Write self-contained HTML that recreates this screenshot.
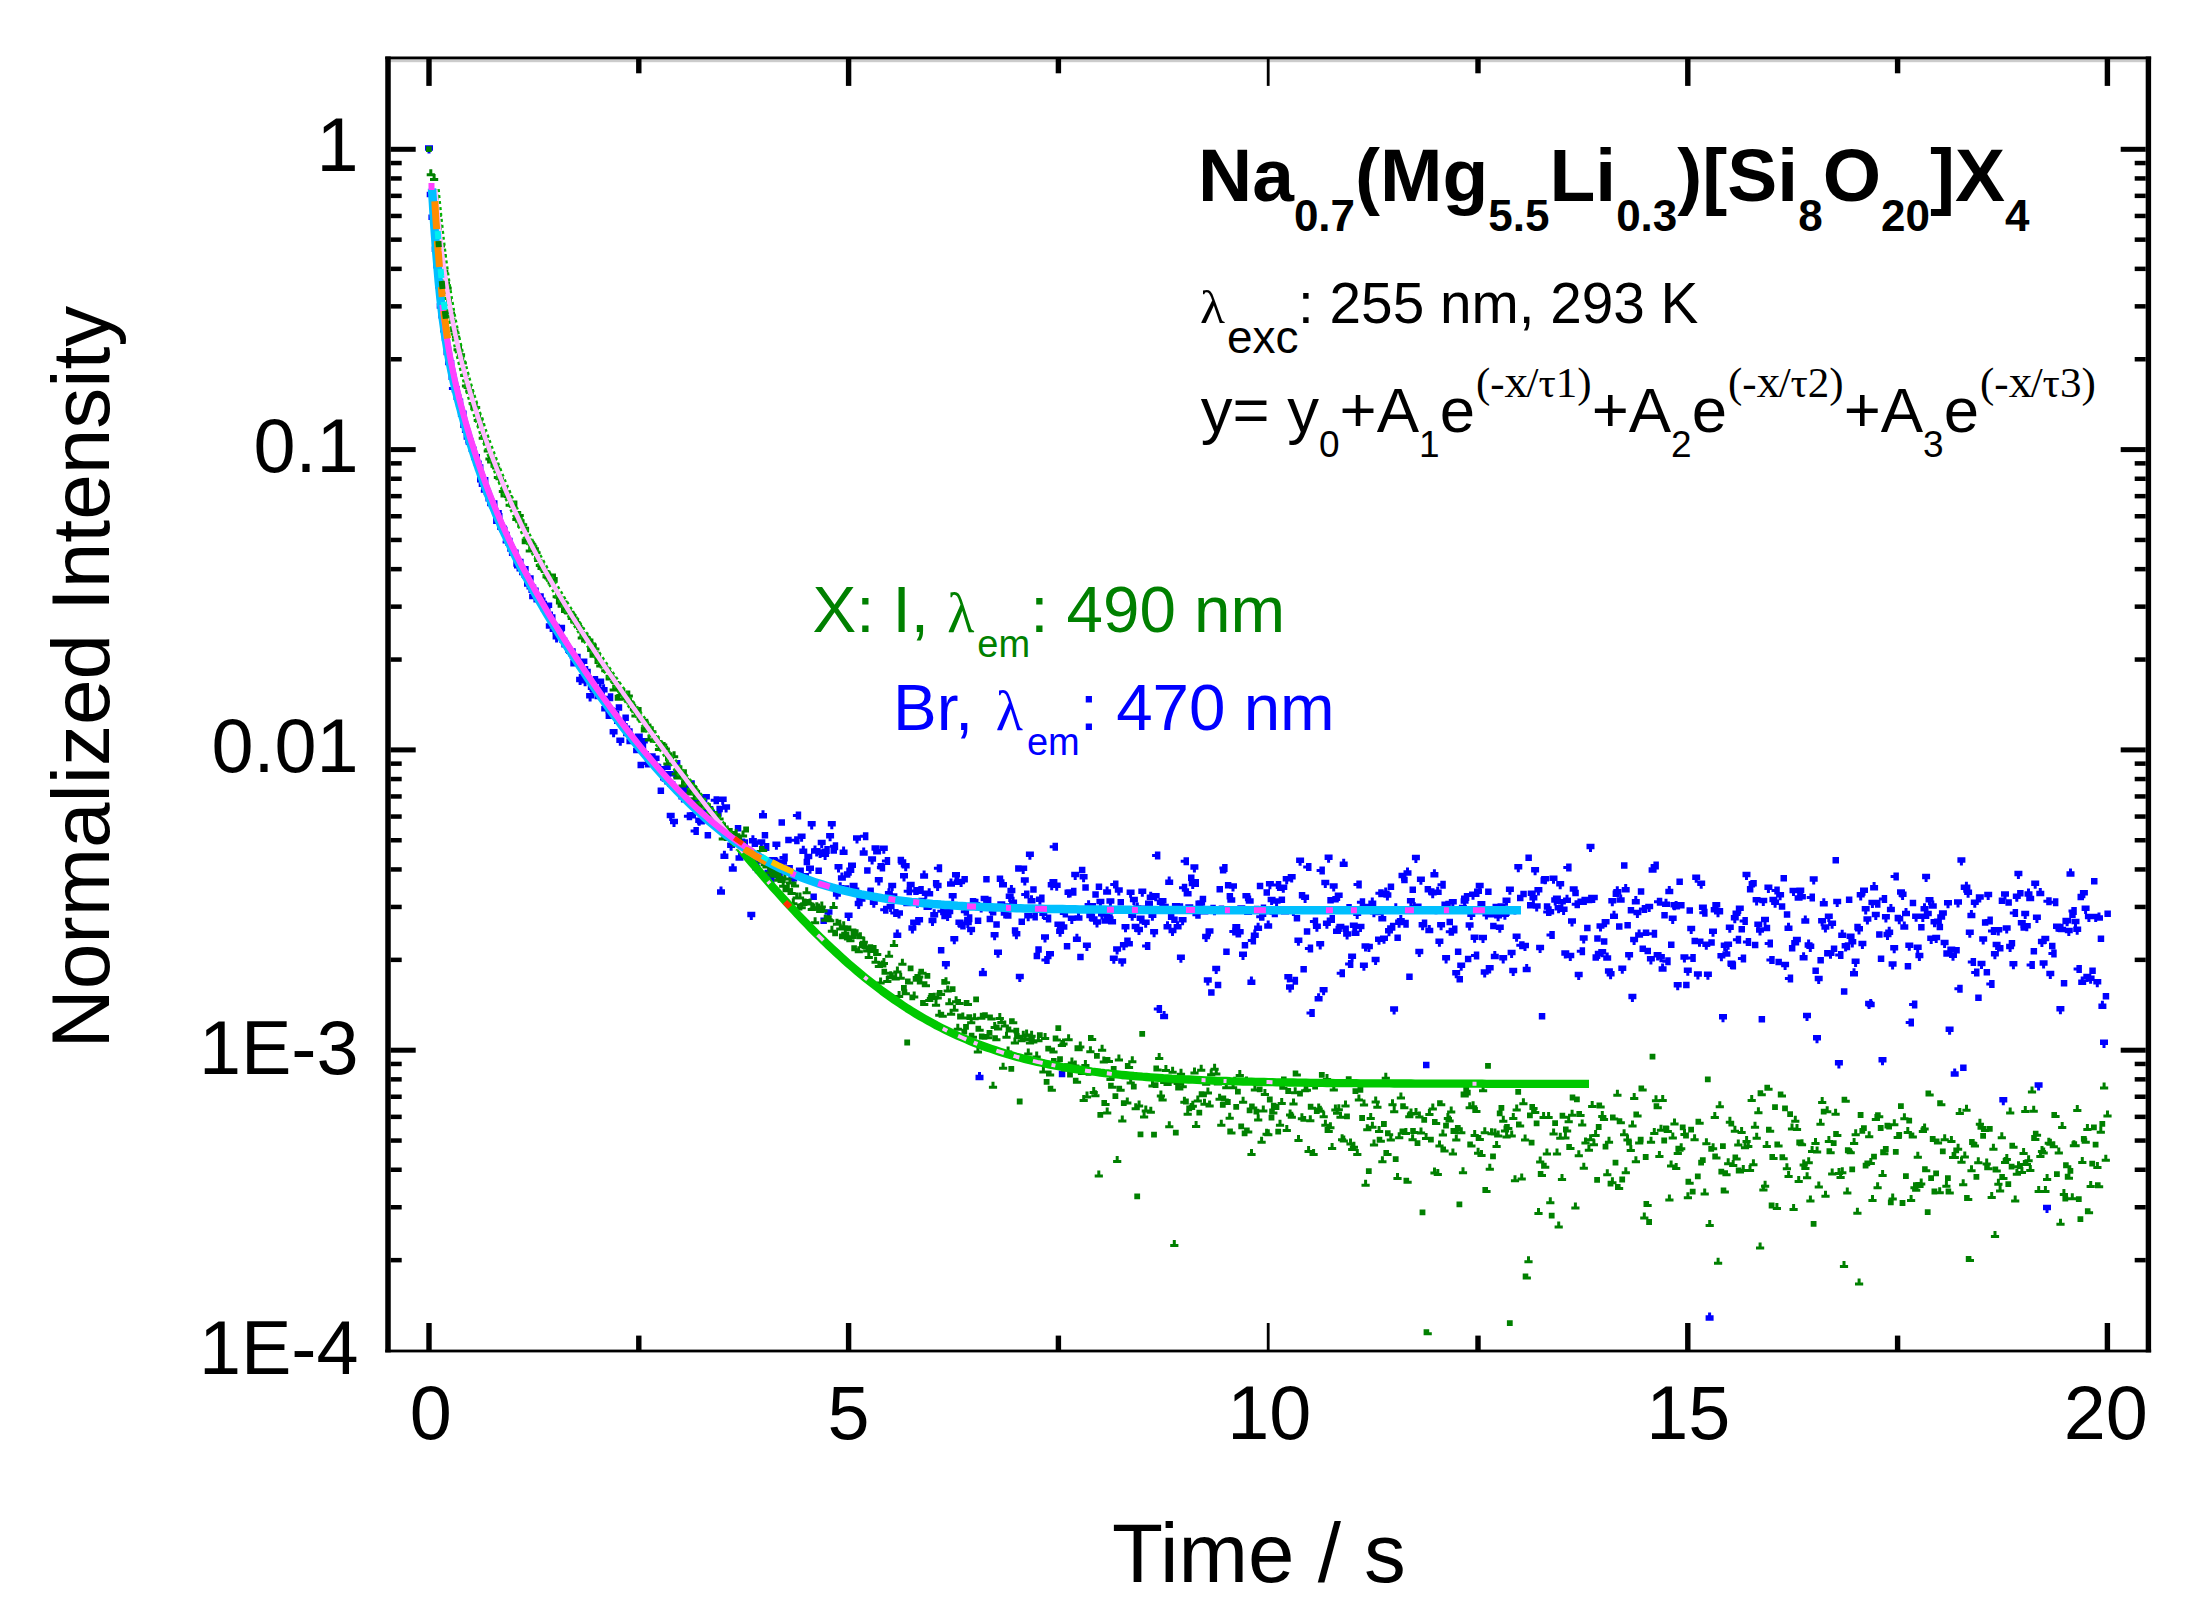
<!DOCTYPE html>
<html><head><meta charset="utf-8"><title>Decay curves</title>
<style>
html,body{margin:0;padding:0;background:#fff}
svg{display:block}
text{font-family:"Liberation Sans",sans-serif;fill:#000}
.ser{font-family:"Liberation Serif",serif}
</style></head><body>
<svg width="2198" height="1617" viewBox="0 0 2198 1617">
<rect width="2198" height="1617" fill="#fff"/>
<g id="frame" fill="#000">
<rect x="385.25" y="59.199999999999996" width="1765.9" height="3" fill="#ccc"/>
<rect x="385.25" y="56.5" width="5.5" height="1295.8999999999999"/>
<rect x="2145.7000000000003" y="56.5" width="5.4" height="1295.8999999999999"/>
<rect x="385.25" y="56.5" width="1765.9" height="2.8"/>
<rect x="385.25" y="1349.6" width="1765.9" height="2.8"/>
<rect x="426.3" y="57.9" width="5.4" height="28.0"/>
<rect x="426.3" y="1323.0" width="5.4" height="28.0"/>
<rect x="636.1" y="57.9" width="5.4" height="15.4"/>
<rect x="636.1" y="1335.6" width="5.4" height="15.4"/>
<rect x="845.9" y="57.9" width="5.4" height="28.0"/>
<rect x="845.9" y="1323.0" width="5.4" height="28.0"/>
<rect x="1055.7" y="57.9" width="5.4" height="15.4"/>
<rect x="1055.7" y="1335.6" width="5.4" height="15.4"/>
<rect x="1266.8" y="57.9" width="2.8" height="28.0"/>
<rect x="1266.8" y="1323.0" width="2.8" height="28.0"/>
<rect x="1475.3" y="57.9" width="5.4" height="15.4"/>
<rect x="1475.3" y="1335.6" width="5.4" height="15.4"/>
<rect x="1685.1" y="57.9" width="5.4" height="28.0"/>
<rect x="1685.1" y="1323.0" width="5.4" height="28.0"/>
<rect x="1894.9" y="57.9" width="5.4" height="15.4"/>
<rect x="1894.9" y="1335.6" width="5.4" height="15.4"/>
<rect x="2104.7" y="57.9" width="5.4" height="28.0"/>
<rect x="2104.7" y="1323.0" width="5.4" height="28.0"/>
<rect x="390.7" y="146.8" width="25" height="5.0"/>
<rect x="2120.7" y="146.8" width="25" height="5.0"/>
<rect x="390.7" y="447.1" width="25" height="5.0"/>
<rect x="2120.7" y="447.1" width="25" height="5.0"/>
<rect x="390.7" y="357.0" width="11" height="4.5"/>
<rect x="2134.7" y="357.0" width="11" height="4.5"/>
<rect x="390.7" y="304.1" width="11" height="4.5"/>
<rect x="2134.7" y="304.1" width="11" height="4.5"/>
<rect x="390.7" y="266.6" width="11" height="4.5"/>
<rect x="2134.7" y="266.6" width="11" height="4.5"/>
<rect x="390.7" y="237.4" width="11" height="4.5"/>
<rect x="2134.7" y="237.4" width="11" height="4.5"/>
<rect x="390.7" y="213.7" width="11" height="4.5"/>
<rect x="2134.7" y="213.7" width="11" height="4.5"/>
<rect x="390.7" y="193.6" width="11" height="4.5"/>
<rect x="2134.7" y="193.6" width="11" height="4.5"/>
<rect x="390.7" y="176.2" width="11" height="4.5"/>
<rect x="2134.7" y="176.2" width="11" height="4.5"/>
<rect x="390.7" y="160.8" width="11" height="4.5"/>
<rect x="2134.7" y="160.8" width="11" height="4.5"/>
<rect x="390.7" y="747.4" width="25" height="5.0"/>
<rect x="2120.7" y="747.4" width="25" height="5.0"/>
<rect x="390.7" y="657.3" width="11" height="4.5"/>
<rect x="2134.7" y="657.3" width="11" height="4.5"/>
<rect x="390.7" y="604.4" width="11" height="4.5"/>
<rect x="2134.7" y="604.4" width="11" height="4.5"/>
<rect x="390.7" y="566.9" width="11" height="4.5"/>
<rect x="2134.7" y="566.9" width="11" height="4.5"/>
<rect x="390.7" y="537.7" width="11" height="4.5"/>
<rect x="2134.7" y="537.7" width="11" height="4.5"/>
<rect x="390.7" y="514.0" width="11" height="4.5"/>
<rect x="2134.7" y="514.0" width="11" height="4.5"/>
<rect x="390.7" y="493.9" width="11" height="4.5"/>
<rect x="2134.7" y="493.9" width="11" height="4.5"/>
<rect x="390.7" y="476.5" width="11" height="4.5"/>
<rect x="2134.7" y="476.5" width="11" height="4.5"/>
<rect x="390.7" y="461.1" width="11" height="4.5"/>
<rect x="2134.7" y="461.1" width="11" height="4.5"/>
<rect x="390.7" y="1047.7" width="25" height="5.0"/>
<rect x="2120.7" y="1047.7" width="25" height="5.0"/>
<rect x="390.7" y="957.6" width="11" height="4.5"/>
<rect x="2134.7" y="957.6" width="11" height="4.5"/>
<rect x="390.7" y="904.7" width="11" height="4.5"/>
<rect x="2134.7" y="904.7" width="11" height="4.5"/>
<rect x="390.7" y="867.2" width="11" height="4.5"/>
<rect x="2134.7" y="867.2" width="11" height="4.5"/>
<rect x="390.7" y="838.0" width="11" height="4.5"/>
<rect x="2134.7" y="838.0" width="11" height="4.5"/>
<rect x="390.7" y="814.3" width="11" height="4.5"/>
<rect x="2134.7" y="814.3" width="11" height="4.5"/>
<rect x="390.7" y="794.2" width="11" height="4.5"/>
<rect x="2134.7" y="794.2" width="11" height="4.5"/>
<rect x="390.7" y="776.8" width="11" height="4.5"/>
<rect x="2134.7" y="776.8" width="11" height="4.5"/>
<rect x="390.7" y="761.4" width="11" height="4.5"/>
<rect x="2134.7" y="761.4" width="11" height="4.5"/>
<rect x="390.7" y="1257.9" width="11" height="4.5"/>
<rect x="2134.7" y="1257.9" width="11" height="4.5"/>
<rect x="390.7" y="1205.0" width="11" height="4.5"/>
<rect x="2134.7" y="1205.0" width="11" height="4.5"/>
<rect x="390.7" y="1167.5" width="11" height="4.5"/>
<rect x="2134.7" y="1167.5" width="11" height="4.5"/>
<rect x="390.7" y="1138.3" width="11" height="4.5"/>
<rect x="2134.7" y="1138.3" width="11" height="4.5"/>
<rect x="390.7" y="1114.6" width="11" height="4.5"/>
<rect x="2134.7" y="1114.6" width="11" height="4.5"/>
<rect x="390.7" y="1094.5" width="11" height="4.5"/>
<rect x="2134.7" y="1094.5" width="11" height="4.5"/>
<rect x="390.7" y="1077.1" width="11" height="4.5"/>
<rect x="2134.7" y="1077.1" width="11" height="4.5"/>
<rect x="390.7" y="1061.7" width="11" height="4.5"/>
<rect x="2134.7" y="1061.7" width="11" height="4.5"/>
</g>
<g id="data">
<path fill="#0000ff" d="M425.0,145.3h8v5.5h-2.5v2.8h-3v-2.8h-2.5zM426.7,191.8h8v5.5h-2.5v2.8h-3v-2.8h-2.5zM428.4,214.4h2.5v-2.8h3v2.8h2.5v5.5h-8zM430.0,215.3h8v5.5h-2.5v2.8h-3v-2.8h-2.5zM431.7,246.4h8v5.5h-2.5v2.8h-3v-2.8h-2.5zM433.4,263.1h8v5.5h-2.5v2.8h-3v-2.8h-2.5zM435.1,283.1h8v5.5h-2.5v2.8h-3v-2.8h-2.5zM436.7,303.3h2.5v-2.8h3v2.8h2.5v5.5h-8zM438.4,312.9h8v5.5h-2.5v2.8h-3v-2.8h-2.5zM440.1,327.1h2.5v-2.8h3v2.8h2.5v5.5h-8zM441.8,335.4h8v5.5h-2.5v2.8h-3v-2.8h-2.5zM443.5,349.7h8v5.5h-2.5v2.8h-3v-2.8h-2.5zM445.1,359.8h2.5v-2.8h3v2.8h2.5v5.5h-8zM447.8,359.9h6.5v6.5h-6.5zM448.5,374.5h8v5.5h-2.5v2.8h-3v-2.8h-2.5zM451.7,384.5h5.5v8h-5.5v-2.5h-2.8v-3h2.8zM451.9,386.3h8v5.5h-2.5v2.8h-3v-2.8h-2.5zM453.5,394.5h2.5v-2.8h3v2.8h2.5v5.5h-8zM455.2,398.6h8v5.5h-2.5v2.8h-3v-2.8h-2.5zM457.9,410.4h6.5v6.5h-6.5zM458.6,410.4h8v5.5h-2.5v2.8h-3v-2.8h-2.5zM460.2,422.5h2.5v-2.8h3v2.8h2.5v5.5h-8zM461.9,427.6h8v5.5h-2.5v2.8h-3v-2.8h-2.5zM463.6,434.2h8v5.5h-2.5v2.8h-3v-2.8h-2.5zM465.3,438.1h8v5.5h-2.5v2.8h-3v-2.8h-2.5zM468.5,439.6h5.5v8h-5.5v-2.5h-2.8v-3h2.8zM468.6,446.5h2.5v-2.8h3v2.8h2.5v5.5h-8zM471.3,453.8h6.5v6.5h-6.5zM472.0,454.1h8v5.5h-2.5v2.8h-3v-2.8h-2.5zM473.7,460.5h8v5.5h-2.5v2.8h-3v-2.8h-2.5zM475.4,464.3h8v5.5h-2.5v2.8h-3v-2.8h-2.5zM477.0,477.0h2.5v-2.8h3v2.8h2.5v5.5h-8zM478.7,481.5h8v5.5h-2.5v2.8h-3v-2.8h-2.5zM480.4,476.9h8v5.5h-2.5v2.8h-3v-2.8h-2.5zM483.6,487.2h5.5v8h-5.5v-2.5h-2.8v-3h2.8zM484.7,490.7h6.5v6.5h-6.5zM485.4,495.9h8v5.5h-2.5v2.8h-3v-2.8h-2.5zM487.1,500.8h8v5.5h-2.5v2.8h-3v-2.8h-2.5zM488.8,501.9h8v5.5h-2.5v2.8h-3v-2.8h-2.5zM492.0,500.3h5.5v8h-5.5v-2.5h-2.8v-3h2.8zM493.1,517.5h6.5v6.5h-6.5zM493.8,510.1h8v5.5h-2.5v2.8h-3v-2.8h-2.5zM497.0,513.0h5.5v8h-5.5v-2.5h-2.8v-3h2.8zM497.2,524.5h2.5v-2.8h3v2.8h2.5v5.5h-8zM498.8,525.6h8v5.5h-2.5v2.8h-3v-2.8h-2.5zM502.0,526.8h5.5v8h-5.5v-2.5h-2.8v-3h2.8zM503.2,531.7h6.5v6.5h-6.5zM505.4,538.1h5.5v8h-5.5v-2.5h-2.8v-3h2.8zM507.1,537.7h5.5v8h-5.5v-2.5h-2.8v-3h2.8zM507.2,546.2h8v5.5h-2.5v2.8h-3v-2.8h-2.5zM508.9,550.6h2.5v-2.8h3v2.8h2.5v5.5h-8zM510.6,549.5h8v5.5h-2.5v2.8h-3v-2.8h-2.5zM513.3,560.3h6.5v6.5h-6.5zM514.0,563.1h8v5.5h-2.5v2.8h-3v-2.8h-2.5zM515.6,558.8h8v5.5h-2.5v2.8h-3v-2.8h-2.5zM517.3,565.3h8v5.5h-2.5v2.8h-3v-2.8h-2.5zM519.0,569.8h8v5.5h-2.5v2.8h-3v-2.8h-2.5zM520.7,566.1h8v5.5h-2.5v2.8h-3v-2.8h-2.5zM522.3,573.4h8v5.5h-2.5v2.8h-3v-2.8h-2.5zM524.0,581.3h8v5.5h-2.5v2.8h-3v-2.8h-2.5zM525.7,575.3h8v5.5h-2.5v2.8h-3v-2.8h-2.5zM528.4,586.5h6.5v6.5h-6.5zM529.1,593.7h2.5v-2.8h3v2.8h2.5v5.5h-8zM530.7,587.4h2.5v-2.8h3v2.8h2.5v5.5h-8zM533.4,596.1h6.5v6.5h-6.5zM534.1,594.5h8v5.5h-2.5v2.8h-3v-2.8h-2.5zM535.8,593.3h8v5.5h-2.5v2.8h-3v-2.8h-2.5zM537.5,597.5h8v5.5h-2.5v2.8h-3v-2.8h-2.5zM539.1,600.7h8v5.5h-2.5v2.8h-3v-2.8h-2.5zM540.8,606.2h8v5.5h-2.5v2.8h-3v-2.8h-2.5zM542.5,607.6h8v5.5h-2.5v2.8h-3v-2.8h-2.5zM544.2,602.6h8v5.5h-2.5v2.8h-3v-2.8h-2.5zM545.8,623.2h2.5v-2.8h3v2.8h2.5v5.5h-8zM547.5,614.2h2.5v-2.8h3v2.8h2.5v5.5h-8zM549.2,622.1h8v5.5h-2.5v2.8h-3v-2.8h-2.5zM552.4,626.6h5.5v8h-5.5v-2.5h-2.8v-3h2.8zM552.6,634.1h8v5.5h-2.5v2.8h-3v-2.8h-2.5zM554.2,626.5h2.5v-2.8h3v2.8h2.5v5.5h-8zM555.9,630.3h8v5.5h-2.5v2.8h-3v-2.8h-2.5zM558.6,624.7h6.5v6.5h-6.5zM559.3,637.4h8v5.5h-2.5v2.8h-3v-2.8h-2.5zM562.0,639.9h6.5v6.5h-6.5zM564.1,641.9h5.5v8h-5.5v-2.5h-2.8v-3h2.8zM565.3,646.5h6.5v6.5h-6.5zM566.0,648.5h8v5.5h-2.5v2.8h-3v-2.8h-2.5zM567.7,648.2h8v5.5h-2.5v2.8h-3v-2.8h-2.5zM570.3,659.9h6.5v6.5h-6.5zM572.5,653.8h5.5v8h-5.5v-2.5h-2.8v-3h2.8zM572.7,653.7h8v5.5h-2.5v2.8h-3v-2.8h-2.5zM574.4,660.5h8v5.5h-2.5v2.8h-3v-2.8h-2.5zM576.1,676.7h8v5.5h-2.5v2.8h-3v-2.8h-2.5zM578.7,673.9h6.5v6.5h-6.5zM579.4,658.4h8v5.5h-2.5v2.8h-3v-2.8h-2.5zM581.1,677.9h8v5.5h-2.5v2.8h-3v-2.8h-2.5zM582.8,668.7h2.5v-2.8h3v2.8h2.5v5.5h-8zM585.4,675.5h6.5v6.5h-6.5zM586.1,693.1h8v5.5h-2.5v2.8h-3v-2.8h-2.5zM587.8,684.4h8v5.5h-2.5v2.8h-3v-2.8h-2.5zM589.5,686.6h2.5v-2.8h3v2.8h2.5v5.5h-8zM592.7,676.0h5.5v8h-5.5v-2.5h-2.8v-3h2.8zM592.8,686.5h8v5.5h-2.5v2.8h-3v-2.8h-2.5zM594.5,693.7h2.5v-2.8h3v2.8h2.5v5.5h-8zM596.2,678.4h8v5.5h-2.5v2.8h-3v-2.8h-2.5zM599.4,689.7h5.5v8h-5.5v-2.5h-2.8v-3h2.8zM599.6,687.0h2.5v-2.8h3v2.8h2.5v5.5h-8zM601.2,706.0h2.5v-2.8h3v2.8h2.5v5.5h-8zM602.9,705.4h8v5.5h-2.5v2.8h-3v-2.8h-2.5zM605.6,712.5h6.5v6.5h-6.5zM607.8,693.3h5.5v8h-5.5v-2.5h-2.8v-3h2.8zM609.4,707.5h5.5v8h-5.5v-2.5h-2.8v-3h2.8zM609.6,729.0h8v5.5h-2.5v2.8h-3v-2.8h-2.5zM611.3,711.0h2.5v-2.8h3v2.8h2.5v5.5h-8zM614.0,717.4h6.5v6.5h-6.5zM615.7,704.3h6.5v6.5h-6.5zM616.3,737.4h8v5.5h-2.5v2.8h-3v-2.8h-2.5zM618.0,721.3h8v5.5h-2.5v2.8h-3v-2.8h-2.5zM619.7,723.1h2.5v-2.8h3v2.8h2.5v5.5h-8zM622.4,714.6h6.5v6.5h-6.5zM623.1,730.8h2.5v-2.8h3v2.8h2.5v5.5h-8zM624.7,728.2h2.5v-2.8h3v2.8h2.5v5.5h-8zM626.4,738.8h2.5v-2.8h3v2.8h2.5v5.5h-8zM629.6,734.9h5.5v8h-5.5v-2.5h-2.8v-3h2.8zM630.8,735.5h6.5v6.5h-6.5zM632.9,735.9h5.5v8h-5.5v-2.5h-2.8v-3h2.8zM633.1,747.8h2.5v-2.8h3v2.8h2.5v5.5h-8zM634.8,733.5h8v5.5h-2.5v2.8h-3v-2.8h-2.5zM637.5,761.7h6.5v6.5h-6.5zM638.2,743.5h2.5v-2.8h3v2.8h2.5v5.5h-8zM639.8,738.0h8v5.5h-2.5v2.8h-3v-2.8h-2.5zM642.5,751.0h6.5v6.5h-6.5zM644.7,759.6h5.5v8h-5.5v-2.5h-2.8v-3h2.8zM644.9,758.2h8v5.5h-2.5v2.8h-3v-2.8h-2.5zM647.5,753.7h6.5v6.5h-6.5zM649.2,753.3h6.5v6.5h-6.5zM650.9,760.1h6.5v6.5h-6.5zM651.6,755.5h8v5.5h-2.5v2.8h-3v-2.8h-2.5zM653.3,764.3h8v5.5h-2.5v2.8h-3v-2.8h-2.5zM654.9,766.2h2.5v-2.8h3v2.8h2.5v5.5h-8zM657.6,787.4h6.5v6.5h-6.5zM659.8,766.1h5.5v8h-5.5v-2.5h-2.8v-3h2.8zM660.0,774.9h2.5v-2.8h3v2.8h2.5v5.5h-8zM661.7,776.2h8v5.5h-2.5v2.8h-3v-2.8h-2.5zM664.3,763.4h6.5v6.5h-6.5zM665.0,770.9h8v5.5h-2.5v2.8h-3v-2.8h-2.5zM666.7,812.8h8v5.5h-2.5v2.8h-3v-2.8h-2.5zM669.9,781.2h5.5v8h-5.5v-2.5h-2.8v-3h2.8zM670.0,818.7h8v5.5h-2.5v2.8h-3v-2.8h-2.5zM673.2,769.9h5.5v8h-5.5v-2.5h-2.8v-3h2.8zM674.9,759.9h5.5v8h-5.5v-2.5h-2.8v-3h2.8zM675.1,787.0h8v5.5h-2.5v2.8h-3v-2.8h-2.5zM676.8,790.3h8v5.5h-2.5v2.8h-3v-2.8h-2.5zM678.4,794.1h8v5.5h-2.5v2.8h-3v-2.8h-2.5zM681.6,786.1h5.5v8h-5.5v-2.5h-2.8v-3h2.8zM682.8,788.1h6.5v6.5h-6.5zM683.5,786.6h2.5v-2.8h3v2.8h2.5v5.5h-8zM686.7,812.3h5.5v8h-5.5v-2.5h-2.8v-3h2.8zM686.8,780.2h8v5.5h-2.5v2.8h-3v-2.8h-2.5zM689.5,812.1h6.5v6.5h-6.5zM691.7,798.2h5.5v8h-5.5v-2.5h-2.8v-3h2.8zM693.4,827.1h5.5v8h-5.5v-2.5h-2.8v-3h2.8zM693.5,793.0h8v5.5h-2.5v2.8h-3v-2.8h-2.5zM695.2,817.5h8v5.5h-2.5v2.8h-3v-2.8h-2.5zM696.9,818.9h2.5v-2.8h3v2.8h2.5v5.5h-8zM698.6,817.7h2.5v-2.8h3v2.8h2.5v5.5h-8zM700.3,808.8h8v5.5h-2.5v2.8h-3v-2.8h-2.5zM701.9,794.1h8v5.5h-2.5v2.8h-3v-2.8h-2.5zM704.6,831.9h6.5v6.5h-6.5zM705.3,806.0h8v5.5h-2.5v2.8h-3v-2.8h-2.5zM707.0,809.6h2.5v-2.8h3v2.8h2.5v5.5h-8zM708.6,811.5h8v5.5h-2.5v2.8h-3v-2.8h-2.5zM710.3,812.9h8v5.5h-2.5v2.8h-3v-2.8h-2.5zM713.5,796.3h5.5v8h-5.5v-2.5h-2.8v-3h2.8zM713.7,811.2h8v5.5h-2.5v2.8h-3v-2.8h-2.5zM716.4,805.7h6.5v6.5h-6.5zM717.0,889.2h2.5v-2.8h3v2.8h2.5v5.5h-8zM718.7,796.4h8v5.5h-2.5v2.8h-3v-2.8h-2.5zM720.4,853.5h2.5v-2.8h3v2.8h2.5v5.5h-8zM722.1,804.3h8v5.5h-2.5v2.8h-3v-2.8h-2.5zM724.8,831.8h6.5v6.5h-6.5zM725.4,833.5h2.5v-2.8h3v2.8h2.5v5.5h-8zM727.1,842.5h8v5.5h-2.5v2.8h-3v-2.8h-2.5zM728.8,866.2h2.5v-2.8h3v2.8h2.5v5.5h-8zM732.0,833.8h5.5v8h-5.5v-2.5h-2.8v-3h2.8zM732.1,838.3h8v5.5h-2.5v2.8h-3v-2.8h-2.5zM734.8,825.1h6.5v6.5h-6.5zM735.5,855.3h2.5v-2.8h3v2.8h2.5v5.5h-8zM737.2,838.4h8v5.5h-2.5v2.8h-3v-2.8h-2.5zM738.9,842.1h2.5v-2.8h3v2.8h2.5v5.5h-8zM741.5,839.3h6.5v6.5h-6.5zM743.7,848.3h5.5v8h-5.5v-2.5h-2.8v-3h2.8zM743.9,847.5h8v5.5h-2.5v2.8h-3v-2.8h-2.5zM745.6,855.6h8v5.5h-2.5v2.8h-3v-2.8h-2.5zM747.3,911.7h8v5.5h-2.5v2.8h-3v-2.8h-2.5zM748.9,838.0h2.5v-2.8h3v2.8h2.5v5.5h-8zM751.6,840.4h6.5v6.5h-6.5zM752.3,865.0h8v5.5h-2.5v2.8h-3v-2.8h-2.5zM754.0,857.9h8v5.5h-2.5v2.8h-3v-2.8h-2.5zM756.6,856.7h6.5v6.5h-6.5zM757.3,839.3h8v5.5h-2.5v2.8h-3v-2.8h-2.5zM759.0,813.0h2.5v-2.8h3v2.8h2.5v5.5h-8zM761.7,831.9h6.5v6.5h-6.5zM763.9,843.1h5.5v8h-5.5v-2.5h-2.8v-3h2.8zM765.0,872.4h6.5v6.5h-6.5zM767.2,867.3h5.5v8h-5.5v-2.5h-2.8v-3h2.8zM768.9,875.5h5.5v8h-5.5v-2.5h-2.8v-3h2.8zM769.1,857.1h8v5.5h-2.5v2.8h-3v-2.8h-2.5zM771.8,857.5h6.5v6.5h-6.5zM772.4,841.4h8v5.5h-2.5v2.8h-3v-2.8h-2.5zM775.1,859.2h6.5v6.5h-6.5zM777.3,873.1h5.5v8h-5.5v-2.5h-2.8v-3h2.8zM778.5,819.3h6.5v6.5h-6.5zM779.1,859.3h8v5.5h-2.5v2.8h-3v-2.8h-2.5zM782.3,853.6h5.5v8h-5.5v-2.5h-2.8v-3h2.8zM783.5,865.2h6.5v6.5h-6.5zM785.2,836.7h6.5v6.5h-6.5zM787.4,864.9h5.5v8h-5.5v-2.5h-2.8v-3h2.8zM788.5,871.6h6.5v6.5h-6.5zM789.2,876.0h8v5.5h-2.5v2.8h-3v-2.8h-2.5zM790.9,872.8h8v5.5h-2.5v2.8h-3v-2.8h-2.5zM794.1,836.3h5.5v8h-5.5v-2.5h-2.8v-3h2.8zM795.7,811.5h5.5v8h-5.5v-2.5h-2.8v-3h2.8zM795.9,867.6h8v5.5h-2.5v2.8h-3v-2.8h-2.5zM797.6,833.4h8v5.5h-2.5v2.8h-3v-2.8h-2.5zM799.3,848.6h2.5v-2.8h3v2.8h2.5v5.5h-8zM801.0,872.9h8v5.5h-2.5v2.8h-3v-2.8h-2.5zM803.6,858.7h6.5v6.5h-6.5zM804.3,853.7h8v5.5h-2.5v2.8h-3v-2.8h-2.5zM806.0,865.4h8v5.5h-2.5v2.8h-3v-2.8h-2.5zM807.7,821.1h8v5.5h-2.5v2.8h-3v-2.8h-2.5zM810.4,893.5h6.5v6.5h-6.5zM811.0,848.3h2.5v-2.8h3v2.8h2.5v5.5h-8zM812.7,848.1h8v5.5h-2.5v2.8h-3v-2.8h-2.5zM815.4,867.4h6.5v6.5h-6.5zM816.1,849.6h8v5.5h-2.5v2.8h-3v-2.8h-2.5zM817.7,839.8h8v5.5h-2.5v2.8h-3v-2.8h-2.5zM820.4,917.5h6.5v6.5h-6.5zM821.1,851.6h8v5.5h-2.5v2.8h-3v-2.8h-2.5zM824.3,846.1h5.5v8h-5.5v-2.5h-2.8v-3h2.8zM824.5,909.3h8v5.5h-2.5v2.8h-3v-2.8h-2.5zM826.1,832.9h8v5.5h-2.5v2.8h-3v-2.8h-2.5zM827.8,820.9h8v5.5h-2.5v2.8h-3v-2.8h-2.5zM830.5,847.3h6.5v6.5h-6.5zM832.7,842.2h5.5v8h-5.5v-2.5h-2.8v-3h2.8zM832.9,891.3h8v5.5h-2.5v2.8h-3v-2.8h-2.5zM834.5,864.1h8v5.5h-2.5v2.8h-3v-2.8h-2.5zM836.2,885.1h2.5v-2.8h3v2.8h2.5v5.5h-8zM837.9,875.2h2.5v-2.8h3v2.8h2.5v5.5h-8zM839.6,849.4h2.5v-2.8h3v2.8h2.5v5.5h-8zM841.2,885.2h8v5.5h-2.5v2.8h-3v-2.8h-2.5zM843.9,871.3h6.5v6.5h-6.5zM844.6,912.6h8v5.5h-2.5v2.8h-3v-2.8h-2.5zM846.3,867.5h8v5.5h-2.5v2.8h-3v-2.8h-2.5zM848.0,862.6h8v5.5h-2.5v2.8h-3v-2.8h-2.5zM849.6,882.8h8v5.5h-2.5v2.8h-3v-2.8h-2.5zM851.3,887.4h8v5.5h-2.5v2.8h-3v-2.8h-2.5zM853.0,835.3h8v5.5h-2.5v2.8h-3v-2.8h-2.5zM854.7,900.7h8v5.5h-2.5v2.8h-3v-2.8h-2.5zM856.3,895.4h8v5.5h-2.5v2.8h-3v-2.8h-2.5zM859.0,895.2h6.5v6.5h-6.5zM859.7,850.3h2.5v-2.8h3v2.8h2.5v5.5h-8zM862.9,832.2h5.5v8h-5.5v-2.5h-2.8v-3h2.8zM864.1,867.2h6.5v6.5h-6.5zM864.7,891.7h2.5v-2.8h3v2.8h2.5v5.5h-8zM867.4,887.4h6.5v6.5h-6.5zM868.1,856.2h8v5.5h-2.5v2.8h-3v-2.8h-2.5zM869.8,899.4h8v5.5h-2.5v2.8h-3v-2.8h-2.5zM871.5,845.2h8v5.5h-2.5v2.8h-3v-2.8h-2.5zM873.1,849.1h2.5v-2.8h3v2.8h2.5v5.5h-8zM874.8,877.1h8v5.5h-2.5v2.8h-3v-2.8h-2.5zM877.5,863.0h6.5v6.5h-6.5zM879.7,863.6h5.5v8h-5.5v-2.5h-2.8v-3h2.8zM879.8,845.4h8v5.5h-2.5v2.8h-3v-2.8h-2.5zM883.0,905.7h5.5v8h-5.5v-2.5h-2.8v-3h2.8zM884.7,857.0h5.5v8h-5.5v-2.5h-2.8v-3h2.8zM884.9,891.1h2.5v-2.8h3v2.8h2.5v5.5h-8zM886.6,903.7h8v5.5h-2.5v2.8h-3v-2.8h-2.5zM888.2,882.7h8v5.5h-2.5v2.8h-3v-2.8h-2.5zM890.9,893.3h6.5v6.5h-6.5zM893.1,909.1h5.5v8h-5.5v-2.5h-2.8v-3h2.8zM893.3,932.4h2.5v-2.8h3v2.8h2.5v5.5h-8zM895.0,910.3h8v5.5h-2.5v2.8h-3v-2.8h-2.5zM897.6,856.7h6.5v6.5h-6.5zM898.3,859.2h8v5.5h-2.5v2.8h-3v-2.8h-2.5zM900.0,873.1h8v5.5h-2.5v2.8h-3v-2.8h-2.5zM901.7,863.0h8v5.5h-2.5v2.8h-3v-2.8h-2.5zM903.3,900.7h2.5v-2.8h3v2.8h2.5v5.5h-8zM906.5,887.2h5.5v8h-5.5v-2.5h-2.8v-3h2.8zM906.7,881.7h8v5.5h-2.5v2.8h-3v-2.8h-2.5zM908.4,925.2h8v5.5h-2.5v2.8h-3v-2.8h-2.5zM910.1,919.4h8v5.5h-2.5v2.8h-3v-2.8h-2.5zM913.2,886.9h5.5v8h-5.5v-2.5h-2.8v-3h2.8zM913.4,899.5h8v5.5h-2.5v2.8h-3v-2.8h-2.5zM915.1,916.9h8v5.5h-2.5v2.8h-3v-2.8h-2.5zM918.3,886.0h5.5v8h-5.5v-2.5h-2.8v-3h2.8zM918.4,897.7h8v5.5h-2.5v2.8h-3v-2.8h-2.5zM920.1,873.3h2.5v-2.8h3v2.8h2.5v5.5h-8zM921.8,890.4h8v5.5h-2.5v2.8h-3v-2.8h-2.5zM923.5,904.6h2.5v-2.8h3v2.8h2.5v5.5h-8zM925.2,891.1h2.5v-2.8h3v2.8h2.5v5.5h-8zM926.8,901.0h8v5.5h-2.5v2.8h-3v-2.8h-2.5zM928.5,917.8h8v5.5h-2.5v2.8h-3v-2.8h-2.5zM930.2,912.0h2.5v-2.8h3v2.8h2.5v5.5h-8zM932.9,880.1h6.5v6.5h-6.5zM933.6,882.7h8v5.5h-2.5v2.8h-3v-2.8h-2.5zM936.7,864.3h5.5v8h-5.5v-2.5h-2.8v-3h2.8zM937.9,947.0h6.5v6.5h-6.5zM940.1,907.2h5.5v8h-5.5v-2.5h-2.8v-3h2.8zM941.3,912.8h6.5v6.5h-6.5zM941.9,961.0h8v5.5h-2.5v2.8h-3v-2.8h-2.5zM943.6,912.6h8v5.5h-2.5v2.8h-3v-2.8h-2.5zM945.3,908.7h8v5.5h-2.5v2.8h-3v-2.8h-2.5zM947.0,881.2h2.5v-2.8h3v2.8h2.5v5.5h-8zM948.7,893.1h8v5.5h-2.5v2.8h-3v-2.8h-2.5zM950.3,936.0h8v5.5h-2.5v2.8h-3v-2.8h-2.5zM952.0,872.1h8v5.5h-2.5v2.8h-3v-2.8h-2.5zM953.7,879.6h2.5v-2.8h3v2.8h2.5v5.5h-8zM955.4,919.5h8v5.5h-2.5v2.8h-3v-2.8h-2.5zM957.1,878.7h8v5.5h-2.5v2.8h-3v-2.8h-2.5zM960.2,921.4h5.5v8h-5.5v-2.5h-2.8v-3h2.8zM961.4,876.0h6.5v6.5h-6.5zM963.6,907.8h5.5v8h-5.5v-2.5h-2.8v-3h2.8zM963.8,919.8h8v5.5h-2.5v2.8h-3v-2.8h-2.5zM966.9,914.3h5.5v8h-5.5v-2.5h-2.8v-3h2.8zM967.1,926.7h8v5.5h-2.5v2.8h-3v-2.8h-2.5zM969.8,897.9h6.5v6.5h-6.5zM970.5,898.7h8v5.5h-2.5v2.8h-3v-2.8h-2.5zM972.2,901.9h8v5.5h-2.5v2.8h-3v-2.8h-2.5zM974.8,917.4h6.5v6.5h-6.5zM975.5,1074.8h2.5v-2.8h3v2.8h2.5v5.5h-8zM977.2,904.3h8v5.5h-2.5v2.8h-3v-2.8h-2.5zM978.9,970.7h2.5v-2.8h3v2.8h2.5v5.5h-8zM980.6,895.8h8v5.5h-2.5v2.8h-3v-2.8h-2.5zM983.2,876.0h6.5v6.5h-6.5zM984.9,896.8h6.5v6.5h-6.5zM986.6,915.8h6.5v6.5h-6.5zM988.8,905.2h5.5v8h-5.5v-2.5h-2.8v-3h2.8zM989.9,908.9h6.5v6.5h-6.5zM990.6,932.0h8v5.5h-2.5v2.8h-3v-2.8h-2.5zM993.3,921.2h6.5v6.5h-6.5zM994.0,949.4h8v5.5h-2.5v2.8h-3v-2.8h-2.5zM996.7,875.5h6.5v6.5h-6.5zM997.3,901.3h8v5.5h-2.5v2.8h-3v-2.8h-2.5zM999.0,882.0h2.5v-2.8h3v2.8h2.5v5.5h-8zM1000.7,910.2h8v5.5h-2.5v2.8h-3v-2.8h-2.5zM1003.9,903.2h5.5v8h-5.5v-2.5h-2.8v-3h2.8zM1005.0,912.2h6.5v6.5h-6.5zM1005.7,893.6h8v5.5h-2.5v2.8h-3v-2.8h-2.5zM1007.4,887.7h2.5v-2.8h3v2.8h2.5v5.5h-8zM1009.1,899.5h2.5v-2.8h3v2.8h2.5v5.5h-8zM1011.8,927.2h6.5v6.5h-6.5zM1012.4,930.9h8v5.5h-2.5v2.8h-3v-2.8h-2.5zM1015.1,865.3h6.5v6.5h-6.5zM1015.8,973.7h8v5.5h-2.5v2.8h-3v-2.8h-2.5zM1018.5,918.5h6.5v6.5h-6.5zM1019.2,865.6h8v5.5h-2.5v2.8h-3v-2.8h-2.5zM1020.8,877.2h8v5.5h-2.5v2.8h-3v-2.8h-2.5zM1024.0,890.6h5.5v8h-5.5v-2.5h-2.8v-3h2.8zM1024.2,913.0h8v5.5h-2.5v2.8h-3v-2.8h-2.5zM1025.9,851.5h8v5.5h-2.5v2.8h-3v-2.8h-2.5zM1027.5,898.0h2.5v-2.8h3v2.8h2.5v5.5h-8zM1030.2,886.2h6.5v6.5h-6.5zM1032.4,912.4h5.5v8h-5.5v-2.5h-2.8v-3h2.8zM1033.6,952.7h6.5v6.5h-6.5zM1035.3,946.2h6.5v6.5h-6.5zM1035.9,896.5h8v5.5h-2.5v2.8h-3v-2.8h-2.5zM1039.1,894.5h5.5v8h-5.5v-2.5h-2.8v-3h2.8zM1039.3,910.6h8v5.5h-2.5v2.8h-3v-2.8h-2.5zM1041.0,934.2h8v5.5h-2.5v2.8h-3v-2.8h-2.5zM1044.2,956.1h5.5v8h-5.5v-2.5h-2.8v-3h2.8zM1045.8,914.5h5.5v8h-5.5v-2.5h-2.8v-3h2.8zM1046.0,950.9h8v5.5h-2.5v2.8h-3v-2.8h-2.5zM1047.7,881.9h8v5.5h-2.5v2.8h-3v-2.8h-2.5zM1049.4,878.9h8v5.5h-2.5v2.8h-3v-2.8h-2.5zM1052.5,842.8h5.5v8h-5.5v-2.5h-2.8v-3h2.8zM1052.7,882.4h8v5.5h-2.5v2.8h-3v-2.8h-2.5zM1054.4,921.4h8v5.5h-2.5v2.8h-3v-2.8h-2.5zM1056.1,928.4h8v5.5h-2.5v2.8h-3v-2.8h-2.5zM1058.8,1070.7h6.5v6.5h-6.5zM1059.4,924.2h2.5v-2.8h3v2.8h2.5v5.5h-8zM1062.6,909.4h5.5v8h-5.5v-2.5h-2.8v-3h2.8zM1063.8,943.1h6.5v6.5h-6.5zM1064.5,889.5h8v5.5h-2.5v2.8h-3v-2.8h-2.5zM1066.1,889.3h8v5.5h-2.5v2.8h-3v-2.8h-2.5zM1067.8,915.6h8v5.5h-2.5v2.8h-3v-2.8h-2.5zM1071.0,887.8h5.5v8h-5.5v-2.5h-2.8v-3h2.8zM1071.2,871.8h8v5.5h-2.5v2.8h-3v-2.8h-2.5zM1072.9,936.5h2.5v-2.8h3v2.8h2.5v5.5h-8zM1074.5,915.2h2.5v-2.8h3v2.8h2.5v5.5h-8zM1077.2,953.8h6.5v6.5h-6.5zM1078.9,866.8h6.5v6.5h-6.5zM1079.6,874.0h8v5.5h-2.5v2.8h-3v-2.8h-2.5zM1082.3,884.2h6.5v6.5h-6.5zM1082.9,942.6h8v5.5h-2.5v2.8h-3v-2.8h-2.5zM1084.6,903.0h2.5v-2.8h3v2.8h2.5v5.5h-8zM1086.3,912.8h8v5.5h-2.5v2.8h-3v-2.8h-2.5zM1088.0,903.0h8v5.5h-2.5v2.8h-3v-2.8h-2.5zM1089.6,916.2h2.5v-2.8h3v2.8h2.5v5.5h-8zM1092.3,891.2h6.5v6.5h-6.5zM1093.0,919.2h8v5.5h-2.5v2.8h-3v-2.8h-2.5zM1095.7,883.5h6.5v6.5h-6.5zM1096.4,898.7h8v5.5h-2.5v2.8h-3v-2.8h-2.5zM1098.0,911.1h8v5.5h-2.5v2.8h-3v-2.8h-2.5zM1099.7,911.3h2.5v-2.8h3v2.8h2.5v5.5h-8zM1101.4,918.2h2.5v-2.8h3v2.8h2.5v5.5h-8zM1103.1,889.2h2.5v-2.8h3v2.8h2.5v5.5h-8zM1104.8,914.3h2.5v-2.8h3v2.8h2.5v5.5h-8zM1106.4,898.2h8v5.5h-2.5v2.8h-3v-2.8h-2.5zM1108.1,919.1h2.5v-2.8h3v2.8h2.5v5.5h-8zM1109.8,955.5h8v5.5h-2.5v2.8h-3v-2.8h-2.5zM1113.0,880.5h5.5v8h-5.5v-2.5h-2.8v-3h2.8zM1113.1,946.3h8v5.5h-2.5v2.8h-3v-2.8h-2.5zM1114.8,887.3h8v5.5h-2.5v2.8h-3v-2.8h-2.5zM1117.5,899.1h6.5v6.5h-6.5zM1118.2,958.3h8v5.5h-2.5v2.8h-3v-2.8h-2.5zM1119.9,942.0h8v5.5h-2.5v2.8h-3v-2.8h-2.5zM1121.5,924.0h8v5.5h-2.5v2.8h-3v-2.8h-2.5zM1124.2,937.5h6.5v6.5h-6.5zM1124.9,940.9h2.5v-2.8h3v2.8h2.5v5.5h-8zM1126.6,889.5h8v5.5h-2.5v2.8h-3v-2.8h-2.5zM1128.2,912.4h8v5.5h-2.5v2.8h-3v-2.8h-2.5zM1129.9,896.8h8v5.5h-2.5v2.8h-3v-2.8h-2.5zM1131.6,923.8h8v5.5h-2.5v2.8h-3v-2.8h-2.5zM1133.3,905.2h2.5v-2.8h3v2.8h2.5v5.5h-8zM1135.0,926.8h8v5.5h-2.5v2.8h-3v-2.8h-2.5zM1136.6,915.5h8v5.5h-2.5v2.8h-3v-2.8h-2.5zM1138.3,888.4h8v5.5h-2.5v2.8h-3v-2.8h-2.5zM1140.0,905.6h8v5.5h-2.5v2.8h-3v-2.8h-2.5zM1141.7,919.4h8v5.5h-2.5v2.8h-3v-2.8h-2.5zM1144.9,941.9h5.5v8h-5.5v-2.5h-2.8v-3h2.8zM1145.0,900.5h8v5.5h-2.5v2.8h-3v-2.8h-2.5zM1146.7,894.6h2.5v-2.8h3v2.8h2.5v5.5h-8zM1148.4,912.4h8v5.5h-2.5v2.8h-3v-2.8h-2.5zM1150.1,928.9h8v5.5h-2.5v2.8h-3v-2.8h-2.5zM1151.7,893.0h8v5.5h-2.5v2.8h-3v-2.8h-2.5zM1154.9,851.5h5.5v8h-5.5v-2.5h-2.8v-3h2.8zM1156.6,1004.9h5.5v8h-5.5v-2.5h-2.8v-3h2.8zM1156.8,899.6h8v5.5h-2.5v2.8h-3v-2.8h-2.5zM1158.5,898.1h8v5.5h-2.5v2.8h-3v-2.8h-2.5zM1160.1,1013.8h2.5v-2.8h3v2.8h2.5v5.5h-8zM1163.3,903.7h5.5v8h-5.5v-2.5h-2.8v-3h2.8zM1163.5,924.1h2.5v-2.8h3v2.8h2.5v5.5h-8zM1165.2,879.4h2.5v-2.8h3v2.8h2.5v5.5h-8zM1167.9,913.4h6.5v6.5h-6.5zM1168.5,927.7h8v5.5h-2.5v2.8h-3v-2.8h-2.5zM1171.2,916.4h6.5v6.5h-6.5zM1171.9,903.1h8v5.5h-2.5v2.8h-3v-2.8h-2.5zM1173.6,924.0h2.5v-2.8h3v2.8h2.5v5.5h-8zM1175.2,903.3h8v5.5h-2.5v2.8h-3v-2.8h-2.5zM1176.9,954.4h8v5.5h-2.5v2.8h-3v-2.8h-2.5zM1178.6,917.0h8v5.5h-2.5v2.8h-3v-2.8h-2.5zM1181.8,883.8h5.5v8h-5.5v-2.5h-2.8v-3h2.8zM1183.5,857.3h5.5v8h-5.5v-2.5h-2.8v-3h2.8zM1183.6,891.0h2.5v-2.8h3v2.8h2.5v5.5h-8zM1185.3,904.3h8v5.5h-2.5v2.8h-3v-2.8h-2.5zM1188.0,874.6h6.5v6.5h-6.5zM1188.7,880.8h8v5.5h-2.5v2.8h-3v-2.8h-2.5zM1190.4,864.2h8v5.5h-2.5v2.8h-3v-2.8h-2.5zM1193.5,879.1h5.5v8h-5.5v-2.5h-2.8v-3h2.8zM1195.2,910.7h5.5v8h-5.5v-2.5h-2.8v-3h2.8zM1195.4,900.5h8v5.5h-2.5v2.8h-3v-2.8h-2.5zM1197.1,900.3h2.5v-2.8h3v2.8h2.5v5.5h-8zM1199.7,895.8h6.5v6.5h-6.5zM1200.4,909.0h2.5v-2.8h3v2.8h2.5v5.5h-8zM1202.1,933.7h8v5.5h-2.5v2.8h-3v-2.8h-2.5zM1203.8,977.3h8v5.5h-2.5v2.8h-3v-2.8h-2.5zM1205.5,928.2h8v5.5h-2.5v2.8h-3v-2.8h-2.5zM1208.1,989.2h6.5v6.5h-6.5zM1210.3,904.8h5.5v8h-5.5v-2.5h-2.8v-3h2.8zM1210.5,906.9h8v5.5h-2.5v2.8h-3v-2.8h-2.5zM1212.2,965.8h8v5.5h-2.5v2.8h-3v-2.8h-2.5zM1214.8,981.7h6.5v6.5h-6.5zM1216.5,886.1h6.5v6.5h-6.5zM1218.7,905.4h5.5v8h-5.5v-2.5h-2.8v-3h2.8zM1219.9,867.0h6.5v6.5h-6.5zM1222.1,864.1h5.5v8h-5.5v-2.5h-2.8v-3h2.8zM1223.2,948.5h6.5v6.5h-6.5zM1224.9,881.9h6.5v6.5h-6.5zM1226.6,893.0h6.5v6.5h-6.5zM1227.3,897.3h2.5v-2.8h3v2.8h2.5v5.5h-8zM1229.0,883.3h8v5.5h-2.5v2.8h-3v-2.8h-2.5zM1232.1,927.6h5.5v8h-5.5v-2.5h-2.8v-3h2.8zM1232.3,923.9h8v5.5h-2.5v2.8h-3v-2.8h-2.5zM1235.5,929.5h5.5v8h-5.5v-2.5h-2.8v-3h2.8zM1235.7,929.0h8v5.5h-2.5v2.8h-3v-2.8h-2.5zM1237.3,905.3h8v5.5h-2.5v2.8h-3v-2.8h-2.5zM1239.0,951.6h8v5.5h-2.5v2.8h-3v-2.8h-2.5zM1241.7,942.1h6.5v6.5h-6.5zM1242.4,892.9h8v5.5h-2.5v2.8h-3v-2.8h-2.5zM1244.1,909.6h2.5v-2.8h3v2.8h2.5v5.5h-8zM1245.7,898.2h2.5v-2.8h3v2.8h2.5v5.5h-8zM1247.4,979.4h2.5v-2.8h3v2.8h2.5v5.5h-8zM1250.6,936.6h5.5v8h-5.5v-2.5h-2.8v-3h2.8zM1250.8,932.4h2.5v-2.8h3v2.8h2.5v5.5h-8zM1254.0,905.7h5.5v8h-5.5v-2.5h-2.8v-3h2.8zM1254.1,925.6h2.5v-2.8h3v2.8h2.5v5.5h-8zM1256.8,882.8h6.5v6.5h-6.5zM1259.0,912.8h5.5v8h-5.5v-2.5h-2.8v-3h2.8zM1260.7,904.5h5.5v8h-5.5v-2.5h-2.8v-3h2.8zM1260.8,908.8h8v5.5h-2.5v2.8h-3v-2.8h-2.5zM1263.5,889.2h6.5v6.5h-6.5zM1264.2,923.2h2.5v-2.8h3v2.8h2.5v5.5h-8zM1265.9,881.0h8v5.5h-2.5v2.8h-3v-2.8h-2.5zM1267.6,896.8h8v5.5h-2.5v2.8h-3v-2.8h-2.5zM1269.2,909.0h8v5.5h-2.5v2.8h-3v-2.8h-2.5zM1272.4,909.2h5.5v8h-5.5v-2.5h-2.8v-3h2.8zM1272.6,898.3h8v5.5h-2.5v2.8h-3v-2.8h-2.5zM1275.8,880.9h5.5v8h-5.5v-2.5h-2.8v-3h2.8zM1276.9,884.4h6.5v6.5h-6.5zM1278.6,896.5h6.5v6.5h-6.5zM1279.3,884.4h8v5.5h-2.5v2.8h-3v-2.8h-2.5zM1281.0,908.9h2.5v-2.8h3v2.8h2.5v5.5h-8zM1282.7,875.9h8v5.5h-2.5v2.8h-3v-2.8h-2.5zM1284.3,974.1h8v5.5h-2.5v2.8h-3v-2.8h-2.5zM1286.0,984.2h8v5.5h-2.5v2.8h-3v-2.8h-2.5zM1287.7,874.1h8v5.5h-2.5v2.8h-3v-2.8h-2.5zM1289.4,907.8h8v5.5h-2.5v2.8h-3v-2.8h-2.5zM1292.6,976.8h5.5v8h-5.5v-2.5h-2.8v-3h2.8zM1293.7,915.0h6.5v6.5h-6.5zM1294.4,937.4h8v5.5h-2.5v2.8h-3v-2.8h-2.5zM1296.1,857.4h8v5.5h-2.5v2.8h-3v-2.8h-2.5zM1298.8,891.9h6.5v6.5h-6.5zM1300.4,965.9h6.5v6.5h-6.5zM1301.1,894.6h8v5.5h-2.5v2.8h-3v-2.8h-2.5zM1303.8,928.2h6.5v6.5h-6.5zM1306.0,863.0h5.5v8h-5.5v-2.5h-2.8v-3h2.8zM1307.7,944.4h5.5v8h-5.5v-2.5h-2.8v-3h2.8zM1309.3,1009.1h5.5v8h-5.5v-2.5h-2.8v-3h2.8zM1310.5,907.0h6.5v6.5h-6.5zM1312.7,917.4h5.5v8h-5.5v-2.5h-2.8v-3h2.8zM1312.9,923.4h8v5.5h-2.5v2.8h-3v-2.8h-2.5zM1314.6,996.0h2.5v-2.8h3v2.8h2.5v5.5h-8zM1316.2,941.1h8v5.5h-2.5v2.8h-3v-2.8h-2.5zM1319.4,866.5h5.5v8h-5.5v-2.5h-2.8v-3h2.8zM1319.6,987.0h8v5.5h-2.5v2.8h-3v-2.8h-2.5zM1321.3,879.7h8v5.5h-2.5v2.8h-3v-2.8h-2.5zM1322.9,920.5h8v5.5h-2.5v2.8h-3v-2.8h-2.5zM1324.6,854.5h8v5.5h-2.5v2.8h-3v-2.8h-2.5zM1327.3,896.9h6.5v6.5h-6.5zM1329.5,914.9h5.5v8h-5.5v-2.5h-2.8v-3h2.8zM1329.7,883.2h8v5.5h-2.5v2.8h-3v-2.8h-2.5zM1332.3,895.9h6.5v6.5h-6.5zM1333.0,928.6h2.5v-2.8h3v2.8h2.5v5.5h-8zM1334.7,892.6h8v5.5h-2.5v2.8h-3v-2.8h-2.5zM1336.4,923.7h8v5.5h-2.5v2.8h-3v-2.8h-2.5zM1339.5,969.2h5.5v8h-5.5v-2.5h-2.8v-3h2.8zM1339.7,861.5h2.5v-2.8h3v2.8h2.5v5.5h-8zM1342.4,925.4h6.5v6.5h-6.5zM1343.1,931.2h8v5.5h-2.5v2.8h-3v-2.8h-2.5zM1346.3,904.0h5.5v8h-5.5v-2.5h-2.8v-3h2.8zM1347.9,960.1h5.5v8h-5.5v-2.5h-2.8v-3h2.8zM1348.1,953.4h8v5.5h-2.5v2.8h-3v-2.8h-2.5zM1349.8,922.6h8v5.5h-2.5v2.8h-3v-2.8h-2.5zM1351.5,930.6h2.5v-2.8h3v2.8h2.5v5.5h-8zM1353.2,910.6h8v5.5h-2.5v2.8h-3v-2.8h-2.5zM1356.3,880.5h5.5v8h-5.5v-2.5h-2.8v-3h2.8zM1356.5,923.7h8v5.5h-2.5v2.8h-3v-2.8h-2.5zM1359.7,898.2h5.5v8h-5.5v-2.5h-2.8v-3h2.8zM1359.9,962.4h8v5.5h-2.5v2.8h-3v-2.8h-2.5zM1361.5,943.2h8v5.5h-2.5v2.8h-3v-2.8h-2.5zM1364.2,903.7h6.5v6.5h-6.5zM1364.9,943.8h8v5.5h-2.5v2.8h-3v-2.8h-2.5zM1367.6,907.4h6.5v6.5h-6.5zM1368.3,900.4h2.5v-2.8h3v2.8h2.5v5.5h-8zM1369.9,908.9h8v5.5h-2.5v2.8h-3v-2.8h-2.5zM1371.6,956.8h8v5.5h-2.5v2.8h-3v-2.8h-2.5zM1374.3,908.7h6.5v6.5h-6.5zM1375.0,936.5h8v5.5h-2.5v2.8h-3v-2.8h-2.5zM1378.2,889.3h5.5v8h-5.5v-2.5h-2.8v-3h2.8zM1378.3,916.1h2.5v-2.8h3v2.8h2.5v5.5h-8zM1380.0,935.5h8v5.5h-2.5v2.8h-3v-2.8h-2.5zM1381.7,890.4h2.5v-2.8h3v2.8h2.5v5.5h-8zM1383.4,892.2h8v5.5h-2.5v2.8h-3v-2.8h-2.5zM1385.0,928.0h8v5.5h-2.5v2.8h-3v-2.8h-2.5zM1387.7,883.4h6.5v6.5h-6.5zM1389.9,922.8h5.5v8h-5.5v-2.5h-2.8v-3h2.8zM1390.1,1006.2h8v5.5h-2.5v2.8h-3v-2.8h-2.5zM1391.8,906.1h2.5v-2.8h3v2.8h2.5v5.5h-8zM1394.4,934.5h6.5v6.5h-6.5zM1395.1,919.5h8v5.5h-2.5v2.8h-3v-2.8h-2.5zM1396.8,917.9h2.5v-2.8h3v2.8h2.5v5.5h-8zM1398.5,872.8h8v5.5h-2.5v2.8h-3v-2.8h-2.5zM1401.2,876.7h6.5v6.5h-6.5zM1403.3,919.8h5.5v8h-5.5v-2.5h-2.8v-3h2.8zM1403.5,870.2h2.5v-2.8h3v2.8h2.5v5.5h-8zM1406.2,973.6h6.5v6.5h-6.5zM1406.9,898.1h8v5.5h-2.5v2.8h-3v-2.8h-2.5zM1409.5,886.6h6.5v6.5h-6.5zM1410.2,904.9h2.5v-2.8h3v2.8h2.5v5.5h-8zM1411.9,854.8h8v5.5h-2.5v2.8h-3v-2.8h-2.5zM1413.6,903.5h8v5.5h-2.5v2.8h-3v-2.8h-2.5zM1415.3,948.7h8v5.5h-2.5v2.8h-3v-2.8h-2.5zM1416.9,876.5h8v5.5h-2.5v2.8h-3v-2.8h-2.5zM1418.6,921.9h8v5.5h-2.5v2.8h-3v-2.8h-2.5zM1421.8,919.5h5.5v8h-5.5v-2.5h-2.8v-3h2.8zM1423.0,1061.8h6.5v6.5h-6.5zM1424.6,886.1h6.5v6.5h-6.5zM1425.3,927.8h2.5v-2.8h3v2.8h2.5v5.5h-8zM1428.0,888.2h6.5v6.5h-6.5zM1428.7,889.9h8v5.5h-2.5v2.8h-3v-2.8h-2.5zM1430.4,872.1h2.5v-2.8h3v2.8h2.5v5.5h-8zM1432.0,906.0h8v5.5h-2.5v2.8h-3v-2.8h-2.5zM1433.7,889.5h2.5v-2.8h3v2.8h2.5v5.5h-8zM1435.4,938.5h8v5.5h-2.5v2.8h-3v-2.8h-2.5zM1437.1,921.9h8v5.5h-2.5v2.8h-3v-2.8h-2.5zM1440.3,880.7h5.5v8h-5.5v-2.5h-2.8v-3h2.8zM1441.4,901.6h6.5v6.5h-6.5zM1442.1,955.1h8v5.5h-2.5v2.8h-3v-2.8h-2.5zM1445.3,900.8h5.5v8h-5.5v-2.5h-2.8v-3h2.8zM1446.5,918.8h6.5v6.5h-6.5zM1448.6,927.7h5.5v8h-5.5v-2.5h-2.8v-3h2.8zM1448.8,899.1h8v5.5h-2.5v2.8h-3v-2.8h-2.5zM1452.0,925.4h5.5v8h-5.5v-2.5h-2.8v-3h2.8zM1452.2,970.0h8v5.5h-2.5v2.8h-3v-2.8h-2.5zM1454.9,948.4h6.5v6.5h-6.5zM1456.5,976.1h6.5v6.5h-6.5zM1457.2,962.5h8v5.5h-2.5v2.8h-3v-2.8h-2.5zM1458.9,904.8h8v5.5h-2.5v2.8h-3v-2.8h-2.5zM1460.6,898.3h8v5.5h-2.5v2.8h-3v-2.8h-2.5zM1463.8,892.9h5.5v8h-5.5v-2.5h-2.8v-3h2.8zM1464.9,955.8h6.5v6.5h-6.5zM1465.6,922.3h8v5.5h-2.5v2.8h-3v-2.8h-2.5zM1467.3,911.6h8v5.5h-2.5v2.8h-3v-2.8h-2.5zM1469.0,891.5h8v5.5h-2.5v2.8h-3v-2.8h-2.5zM1470.6,934.5h8v5.5h-2.5v2.8h-3v-2.8h-2.5zM1473.8,951.5h5.5v8h-5.5v-2.5h-2.8v-3h2.8zM1474.0,888.6h8v5.5h-2.5v2.8h-3v-2.8h-2.5zM1475.7,882.8h8v5.5h-2.5v2.8h-3v-2.8h-2.5zM1477.4,901.1h8v5.5h-2.5v2.8h-3v-2.8h-2.5zM1479.0,934.7h8v5.5h-2.5v2.8h-3v-2.8h-2.5zM1480.7,969.2h8v5.5h-2.5v2.8h-3v-2.8h-2.5zM1482.4,911.1h8v5.5h-2.5v2.8h-3v-2.8h-2.5zM1485.1,888.4h6.5v6.5h-6.5zM1485.7,965.1h8v5.5h-2.5v2.8h-3v-2.8h-2.5zM1487.4,912.1h2.5v-2.8h3v2.8h2.5v5.5h-8zM1490.1,922.7h6.5v6.5h-6.5zM1490.8,953.8h2.5v-2.8h3v2.8h2.5v5.5h-8zM1492.5,903.8h8v5.5h-2.5v2.8h-3v-2.8h-2.5zM1494.1,912.9h8v5.5h-2.5v2.8h-3v-2.8h-2.5zM1495.8,924.5h8v5.5h-2.5v2.8h-3v-2.8h-2.5zM1497.5,903.2h8v5.5h-2.5v2.8h-3v-2.8h-2.5zM1499.2,955.1h8v5.5h-2.5v2.8h-3v-2.8h-2.5zM1500.9,911.4h8v5.5h-2.5v2.8h-3v-2.8h-2.5zM1502.5,897.5h8v5.5h-2.5v2.8h-3v-2.8h-2.5zM1504.2,907.7h8v5.5h-2.5v2.8h-3v-2.8h-2.5zM1505.9,886.5h8v5.5h-2.5v2.8h-3v-2.8h-2.5zM1507.6,949.8h8v5.5h-2.5v2.8h-3v-2.8h-2.5zM1509.2,967.7h8v5.5h-2.5v2.8h-3v-2.8h-2.5zM1510.9,906.3h8v5.5h-2.5v2.8h-3v-2.8h-2.5zM1512.6,933.4h8v5.5h-2.5v2.8h-3v-2.8h-2.5zM1514.3,863.9h8v5.5h-2.5v2.8h-3v-2.8h-2.5zM1517.0,894.8h6.5v6.5h-6.5zM1519.1,941.3h5.5v8h-5.5v-2.5h-2.8v-3h2.8zM1520.3,890.7h6.5v6.5h-6.5zM1521.0,942.7h8v5.5h-2.5v2.8h-3v-2.8h-2.5zM1522.7,966.7h2.5v-2.8h3v2.8h2.5v5.5h-8zM1525.4,854.4h6.5v6.5h-6.5zM1527.0,902.1h6.5v6.5h-6.5zM1527.7,890.6h8v5.5h-2.5v2.8h-3v-2.8h-2.5zM1529.4,895.0h8v5.5h-2.5v2.8h-3v-2.8h-2.5zM1531.1,867.0h8v5.5h-2.5v2.8h-3v-2.8h-2.5zM1532.7,903.2h8v5.5h-2.5v2.8h-3v-2.8h-2.5zM1534.4,887.1h8v5.5h-2.5v2.8h-3v-2.8h-2.5zM1536.1,944.7h8v5.5h-2.5v2.8h-3v-2.8h-2.5zM1538.8,1013.0h6.5v6.5h-6.5zM1540.5,877.3h6.5v6.5h-6.5zM1541.1,876.0h8v5.5h-2.5v2.8h-3v-2.8h-2.5zM1543.8,903.3h6.5v6.5h-6.5zM1546.0,908.1h5.5v8h-5.5v-2.5h-2.8v-3h2.8zM1546.2,909.1h2.5v-2.8h3v2.8h2.5v5.5h-8zM1549.3,930.9h5.5v8h-5.5v-2.5h-2.8v-3h2.8zM1549.5,875.4h8v5.5h-2.5v2.8h-3v-2.8h-2.5zM1551.2,897.3h8v5.5h-2.5v2.8h-3v-2.8h-2.5zM1552.9,895.6h8v5.5h-2.5v2.8h-3v-2.8h-2.5zM1554.6,904.9h8v5.5h-2.5v2.8h-3v-2.8h-2.5zM1556.2,881.0h8v5.5h-2.5v2.8h-3v-2.8h-2.5zM1557.9,899.1h8v5.5h-2.5v2.8h-3v-2.8h-2.5zM1559.6,906.6h8v5.5h-2.5v2.8h-3v-2.8h-2.5zM1561.3,950.2h8v5.5h-2.5v2.8h-3v-2.8h-2.5zM1563.0,897.6h2.5v-2.8h3v2.8h2.5v5.5h-8zM1566.1,863.5h5.5v8h-5.5v-2.5h-2.8v-3h2.8zM1566.3,952.8h8v5.5h-2.5v2.8h-3v-2.8h-2.5zM1568.0,918.3h8v5.5h-2.5v2.8h-3v-2.8h-2.5zM1569.7,886.2h8v5.5h-2.5v2.8h-3v-2.8h-2.5zM1572.3,889.8h6.5v6.5h-6.5zM1574.5,900.2h5.5v8h-5.5v-2.5h-2.8v-3h2.8zM1574.7,971.7h8v5.5h-2.5v2.8h-3v-2.8h-2.5zM1577.4,898.4h6.5v6.5h-6.5zM1579.6,947.2h5.5v8h-5.5v-2.5h-2.8v-3h2.8zM1579.7,935.3h8v5.5h-2.5v2.8h-3v-2.8h-2.5zM1581.4,896.8h8v5.5h-2.5v2.8h-3v-2.8h-2.5zM1584.1,924.8h6.5v6.5h-6.5zM1585.8,896.7h6.5v6.5h-6.5zM1586.5,843.8h8v5.5h-2.5v2.8h-3v-2.8h-2.5zM1588.1,894.7h8v5.5h-2.5v2.8h-3v-2.8h-2.5zM1589.8,894.8h8v5.5h-2.5v2.8h-3v-2.8h-2.5zM1592.5,954.2h6.5v6.5h-6.5zM1594.2,935.3h6.5v6.5h-6.5zM1594.8,950.7h8v5.5h-2.5v2.8h-3v-2.8h-2.5zM1596.5,923.3h8v5.5h-2.5v2.8h-3v-2.8h-2.5zM1598.2,949.0h8v5.5h-2.5v2.8h-3v-2.8h-2.5zM1600.9,938.2h6.5v6.5h-6.5zM1601.6,919.0h8v5.5h-2.5v2.8h-3v-2.8h-2.5zM1603.2,955.3h2.5v-2.8h3v2.8h2.5v5.5h-8zM1604.9,968.2h8v5.5h-2.5v2.8h-3v-2.8h-2.5zM1606.6,971.0h8v5.5h-2.5v2.8h-3v-2.8h-2.5zM1608.3,897.9h8v5.5h-2.5v2.8h-3v-2.8h-2.5zM1610.0,913.6h2.5v-2.8h3v2.8h2.5v5.5h-8zM1612.6,890.6h6.5v6.5h-6.5zM1613.3,889.1h2.5v-2.8h3v2.8h2.5v5.5h-8zM1616.0,923.3h6.5v6.5h-6.5zM1616.7,897.2h2.5v-2.8h3v2.8h2.5v5.5h-8zM1618.3,965.4h8v5.5h-2.5v2.8h-3v-2.8h-2.5zM1621.0,862.2h6.5v6.5h-6.5zM1621.7,886.9h2.5v-2.8h3v2.8h2.5v5.5h-8zM1624.4,922.1h6.5v6.5h-6.5zM1625.1,951.9h8v5.5h-2.5v2.8h-3v-2.8h-2.5zM1627.7,907.0h6.5v6.5h-6.5zM1628.4,993.8h8v5.5h-2.5v2.8h-3v-2.8h-2.5zM1630.1,936.8h8v5.5h-2.5v2.8h-3v-2.8h-2.5zM1631.8,898.9h2.5v-2.8h3v2.8h2.5v5.5h-8zM1633.4,909.8h8v5.5h-2.5v2.8h-3v-2.8h-2.5zM1635.1,932.3h2.5v-2.8h3v2.8h2.5v5.5h-8zM1637.8,888.2h6.5v6.5h-6.5zM1639.5,945.4h6.5v6.5h-6.5zM1641.7,905.0h5.5v8h-5.5v-2.5h-2.8v-3h2.8zM1642.8,929.6h6.5v6.5h-6.5zM1644.5,947.7h6.5v6.5h-6.5zM1645.2,903.7h8v5.5h-2.5v2.8h-3v-2.8h-2.5zM1646.9,956.1h8v5.5h-2.5v2.8h-3v-2.8h-2.5zM1648.6,867.3h2.5v-2.8h3v2.8h2.5v5.5h-8zM1651.7,929.7h5.5v8h-5.5v-2.5h-2.8v-3h2.8zM1653.4,861.6h5.5v8h-5.5v-2.5h-2.8v-3h2.8zM1653.6,952.1h8v5.5h-2.5v2.8h-3v-2.8h-2.5zM1656.8,897.8h5.5v8h-5.5v-2.5h-2.8v-3h2.8zM1656.9,953.9h8v5.5h-2.5v2.8h-3v-2.8h-2.5zM1658.6,966.2h2.5v-2.8h3v2.8h2.5v5.5h-8zM1661.3,911.9h6.5v6.5h-6.5zM1662.0,901.6h2.5v-2.8h3v2.8h2.5v5.5h-8zM1665.2,957.2h5.5v8h-5.5v-2.5h-2.8v-3h2.8zM1665.3,888.8h2.5v-2.8h3v2.8h2.5v5.5h-8zM1668.0,941.4h6.5v6.5h-6.5zM1668.7,915.6h8v5.5h-2.5v2.8h-3v-2.8h-2.5zM1670.4,901.9h8v5.5h-2.5v2.8h-3v-2.8h-2.5zM1672.1,903.9h2.5v-2.8h3v2.8h2.5v5.5h-8zM1673.7,982.0h8v5.5h-2.5v2.8h-3v-2.8h-2.5zM1676.4,878.5h6.5v6.5h-6.5zM1678.1,901.9h6.5v6.5h-6.5zM1680.4,954.2h8v5.5h-2.5v2.8h-3v-2.8h-2.5zM1683.1,981.7h6.5v6.5h-6.5zM1683.8,967.4h8v5.5h-2.5v2.8h-3v-2.8h-2.5zM1686.5,907.3h6.5v6.5h-6.5zM1687.2,925.8h8v5.5h-2.5v2.8h-3v-2.8h-2.5zM1690.3,954.1h5.5v8h-5.5v-2.5h-2.8v-3h2.8zM1691.5,937.7h6.5v6.5h-6.5zM1692.2,874.5h8v5.5h-2.5v2.8h-3v-2.8h-2.5zM1693.9,971.3h8v5.5h-2.5v2.8h-3v-2.8h-2.5zM1695.5,938.5h8v5.5h-2.5v2.8h-3v-2.8h-2.5zM1697.2,880.5h8v5.5h-2.5v2.8h-3v-2.8h-2.5zM1698.9,904.6h8v5.5h-2.5v2.8h-3v-2.8h-2.5zM1702.1,908.7h5.5v8h-5.5v-2.5h-2.8v-3h2.8zM1702.3,941.4h8v5.5h-2.5v2.8h-3v-2.8h-2.5zM1703.9,971.5h8v5.5h-2.5v2.8h-3v-2.8h-2.5zM1705.6,1315.2h2.5v-2.8h3v2.8h2.5v5.5h-8zM1708.3,939.3h6.5v6.5h-6.5zM1709.0,928.5h8v5.5h-2.5v2.8h-3v-2.8h-2.5zM1710.7,907.1h2.5v-2.8h3v2.8h2.5v5.5h-8zM1712.3,901.9h8v5.5h-2.5v2.8h-3v-2.8h-2.5zM1714.0,908.9h8v5.5h-2.5v2.8h-3v-2.8h-2.5zM1716.7,908.0h6.5v6.5h-6.5zM1717.4,952.9h8v5.5h-2.5v2.8h-3v-2.8h-2.5zM1719.0,1013.9h8v5.5h-2.5v2.8h-3v-2.8h-2.5zM1720.7,942.6h8v5.5h-2.5v2.8h-3v-2.8h-2.5zM1722.4,951.3h2.5v-2.8h3v2.8h2.5v5.5h-8zM1724.1,941.4h8v5.5h-2.5v2.8h-3v-2.8h-2.5zM1725.8,924.4h8v5.5h-2.5v2.8h-3v-2.8h-2.5zM1727.4,960.6h8v5.5h-2.5v2.8h-3v-2.8h-2.5zM1730.6,961.4h5.5v8h-5.5v-2.5h-2.8v-3h2.8zM1730.8,915.0h8v5.5h-2.5v2.8h-3v-2.8h-2.5zM1732.5,910.4h8v5.5h-2.5v2.8h-3v-2.8h-2.5zM1735.7,935.8h5.5v8h-5.5v-2.5h-2.8v-3h2.8zM1735.8,905.6h8v5.5h-2.5v2.8h-3v-2.8h-2.5zM1738.5,926.1h6.5v6.5h-6.5zM1740.7,954.6h5.5v8h-5.5v-2.5h-2.8v-3h2.8zM1742.4,917.0h5.5v8h-5.5v-2.5h-2.8v-3h2.8zM1742.5,871.7h8v5.5h-2.5v2.8h-3v-2.8h-2.5zM1745.7,938.1h5.5v8h-5.5v-2.5h-2.8v-3h2.8zM1746.9,886.1h6.5v6.5h-6.5zM1748.6,880.9h6.5v6.5h-6.5zM1750.3,880.0h6.5v6.5h-6.5zM1751.9,941.7h6.5v6.5h-6.5zM1752.6,897.1h8v5.5h-2.5v2.8h-3v-2.8h-2.5zM1754.3,921.6h8v5.5h-2.5v2.8h-3v-2.8h-2.5zM1756.0,927.3h8v5.5h-2.5v2.8h-3v-2.8h-2.5zM1758.6,1015.9h6.5v6.5h-6.5zM1759.3,897.8h8v5.5h-2.5v2.8h-3v-2.8h-2.5zM1761.0,916.7h8v5.5h-2.5v2.8h-3v-2.8h-2.5zM1763.7,924.8h6.5v6.5h-6.5zM1764.4,884.6h8v5.5h-2.5v2.8h-3v-2.8h-2.5zM1767.5,939.6h5.5v8h-5.5v-2.5h-2.8v-3h2.8zM1769.2,955.9h5.5v8h-5.5v-2.5h-2.8v-3h2.8zM1769.4,896.8h8v5.5h-2.5v2.8h-3v-2.8h-2.5zM1771.1,899.5h8v5.5h-2.5v2.8h-3v-2.8h-2.5zM1774.3,886.6h5.5v8h-5.5v-2.5h-2.8v-3h2.8zM1775.4,958.7h6.5v6.5h-6.5zM1776.1,892.0h8v5.5h-2.5v2.8h-3v-2.8h-2.5zM1778.8,903.2h6.5v6.5h-6.5zM1780.5,875.0h6.5v6.5h-6.5zM1781.1,961.8h8v5.5h-2.5v2.8h-3v-2.8h-2.5zM1783.8,911.3h6.5v6.5h-6.5zM1784.5,925.6h2.5v-2.8h3v2.8h2.5v5.5h-8zM1787.7,974.5h5.5v8h-5.5v-2.5h-2.8v-3h2.8zM1788.9,945.0h6.5v6.5h-6.5zM1789.5,887.7h8v5.5h-2.5v2.8h-3v-2.8h-2.5zM1791.2,940.0h2.5v-2.8h3v2.8h2.5v5.5h-8zM1792.9,936.8h8v5.5h-2.5v2.8h-3v-2.8h-2.5zM1794.6,895.3h2.5v-2.8h3v2.8h2.5v5.5h-8zM1796.3,887.6h8v5.5h-2.5v2.8h-3v-2.8h-2.5zM1797.9,894.1h2.5v-2.8h3v2.8h2.5v5.5h-8zM1799.6,955.0h2.5v-2.8h3v2.8h2.5v5.5h-8zM1801.3,918.2h2.5v-2.8h3v2.8h2.5v5.5h-8zM1803.0,1012.8h8v5.5h-2.5v2.8h-3v-2.8h-2.5zM1804.6,942.3h2.5v-2.8h3v2.8h2.5v5.5h-8zM1806.3,943.6h8v5.5h-2.5v2.8h-3v-2.8h-2.5zM1809.5,893.5h5.5v8h-5.5v-2.5h-2.8v-3h2.8zM1809.7,876.3h8v5.5h-2.5v2.8h-3v-2.8h-2.5zM1812.4,967.4h6.5v6.5h-6.5zM1813.0,1035.0h8v5.5h-2.5v2.8h-3v-2.8h-2.5zM1814.7,975.7h8v5.5h-2.5v2.8h-3v-2.8h-2.5zM1817.4,957.1h6.5v6.5h-6.5zM1818.1,917.9h8v5.5h-2.5v2.8h-3v-2.8h-2.5zM1819.8,901.1h2.5v-2.8h3v2.8h2.5v5.5h-8zM1821.4,924.3h8v5.5h-2.5v2.8h-3v-2.8h-2.5zM1824.1,949.9h6.5v6.5h-6.5zM1824.8,913.6h8v5.5h-2.5v2.8h-3v-2.8h-2.5zM1826.5,950.5h8v5.5h-2.5v2.8h-3v-2.8h-2.5zM1828.1,920.5h8v5.5h-2.5v2.8h-3v-2.8h-2.5zM1830.8,945.6h6.5v6.5h-6.5zM1832.5,857.1h6.5v6.5h-6.5zM1833.2,898.8h8v5.5h-2.5v2.8h-3v-2.8h-2.5zM1834.9,1060.1h8v5.5h-2.5v2.8h-3v-2.8h-2.5zM1838.0,951.1h5.5v8h-5.5v-2.5h-2.8v-3h2.8zM1838.2,932.6h2.5v-2.8h3v2.8h2.5v5.5h-8zM1840.9,988.2h6.5v6.5h-6.5zM1841.6,943.1h8v5.5h-2.5v2.8h-3v-2.8h-2.5zM1844.7,942.3h5.5v8h-5.5v-2.5h-2.8v-3h2.8zM1845.9,896.5h6.5v6.5h-6.5zM1846.6,933.6h8v5.5h-2.5v2.8h-3v-2.8h-2.5zM1848.3,939.1h8v5.5h-2.5v2.8h-3v-2.8h-2.5zM1850.0,971.0h2.5v-2.8h3v2.8h2.5v5.5h-8zM1851.6,958.6h8v5.5h-2.5v2.8h-3v-2.8h-2.5zM1854.3,923.7h6.5v6.5h-6.5zM1855.0,926.1h8v5.5h-2.5v2.8h-3v-2.8h-2.5zM1856.7,892.1h8v5.5h-2.5v2.8h-3v-2.8h-2.5zM1858.4,940.7h8v5.5h-2.5v2.8h-3v-2.8h-2.5zM1860.0,887.4h8v5.5h-2.5v2.8h-3v-2.8h-2.5zM1861.7,906.1h8v5.5h-2.5v2.8h-3v-2.8h-2.5zM1863.4,916.2h8v5.5h-2.5v2.8h-3v-2.8h-2.5zM1865.1,1000.8h8v5.5h-2.5v2.8h-3v-2.8h-2.5zM1866.7,1001.7h2.5v-2.8h3v2.8h2.5v5.5h-8zM1868.4,899.8h8v5.5h-2.5v2.8h-3v-2.8h-2.5zM1870.1,884.9h2.5v-2.8h3v2.8h2.5v5.5h-8zM1871.8,911.7h8v5.5h-2.5v2.8h-3v-2.8h-2.5zM1875.0,899.8h5.5v8h-5.5v-2.5h-2.8v-3h2.8zM1876.1,931.2h6.5v6.5h-6.5zM1877.8,955.6h6.5v6.5h-6.5zM1878.5,1057.0h8v5.5h-2.5v2.8h-3v-2.8h-2.5zM1881.7,894.9h5.5v8h-5.5v-2.5h-2.8v-3h2.8zM1881.9,914.1h8v5.5h-2.5v2.8h-3v-2.8h-2.5zM1883.5,931.7h8v5.5h-2.5v2.8h-3v-2.8h-2.5zM1885.2,929.6h2.5v-2.8h3v2.8h2.5v5.5h-8zM1886.9,906.7h2.5v-2.8h3v2.8h2.5v5.5h-8zM1888.6,961.3h8v5.5h-2.5v2.8h-3v-2.8h-2.5zM1890.2,944.9h8v5.5h-2.5v2.8h-3v-2.8h-2.5zM1893.4,872.6h5.5v8h-5.5v-2.5h-2.8v-3h2.8zM1894.6,914.7h6.5v6.5h-6.5zM1895.3,916.0h8v5.5h-2.5v2.8h-3v-2.8h-2.5zM1897.0,889.2h8v5.5h-2.5v2.8h-3v-2.8h-2.5zM1898.6,891.6h8v5.5h-2.5v2.8h-3v-2.8h-2.5zM1900.3,924.2h2.5v-2.8h3v2.8h2.5v5.5h-8zM1902.0,910.7h2.5v-2.8h3v2.8h2.5v5.5h-8zM1904.7,963.1h6.5v6.5h-6.5zM1905.3,942.5h8v5.5h-2.5v2.8h-3v-2.8h-2.5zM1908.5,1018.6h5.5v8h-5.5v-2.5h-2.8v-3h2.8zM1909.7,899.7h6.5v6.5h-6.5zM1911.9,1000.6h5.5v8h-5.5v-2.5h-2.8v-3h2.8zM1912.1,913.5h8v5.5h-2.5v2.8h-3v-2.8h-2.5zM1913.7,944.5h8v5.5h-2.5v2.8h-3v-2.8h-2.5zM1915.4,952.7h8v5.5h-2.5v2.8h-3v-2.8h-2.5zM1918.1,924.1h6.5v6.5h-6.5zM1918.8,913.6h8v5.5h-2.5v2.8h-3v-2.8h-2.5zM1920.5,906.0h2.5v-2.8h3v2.8h2.5v5.5h-8zM1922.1,873.7h8v5.5h-2.5v2.8h-3v-2.8h-2.5zM1923.8,910.8h8v5.5h-2.5v2.8h-3v-2.8h-2.5zM1925.5,896.9h8v5.5h-2.5v2.8h-3v-2.8h-2.5zM1927.2,935.6h8v5.5h-2.5v2.8h-3v-2.8h-2.5zM1928.8,903.2h2.5v-2.8h3v2.8h2.5v5.5h-8zM1930.5,918.9h8v5.5h-2.5v2.8h-3v-2.8h-2.5zM1932.2,934.8h8v5.5h-2.5v2.8h-3v-2.8h-2.5zM1933.9,918.6h8v5.5h-2.5v2.8h-3v-2.8h-2.5zM1936.6,923.7h6.5v6.5h-6.5zM1937.2,914.2h2.5v-2.8h3v2.8h2.5v5.5h-8zM1938.9,910.2h8v5.5h-2.5v2.8h-3v-2.8h-2.5zM1940.6,939.8h8v5.5h-2.5v2.8h-3v-2.8h-2.5zM1943.3,950.3h6.5v6.5h-6.5zM1944.0,899.9h8v5.5h-2.5v2.8h-3v-2.8h-2.5zM1945.6,1026.4h8v5.5h-2.5v2.8h-3v-2.8h-2.5zM1947.3,946.4h8v5.5h-2.5v2.8h-3v-2.8h-2.5zM1949.0,952.4h8v5.5h-2.5v2.8h-3v-2.8h-2.5zM1950.7,1071.2h2.5v-2.8h3v2.8h2.5v5.5h-8zM1953.3,947.1h6.5v6.5h-6.5zM1954.0,899.2h8v5.5h-2.5v2.8h-3v-2.8h-2.5zM1957.2,984.8h5.5v8h-5.5v-2.5h-2.8v-3h2.8zM1957.4,857.3h8v5.5h-2.5v2.8h-3v-2.8h-2.5zM1960.1,1064.6h6.5v6.5h-6.5zM1960.7,884.4h8v5.5h-2.5v2.8h-3v-2.8h-2.5zM1962.4,884.5h2.5v-2.8h3v2.8h2.5v5.5h-8zM1964.1,889.4h8v5.5h-2.5v2.8h-3v-2.8h-2.5zM1965.8,929.5h8v5.5h-2.5v2.8h-3v-2.8h-2.5zM1967.4,912.8h2.5v-2.8h3v2.8h2.5v5.5h-8zM1970.6,958.0h5.5v8h-5.5v-2.5h-2.8v-3h2.8zM1970.8,899.5h8v5.5h-2.5v2.8h-3v-2.8h-2.5zM1974.0,968.4h5.5v8h-5.5v-2.5h-2.8v-3h2.8zM1975.2,994.6h6.5v6.5h-6.5zM1975.8,894.2h8v5.5h-2.5v2.8h-3v-2.8h-2.5zM1977.5,960.7h8v5.5h-2.5v2.8h-3v-2.8h-2.5zM1979.2,936.2h8v5.5h-2.5v2.8h-3v-2.8h-2.5zM1981.9,919.2h6.5v6.5h-6.5zM1983.6,968.9h6.5v6.5h-6.5zM1984.2,891.7h8v5.5h-2.5v2.8h-3v-2.8h-2.5zM1987.4,916.6h5.5v8h-5.5v-2.5h-2.8v-3h2.8zM1989.1,980.1h5.5v8h-5.5v-2.5h-2.8v-3h2.8zM1990.8,927.0h5.5v8h-5.5v-2.5h-2.8v-3h2.8zM1990.9,951.0h8v5.5h-2.5v2.8h-3v-2.8h-2.5zM1992.6,941.7h8v5.5h-2.5v2.8h-3v-2.8h-2.5zM1994.3,927.1h8v5.5h-2.5v2.8h-3v-2.8h-2.5zM1997.0,944.9h6.5v6.5h-6.5zM1998.7,897.4h6.5v6.5h-6.5zM1999.3,1097.0h8v5.5h-2.5v2.8h-3v-2.8h-2.5zM2001.0,891.2h8v5.5h-2.5v2.8h-3v-2.8h-2.5zM2002.7,925.2h8v5.5h-2.5v2.8h-3v-2.8h-2.5zM2005.4,899.2h6.5v6.5h-6.5zM2006.1,943.8h8v5.5h-2.5v2.8h-3v-2.8h-2.5zM2008.7,940.0h6.5v6.5h-6.5zM2009.4,960.9h8v5.5h-2.5v2.8h-3v-2.8h-2.5zM2012.6,909.1h5.5v8h-5.5v-2.5h-2.8v-3h2.8zM2012.8,893.5h8v5.5h-2.5v2.8h-3v-2.8h-2.5zM2014.4,870.8h8v5.5h-2.5v2.8h-3v-2.8h-2.5zM2017.1,889.9h6.5v6.5h-6.5zM2017.8,920.0h8v5.5h-2.5v2.8h-3v-2.8h-2.5zM2020.5,924.2h6.5v6.5h-6.5zM2021.2,910.8h8v5.5h-2.5v2.8h-3v-2.8h-2.5zM2022.8,922.9h8v5.5h-2.5v2.8h-3v-2.8h-2.5zM2024.5,891.2h2.5v-2.8h3v2.8h2.5v5.5h-8zM2026.2,895.7h2.5v-2.8h3v2.8h2.5v5.5h-8zM2029.4,960.9h5.5v8h-5.5v-2.5h-2.8v-3h2.8zM2030.6,947.9h6.5v6.5h-6.5zM2031.2,880.5h8v5.5h-2.5v2.8h-3v-2.8h-2.5zM2032.9,914.6h8v5.5h-2.5v2.8h-3v-2.8h-2.5zM2034.6,1082.2h8v5.5h-2.5v2.8h-3v-2.8h-2.5zM2036.3,890.7h2.5v-2.8h3v2.8h2.5v5.5h-8zM2037.9,938.8h8v5.5h-2.5v2.8h-3v-2.8h-2.5zM2039.6,960.2h8v5.5h-2.5v2.8h-3v-2.8h-2.5zM2041.3,935.7h8v5.5h-2.5v2.8h-3v-2.8h-2.5zM2043.0,1204.8h8v5.5h-2.5v2.8h-3v-2.8h-2.5zM2046.2,897.3h5.5v8h-5.5v-2.5h-2.8v-3h2.8zM2046.3,970.7h8v5.5h-2.5v2.8h-3v-2.8h-2.5zM2049.0,942.8h6.5v6.5h-6.5zM2051.2,949.5h5.5v8h-5.5v-2.5h-2.8v-3h2.8zM2052.9,898.3h5.5v8h-5.5v-2.5h-2.8v-3h2.8zM2053.0,923.5h8v5.5h-2.5v2.8h-3v-2.8h-2.5zM2054.7,923.7h8v5.5h-2.5v2.8h-3v-2.8h-2.5zM2056.4,1006.0h8v5.5h-2.5v2.8h-3v-2.8h-2.5zM2058.1,926.7h2.5v-2.8h3v2.8h2.5v5.5h-8zM2060.8,979.9h6.5v6.5h-6.5zM2062.4,917.7h6.5v6.5h-6.5zM2063.1,917.9h8v5.5h-2.5v2.8h-3v-2.8h-2.5zM2064.8,927.7h8v5.5h-2.5v2.8h-3v-2.8h-2.5zM2066.5,871.2h2.5v-2.8h3v2.8h2.5v5.5h-8zM2069.2,911.6h6.5v6.5h-6.5zM2071.3,907.1h5.5v8h-5.5v-2.5h-2.8v-3h2.8zM2071.5,918.7h8v5.5h-2.5v2.8h-3v-2.8h-2.5zM2073.2,926.4h8v5.5h-2.5v2.8h-3v-2.8h-2.5zM2076.4,965.0h5.5v8h-5.5v-2.5h-2.8v-3h2.8zM2077.5,893.8h6.5v6.5h-6.5zM2078.2,979.4h2.5v-2.8h3v2.8h2.5v5.5h-8zM2079.9,890.0h8v5.5h-2.5v2.8h-3v-2.8h-2.5zM2081.6,905.6h8v5.5h-2.5v2.8h-3v-2.8h-2.5zM2083.3,973.8h8v5.5h-2.5v2.8h-3v-2.8h-2.5zM2084.9,913.7h8v5.5h-2.5v2.8h-3v-2.8h-2.5zM2086.6,975.5h8v5.5h-2.5v2.8h-3v-2.8h-2.5zM2089.3,967.4h6.5v6.5h-6.5zM2091.0,878.1h6.5v6.5h-6.5zM2091.7,913.8h8v5.5h-2.5v2.8h-3v-2.8h-2.5zM2093.3,978.9h8v5.5h-2.5v2.8h-3v-2.8h-2.5zM2095.0,915.2h2.5v-2.8h3v2.8h2.5v5.5h-8zM2097.7,935.4h6.5v6.5h-6.5zM2098.4,1003.6h2.5v-2.8h3v2.8h2.5v5.5h-8zM2100.0,1039.6h8v5.5h-2.5v2.8h-3v-2.8h-2.5zM2102.7,993.0h6.5v6.5h-6.5zM2104.4,910.6h6.5v6.5h-6.5z"/>
<path fill="#008000" d="M426.0,146.3h5.8v5.8h-5.8zM426.7,173.3h2.6v-4h3v4h2.6v3h-8.2zM430.0,177.9h2.6v-4h3v4h2.6v3h-8.2zM432.7,194.5h5.8v5.8h-5.8zM433.4,213.9h2.6v-4h3v4h2.6v3h-8.2zM436.1,224.5h5.8v5.8h-5.8zM436.7,241.4h5.6v3h2.6v3h-8.2zM438.4,251.0h5.6v3h2.6v3h-8.2zM440.1,266.7h5.6v3h2.6v3h-8.2zM441.8,281.4h2.6v-4h3v4h2.6v3h-8.2zM443.5,286.8h2.6v-4h3v4h2.6v3h-8.2zM446.1,297.9h5.8v5.8h-5.8zM446.8,311.6h2.6v-4h3v4h2.6v3h-8.2zM449.5,317.8h5.8v5.8h-5.8zM450.2,326.3h5.6v3h2.6v3h-8.2zM451.9,335.4h2.6v-4h3v4h2.6v3h-8.2zM453.5,348.3h2.6v-4h3v4h2.6v3h-8.2zM456.2,344.5h5.8v5.8h-5.8zM456.9,353.3h2.6v-4h3v4h2.6v3h-8.2zM458.6,361.4h2.6v-4h3v4h2.6v3h-8.2zM460.2,374.1h2.6v-4h3v4h2.6v3h-8.2zM461.9,384.5h2.6v-4h3v4h2.6v3h-8.2zM463.6,385.9h2.6v-4h3v4h2.6v3h-8.2zM465.3,389.4h2.6v-4h3v4h2.6v3h-8.2zM468.0,388.9h5.8v5.8h-5.8zM468.6,401.9h2.6v-4h3v4h2.6v3h-8.2zM470.3,404.3h5.6v3h2.6v3h-8.2zM472.0,406.0h2.6v-4h3v4h2.6v3h-8.2zM473.7,419.1h2.6v-4h3v4h2.6v3h-8.2zM475.4,417.6h2.6v-4h3v4h2.6v3h-8.2zM477.0,423.3h2.6v-4h3v4h2.6v3h-8.2zM478.7,436.7h2.6v-4h3v4h2.6v3h-8.2zM480.4,435.1h2.6v-4h3v4h2.6v3h-8.2zM483.1,439.6h5.8v5.8h-5.8zM483.7,449.5h2.6v-4h3v4h2.6v3h-8.2zM485.4,457.4h2.6v-4h3v4h2.6v3h-8.2zM487.1,460.4h2.6v-4h3v4h2.6v3h-8.2zM488.8,454.6h5.6v3h2.6v3h-8.2zM490.5,461.7h5.6v3h2.6v3h-8.2zM492.1,466.6h2.6v-4h3v4h2.6v3h-8.2zM493.8,476.0h2.6v-4h3v4h2.6v3h-8.2zM495.5,477.3h2.6v-4h3v4h2.6v3h-8.2zM498.2,477.7h5.8v5.8h-5.8zM498.8,490.0h2.6v-4h3v4h2.6v3h-8.2zM500.5,491.5h5.6v3h2.6v3h-8.2zM502.2,490.6h2.6v-4h3v4h2.6v3h-8.2zM503.9,495.0h2.6v-4h3v4h2.6v3h-8.2zM505.6,503.7h2.6v-4h3v4h2.6v3h-8.2zM507.2,503.8h2.6v-4h3v4h2.6v3h-8.2zM508.9,504.7h2.6v-4h3v4h2.6v3h-8.2zM511.6,500.4h5.8v5.8h-5.8zM512.3,518.0h2.6v-4h3v4h2.6v3h-8.2zM514.0,515.7h2.6v-4h3v4h2.6v3h-8.2zM515.6,510.9h5.6v3h2.6v3h-8.2zM517.3,521.8h5.6v3h2.6v3h-8.2zM519.0,523.3h2.6v-4h3v4h2.6v3h-8.2zM521.7,538.4h5.8v5.8h-5.8zM523.3,526.8h5.8v5.8h-5.8zM524.0,538.6h2.6v-4h3v4h2.6v3h-8.2zM525.7,549.5h2.6v-4h3v4h2.6v3h-8.2zM527.4,539.5h5.6v3h2.6v3h-8.2zM529.1,545.0h2.6v-4h3v4h2.6v3h-8.2zM530.7,547.3h2.6v-4h3v4h2.6v3h-8.2zM532.4,548.2h5.6v3h2.6v3h-8.2zM534.1,555.9h5.6v3h2.6v3h-8.2zM535.8,564.1h2.6v-4h3v4h2.6v3h-8.2zM537.5,566.9h2.6v-4h3v4h2.6v3h-8.2zM539.1,567.2h2.6v-4h3v4h2.6v3h-8.2zM540.8,570.1h2.6v-4h3v4h2.6v3h-8.2zM542.5,575.5h2.6v-4h3v4h2.6v3h-8.2zM544.2,576.5h2.6v-4h3v4h2.6v3h-8.2zM545.8,573.1h5.6v3h2.6v3h-8.2zM547.5,578.4h5.6v3h2.6v3h-8.2zM550.2,573.6h5.8v5.8h-5.8zM551.9,576.9h5.8v5.8h-5.8zM552.6,595.3h2.6v-4h3v4h2.6v3h-8.2zM554.2,595.8h2.6v-4h3v4h2.6v3h-8.2zM555.9,598.4h5.6v3h2.6v3h-8.2zM557.6,601.7h5.6v3h2.6v3h-8.2zM559.3,600.5h2.6v-4h3v4h2.6v3h-8.2zM561.0,607.0h5.6v3h2.6v3h-8.2zM563.6,608.3h5.8v5.8h-5.8zM564.3,611.4h2.6v-4h3v4h2.6v3h-8.2zM566.0,607.7h5.6v3h2.6v3h-8.2zM567.7,617.1h2.6v-4h3v4h2.6v3h-8.2zM570.3,617.6h5.8v5.8h-5.8zM571.0,618.0h2.6v-4h3v4h2.6v3h-8.2zM572.7,621.8h2.6v-4h3v4h2.6v3h-8.2zM574.4,625.0h2.6v-4h3v4h2.6v3h-8.2zM576.1,627.1h2.6v-4h3v4h2.6v3h-8.2zM577.7,636.4h2.6v-4h3v4h2.6v3h-8.2zM579.4,631.2h5.6v3h2.6v3h-8.2zM581.1,636.5h5.6v3h2.6v3h-8.2zM582.8,636.6h2.6v-4h3v4h2.6v3h-8.2zM584.4,639.7h2.6v-4h3v4h2.6v3h-8.2zM587.1,646.3h5.8v5.8h-5.8zM587.8,642.6h2.6v-4h3v4h2.6v3h-8.2zM589.5,651.7h5.6v3h2.6v3h-8.2zM591.2,647.6h2.6v-4h3v4h2.6v3h-8.2zM592.8,650.9h5.6v3h2.6v3h-8.2zM594.5,658.0h5.6v3h2.6v3h-8.2zM596.2,664.4h2.6v-4h3v4h2.6v3h-8.2zM597.9,663.8h2.6v-4h3v4h2.6v3h-8.2zM599.6,662.2h5.6v3h2.6v3h-8.2zM601.2,669.2h2.6v-4h3v4h2.6v3h-8.2zM602.9,670.0h2.6v-4h3v4h2.6v3h-8.2zM605.6,674.8h5.8v5.8h-5.8zM606.3,675.1h2.6v-4h3v4h2.6v3h-8.2zM607.9,676.6h2.6v-4h3v4h2.6v3h-8.2zM609.6,688.4h2.6v-4h3v4h2.6v3h-8.2zM611.3,677.9h5.6v3h2.6v3h-8.2zM614.0,685.5h5.8v5.8h-5.8zM614.7,694.7h5.6v3h2.6v3h-8.2zM616.3,693.9h2.6v-4h3v4h2.6v3h-8.2zM618.0,693.3h2.6v-4h3v4h2.6v3h-8.2zM619.7,692.2h2.6v-4h3v4h2.6v3h-8.2zM622.4,694.6h5.8v5.8h-5.8zM623.1,694.6h2.6v-4h3v4h2.6v3h-8.2zM624.7,694.5h2.6v-4h3v4h2.6v3h-8.2zM626.4,698.4h5.6v3h2.6v3h-8.2zM628.1,704.2h2.6v-4h3v4h2.6v3h-8.2zM629.8,708.0h2.6v-4h3v4h2.6v3h-8.2zM631.4,714.6h2.6v-4h3v4h2.6v3h-8.2zM633.1,710.6h2.6v-4h3v4h2.6v3h-8.2zM635.8,707.0h5.8v5.8h-5.8zM636.5,714.6h5.6v3h2.6v3h-8.2zM639.2,716.9h5.8v5.8h-5.8zM640.8,726.8h5.8v5.8h-5.8zM642.5,718.8h5.8v5.8h-5.8zM643.2,720.4h5.6v3h2.6v3h-8.2zM644.9,738.4h2.6v-4h3v4h2.6v3h-8.2zM647.5,726.7h5.8v5.8h-5.8zM648.2,730.2h2.6v-4h3v4h2.6v3h-8.2zM649.9,739.8h2.6v-4h3v4h2.6v3h-8.2zM651.6,735.1h5.6v3h2.6v3h-8.2zM653.3,739.9h2.6v-4h3v4h2.6v3h-8.2zM654.9,748.1h2.6v-4h3v4h2.6v3h-8.2zM656.6,747.8h2.6v-4h3v4h2.6v3h-8.2zM658.3,746.7h2.6v-4h3v4h2.6v3h-8.2zM660.0,746.1h2.6v-4h3v4h2.6v3h-8.2zM661.7,747.4h2.6v-4h3v4h2.6v3h-8.2zM663.3,762.4h2.6v-4h3v4h2.6v3h-8.2zM665.0,755.2h5.6v3h2.6v3h-8.2zM666.7,752.2h5.6v3h2.6v3h-8.2zM668.4,762.2h2.6v-4h3v4h2.6v3h-8.2zM670.0,755.2h2.6v-4h3v4h2.6v3h-8.2zM671.7,772.4h2.6v-4h3v4h2.6v3h-8.2zM673.4,776.4h2.6v-4h3v4h2.6v3h-8.2zM675.1,773.9h2.6v-4h3v4h2.6v3h-8.2zM676.8,769.3h2.6v-4h3v4h2.6v3h-8.2zM678.4,784.4h2.6v-4h3v4h2.6v3h-8.2zM681.1,769.2h5.8v5.8h-5.8zM681.8,775.8h5.6v3h2.6v3h-8.2zM683.5,781.8h2.6v-4h3v4h2.6v3h-8.2zM685.2,792.5h2.6v-4h3v4h2.6v3h-8.2zM686.8,787.9h5.6v3h2.6v3h-8.2zM688.5,782.1h5.6v3h2.6v3h-8.2zM690.2,797.3h2.6v-4h3v4h2.6v3h-8.2zM691.9,790.0h2.6v-4h3v4h2.6v3h-8.2zM694.5,801.5h5.8v5.8h-5.8zM695.2,796.5h2.6v-4h3v4h2.6v3h-8.2zM696.9,801.0h2.6v-4h3v4h2.6v3h-8.2zM698.6,799.8h5.6v3h2.6v3h-8.2zM700.3,805.4h2.6v-4h3v4h2.6v3h-8.2zM702.9,804.0h5.8v5.8h-5.8zM703.6,806.5h2.6v-4h3v4h2.6v3h-8.2zM705.3,807.3h2.6v-4h3v4h2.6v3h-8.2zM707.0,813.0h2.6v-4h3v4h2.6v3h-8.2zM708.6,819.3h2.6v-4h3v4h2.6v3h-8.2zM710.3,823.9h2.6v-4h3v4h2.6v3h-8.2zM712.0,811.1h5.6v3h2.6v3h-8.2zM713.7,825.1h2.6v-4h3v4h2.6v3h-8.2zM715.4,817.6h2.6v-4h3v4h2.6v3h-8.2zM717.0,826.9h2.6v-4h3v4h2.6v3h-8.2zM718.7,837.5h2.6v-4h3v4h2.6v3h-8.2zM720.4,822.4h5.6v3h2.6v3h-8.2zM722.1,831.5h2.6v-4h3v4h2.6v3h-8.2zM723.8,838.0h2.6v-4h3v4h2.6v3h-8.2zM725.4,834.0h2.6v-4h3v4h2.6v3h-8.2zM727.1,828.1h5.6v3h2.6v3h-8.2zM729.8,839.2h5.8v5.8h-5.8zM730.5,839.9h2.6v-4h3v4h2.6v3h-8.2zM732.1,833.2h2.6v-4h3v4h2.6v3h-8.2zM733.8,837.6h2.6v-4h3v4h2.6v3h-8.2zM735.5,838.5h5.6v3h2.6v3h-8.2zM737.2,843.2h2.6v-4h3v4h2.6v3h-8.2zM738.9,834.6h2.6v-4h3v4h2.6v3h-8.2zM740.5,845.4h2.6v-4h3v4h2.6v3h-8.2zM743.2,826.6h5.8v5.8h-5.8zM744.9,848.9h5.8v5.8h-5.8zM745.6,853.1h2.6v-4h3v4h2.6v3h-8.2zM747.3,851.8h2.6v-4h3v4h2.6v3h-8.2zM749.9,854.0h5.8v5.8h-5.8zM750.6,856.4h2.6v-4h3v4h2.6v3h-8.2zM752.3,857.4h2.6v-4h3v4h2.6v3h-8.2zM754.0,854.0h2.6v-4h3v4h2.6v3h-8.2zM755.6,856.4h2.6v-4h3v4h2.6v3h-8.2zM757.3,860.3h2.6v-4h3v4h2.6v3h-8.2zM759.0,846.0h5.6v3h2.6v3h-8.2zM760.7,863.3h2.6v-4h3v4h2.6v3h-8.2zM762.4,865.5h2.6v-4h3v4h2.6v3h-8.2zM764.0,862.8h2.6v-4h3v4h2.6v3h-8.2zM765.7,871.4h2.6v-4h3v4h2.6v3h-8.2zM767.4,865.0h5.6v3h2.6v3h-8.2zM769.1,874.3h2.6v-4h3v4h2.6v3h-8.2zM770.8,871.8h5.6v3h2.6v3h-8.2zM772.4,870.8h2.6v-4h3v4h2.6v3h-8.2zM774.1,878.7h2.6v-4h3v4h2.6v3h-8.2zM775.8,873.5h5.6v3h2.6v3h-8.2zM777.5,879.9h2.6v-4h3v4h2.6v3h-8.2zM779.1,884.7h2.6v-4h3v4h2.6v3h-8.2zM780.8,877.5h2.6v-4h3v4h2.6v3h-8.2zM782.5,886.3h5.6v3h2.6v3h-8.2zM784.2,888.2h2.6v-4h3v4h2.6v3h-8.2zM785.9,881.6h2.6v-4h3v4h2.6v3h-8.2zM787.5,892.0h2.6v-4h3v4h2.6v3h-8.2zM789.2,902.2h2.6v-4h3v4h2.6v3h-8.2zM790.9,881.6h5.6v3h2.6v3h-8.2zM792.6,896.6h2.6v-4h3v4h2.6v3h-8.2zM794.2,907.5h2.6v-4h3v4h2.6v3h-8.2zM795.9,896.4h2.6v-4h3v4h2.6v3h-8.2zM797.6,906.3h2.6v-4h3v4h2.6v3h-8.2zM799.3,902.9h2.6v-4h3v4h2.6v3h-8.2zM801.0,902.6h2.6v-4h3v4h2.6v3h-8.2zM802.6,891.3h2.6v-4h3v4h2.6v3h-8.2zM804.3,899.1h5.6v3h2.6v3h-8.2zM806.0,902.4h2.6v-4h3v4h2.6v3h-8.2zM807.7,908.1h2.6v-4h3v4h2.6v3h-8.2zM809.4,907.6h2.6v-4h3v4h2.6v3h-8.2zM811.0,921.2h2.6v-4h3v4h2.6v3h-8.2zM812.7,906.3h2.6v-4h3v4h2.6v3h-8.2zM814.4,907.6h2.6v-4h3v4h2.6v3h-8.2zM816.1,907.0h5.6v3h2.6v3h-8.2zM817.7,905.5h2.6v-4h3v4h2.6v3h-8.2zM819.4,909.6h2.6v-4h3v4h2.6v3h-8.2zM821.1,918.7h2.6v-4h3v4h2.6v3h-8.2zM823.8,915.7h5.8v5.8h-5.8zM824.5,915.3h5.6v3h2.6v3h-8.2zM826.1,919.3h2.6v-4h3v4h2.6v3h-8.2zM827.8,929.7h2.6v-4h3v4h2.6v3h-8.2zM829.5,906.0h2.6v-4h3v4h2.6v3h-8.2zM832.2,930.4h5.8v5.8h-5.8zM832.9,922.7h2.6v-4h3v4h2.6v3h-8.2zM835.5,919.8h5.8v5.8h-5.8zM836.2,927.5h2.6v-4h3v4h2.6v3h-8.2zM838.9,933.4h5.8v5.8h-5.8zM839.6,925.2h2.6v-4h3v4h2.6v3h-8.2zM841.2,931.8h2.6v-4h3v4h2.6v3h-8.2zM843.9,934.8h5.8v5.8h-5.8zM845.6,925.5h5.8v5.8h-5.8zM846.3,939.2h2.6v-4h3v4h2.6v3h-8.2zM848.0,936.1h2.6v-4h3v4h2.6v3h-8.2zM850.6,928.6h5.8v5.8h-5.8zM851.3,945.2h5.6v3h2.6v3h-8.2zM853.0,933.3h2.6v-4h3v4h2.6v3h-8.2zM854.7,950.2h2.6v-4h3v4h2.6v3h-8.2zM856.3,936.2h2.6v-4h3v4h2.6v3h-8.2zM859.0,942.1h5.8v5.8h-5.8zM859.7,940.8h2.6v-4h3v4h2.6v3h-8.2zM861.4,946.3h2.6v-4h3v4h2.6v3h-8.2zM863.1,949.5h2.6v-4h3v4h2.6v3h-8.2zM864.7,956.1h2.6v-4h3v4h2.6v3h-8.2zM867.4,944.3h5.8v5.8h-5.8zM868.1,949.9h2.6v-4h3v4h2.6v3h-8.2zM870.8,944.9h5.8v5.8h-5.8zM871.5,960.7h2.6v-4h3v4h2.6v3h-8.2zM873.1,953.1h2.6v-4h3v4h2.6v3h-8.2zM874.8,965.1h2.6v-4h3v4h2.6v3h-8.2zM876.5,981.6h2.6v-4h3v4h2.6v3h-8.2zM878.2,964.5h2.6v-4h3v4h2.6v3h-8.2zM879.8,961.9h2.6v-4h3v4h2.6v3h-8.2zM881.5,968.8h5.6v3h2.6v3h-8.2zM883.2,980.0h2.6v-4h3v4h2.6v3h-8.2zM884.9,954.8h2.6v-4h3v4h2.6v3h-8.2zM886.6,975.3h2.6v-4h3v4h2.6v3h-8.2zM888.2,976.2h2.6v-4h3v4h2.6v3h-8.2zM889.9,944.1h2.6v-4h3v4h2.6v3h-8.2zM891.6,977.4h2.6v-4h3v4h2.6v3h-8.2zM893.3,970.5h2.6v-4h3v4h2.6v3h-8.2zM895.0,995.0h2.6v-4h3v4h2.6v3h-8.2zM896.6,976.8h2.6v-4h3v4h2.6v3h-8.2zM898.3,962.8h2.6v-4h3v4h2.6v3h-8.2zM901.0,984.9h5.8v5.8h-5.8zM901.7,989.2h5.6v3h2.6v3h-8.2zM904.3,1039.6h5.8v5.8h-5.8zM905.0,978.5h5.6v3h2.6v3h-8.2zM907.7,965.4h5.8v5.8h-5.8zM909.4,994.4h5.8v5.8h-5.8zM910.1,995.5h2.6v-4h3v4h2.6v3h-8.2zM912.7,975.9h5.8v5.8h-5.8zM914.4,973.9h5.8v5.8h-5.8zM915.1,975.4h2.6v-4h3v4h2.6v3h-8.2zM916.8,978.5h5.6v3h2.6v3h-8.2zM918.4,968.7h5.6v3h2.6v3h-8.2zM920.1,999.9h5.6v3h2.6v3h-8.2zM921.8,981.2h5.6v3h2.6v3h-8.2zM924.5,973.0h5.8v5.8h-5.8zM925.2,999.1h2.6v-4h3v4h2.6v3h-8.2zM926.8,997.0h2.6v-4h3v4h2.6v3h-8.2zM928.5,993.0h5.6v3h2.6v3h-8.2zM930.2,996.7h2.6v-4h3v4h2.6v3h-8.2zM931.9,1003.7h2.6v-4h3v4h2.6v3h-8.2zM933.6,996.5h2.6v-4h3v4h2.6v3h-8.2zM935.2,1013.7h2.6v-4h3v4h2.6v3h-8.2zM936.9,990.0h5.6v3h2.6v3h-8.2zM938.6,1011.7h5.6v3h2.6v3h-8.2zM941.3,979.0h5.8v5.8h-5.8zM941.9,981.2h2.6v-4h3v4h2.6v3h-8.2zM943.6,989.6h2.6v-4h3v4h2.6v3h-8.2zM945.3,1002.3h2.6v-4h3v4h2.6v3h-8.2zM947.0,1012.8h2.6v-4h3v4h2.6v3h-8.2zM949.7,986.3h5.8v5.8h-5.8zM950.3,1008.8h2.6v-4h3v4h2.6v3h-8.2zM952.0,1000.3h2.6v-4h3v4h2.6v3h-8.2zM953.7,1027.7h2.6v-4h3v4h2.6v3h-8.2zM955.4,998.9h5.6v3h2.6v3h-8.2zM957.1,1013.4h5.6v3h2.6v3h-8.2zM958.7,1016.6h2.6v-4h3v4h2.6v3h-8.2zM961.4,1028.7h5.8v5.8h-5.8zM963.1,1024.0h5.8v5.8h-5.8zM963.8,999.9h5.6v3h2.6v3h-8.2zM966.4,1014.3h5.8v5.8h-5.8zM967.1,1021.2h2.6v-4h3v4h2.6v3h-8.2zM968.8,1032.8h5.6v3h2.6v3h-8.2zM970.5,1017.3h2.6v-4h3v4h2.6v3h-8.2zM973.2,996.5h5.8v5.8h-5.8zM973.8,1050.5h2.6v-4h3v4h2.6v3h-8.2zM975.5,1025.8h5.6v3h2.6v3h-8.2zM977.2,1016.8h2.6v-4h3v4h2.6v3h-8.2zM978.9,1033.6h5.6v3h2.6v3h-8.2zM981.6,1033.9h5.8v5.8h-5.8zM982.2,1012.3h5.6v3h2.6v3h-8.2zM983.9,1036.2h2.6v-4h3v4h2.6v3h-8.2zM986.6,1030.0h5.8v5.8h-5.8zM987.3,1014.4h5.6v3h2.6v3h-8.2zM988.9,1085.8h2.6v-4h3v4h2.6v3h-8.2zM990.6,1026.1h2.6v-4h3v4h2.6v3h-8.2zM992.3,1035.3h5.6v3h2.6v3h-8.2zM994.0,1024.6h5.6v3h2.6v3h-8.2zM995.7,1016.9h2.6v-4h3v4h2.6v3h-8.2zM997.3,1020.9h2.6v-4h3v4h2.6v3h-8.2zM999.0,1066.7h2.6v-4h3v4h2.6v3h-8.2zM1000.7,1024.5h2.6v-4h3v4h2.6v3h-8.2zM1002.4,1035.8h2.6v-4h3v4h2.6v3h-8.2zM1004.0,1050.4h2.6v-4h3v4h2.6v3h-8.2zM1005.7,1026.6h5.6v3h2.6v3h-8.2zM1008.4,1065.9h5.8v5.8h-5.8zM1009.1,1018.3h5.6v3h2.6v3h-8.2zM1010.8,1041.5h2.6v-4h3v4h2.6v3h-8.2zM1013.4,1027.7h5.8v5.8h-5.8zM1014.1,1032.9h5.6v3h2.6v3h-8.2zM1016.8,1098.6h5.8v5.8h-5.8zM1017.5,1039.2h2.6v-4h3v4h2.6v3h-8.2zM1019.2,1034.8h2.6v-4h3v4h2.6v3h-8.2zM1020.8,1037.9h2.6v-4h3v4h2.6v3h-8.2zM1022.5,1033.4h2.6v-4h3v4h2.6v3h-8.2zM1024.2,1052.4h2.6v-4h3v4h2.6v3h-8.2zM1025.9,1041.6h2.6v-4h3v4h2.6v3h-8.2zM1027.5,1034.7h2.6v-4h3v4h2.6v3h-8.2zM1029.2,1037.5h5.6v3h2.6v3h-8.2zM1030.9,1061.0h2.6v-4h3v4h2.6v3h-8.2zM1032.6,1055.5h2.6v-4h3v4h2.6v3h-8.2zM1034.3,1039.2h2.6v-4h3v4h2.6v3h-8.2zM1036.9,1032.3h5.8v5.8h-5.8zM1038.6,1059.2h5.8v5.8h-5.8zM1039.3,1070.6h2.6v-4h3v4h2.6v3h-8.2zM1041.0,1037.0h2.6v-4h3v4h2.6v3h-8.2zM1043.7,1079.0h5.8v5.8h-5.8zM1045.3,1045.8h5.8v5.8h-5.8zM1046.0,1070.5h5.6v3h2.6v3h-8.2zM1047.7,1085.7h5.6v3h2.6v3h-8.2zM1049.4,1047.6h5.6v3h2.6v3h-8.2zM1051.0,1058.0h5.6v3h2.6v3h-8.2zM1052.7,1035.4h5.6v3h2.6v3h-8.2zM1055.4,1025.3h5.8v5.8h-5.8zM1057.1,1056.3h5.8v5.8h-5.8zM1057.8,1044.0h2.6v-4h3v4h2.6v3h-8.2zM1059.4,1042.5h2.6v-4h3v4h2.6v3h-8.2zM1061.1,1068.6h2.6v-4h3v4h2.6v3h-8.2zM1063.8,1063.2h5.8v5.8h-5.8zM1064.5,1038.2h2.6v-4h3v4h2.6v3h-8.2zM1067.1,1071.7h5.8v5.8h-5.8zM1067.8,1061.6h2.6v-4h3v4h2.6v3h-8.2zM1069.5,1064.1h5.6v3h2.6v3h-8.2zM1071.2,1064.5h2.6v-4h3v4h2.6v3h-8.2zM1072.9,1077.7h5.6v3h2.6v3h-8.2zM1074.5,1045.3h5.6v3h2.6v3h-8.2zM1076.2,1045.4h2.6v-4h3v4h2.6v3h-8.2zM1077.9,1071.9h2.6v-4h3v4h2.6v3h-8.2zM1079.6,1099.0h2.6v-4h3v4h2.6v3h-8.2zM1081.3,1063.9h2.6v-4h3v4h2.6v3h-8.2zM1082.9,1095.4h2.6v-4h3v4h2.6v3h-8.2zM1085.6,1070.0h5.8v5.8h-5.8zM1086.3,1050.2h2.6v-4h3v4h2.6v3h-8.2zM1088.0,1034.9h5.6v3h2.6v3h-8.2zM1089.6,1091.1h2.6v-4h3v4h2.6v3h-8.2zM1091.3,1094.2h2.6v-4h3v4h2.6v3h-8.2zM1094.0,1052.9h5.8v5.8h-5.8zM1094.7,1174.6h2.6v-4h3v4h2.6v3h-8.2zM1097.4,1111.9h5.8v5.8h-5.8zM1098.0,1048.7h2.6v-4h3v4h2.6v3h-8.2zM1099.7,1060.5h2.6v-4h3v4h2.6v3h-8.2zM1101.4,1100.0h5.6v3h2.6v3h-8.2zM1103.1,1111.6h2.6v-4h3v4h2.6v3h-8.2zM1104.8,1057.1h5.6v3h2.6v3h-8.2zM1106.4,1077.9h2.6v-4h3v4h2.6v3h-8.2zM1108.1,1082.8h5.6v3h2.6v3h-8.2zM1110.8,1066.0h5.8v5.8h-5.8zM1112.5,1093.3h5.8v5.8h-5.8zM1113.1,1160.1h2.6v-4h3v4h2.6v3h-8.2zM1114.8,1058.5h2.6v-4h3v4h2.6v3h-8.2zM1116.5,1085.8h5.6v3h2.6v3h-8.2zM1118.2,1119.5h2.6v-4h3v4h2.6v3h-8.2zM1120.9,1100.3h5.8v5.8h-5.8zM1121.5,1073.3h5.6v3h2.6v3h-8.2zM1123.2,1101.4h2.6v-4h3v4h2.6v3h-8.2zM1124.9,1063.0h5.6v3h2.6v3h-8.2zM1126.6,1081.5h2.6v-4h3v4h2.6v3h-8.2zM1128.2,1060.2h2.6v-4h3v4h2.6v3h-8.2zM1130.9,1083.7h5.8v5.8h-5.8zM1131.6,1107.2h2.6v-4h3v4h2.6v3h-8.2zM1134.3,1193.5h5.8v5.8h-5.8zM1135.0,1104.5h2.6v-4h3v4h2.6v3h-8.2zM1137.6,1131.5h5.8v5.8h-5.8zM1139.3,1030.9h5.8v5.8h-5.8zM1140.0,1115.5h2.6v-4h3v4h2.6v3h-8.2zM1141.7,1109.5h2.6v-4h3v4h2.6v3h-8.2zM1143.4,1073.8h5.6v3h2.6v3h-8.2zM1146.0,1074.4h5.8v5.8h-5.8zM1146.7,1110.8h2.6v-4h3v4h2.6v3h-8.2zM1148.4,1084.5h2.6v-4h3v4h2.6v3h-8.2zM1151.1,1131.7h5.8v5.8h-5.8zM1152.7,1082.3h5.8v5.8h-5.8zM1153.4,1065.5h5.6v3h2.6v3h-8.2zM1155.1,1057.0h2.6v-4h3v4h2.6v3h-8.2zM1156.8,1094.4h2.6v-4h3v4h2.6v3h-8.2zM1158.5,1095.6h5.6v3h2.6v3h-8.2zM1160.1,1081.1h2.6v-4h3v4h2.6v3h-8.2zM1161.8,1068.9h2.6v-4h3v4h2.6v3h-8.2zM1163.5,1083.1h2.6v-4h3v4h2.6v3h-8.2zM1165.2,1125.3h2.6v-4h3v4h2.6v3h-8.2zM1167.9,1077.6h5.8v5.8h-5.8zM1168.5,1070.7h2.6v-4h3v4h2.6v3h-8.2zM1170.2,1244.1h2.6v-4h3v4h2.6v3h-8.2zM1172.9,1129.7h5.8v5.8h-5.8zM1173.6,1082.0h2.6v-4h3v4h2.6v3h-8.2zM1175.2,1084.5h5.6v3h2.6v3h-8.2zM1176.9,1072.8h2.6v-4h3v4h2.6v3h-8.2zM1178.6,1085.3h2.6v-4h3v4h2.6v3h-8.2zM1180.3,1100.8h2.6v-4h3v4h2.6v3h-8.2zM1183.0,1098.6h5.8v5.8h-5.8zM1183.6,1112.7h2.6v-4h3v4h2.6v3h-8.2zM1186.3,1105.4h5.8v5.8h-5.8zM1187.0,1107.1h2.6v-4h3v4h2.6v3h-8.2zM1188.7,1104.8h2.6v-4h3v4h2.6v3h-8.2zM1190.4,1071.4h2.6v-4h3v4h2.6v3h-8.2zM1192.0,1125.1h2.6v-4h3v4h2.6v3h-8.2zM1193.7,1099.4h2.6v-4h3v4h2.6v3h-8.2zM1196.4,1109.7h5.8v5.8h-5.8zM1197.1,1068.7h2.6v-4h3v4h2.6v3h-8.2zM1198.7,1091.2h5.6v3h2.6v3h-8.2zM1200.4,1102.8h2.6v-4h3v4h2.6v3h-8.2zM1202.1,1082.7h2.6v-4h3v4h2.6v3h-8.2zM1203.8,1091.5h2.6v-4h3v4h2.6v3h-8.2zM1205.5,1104.4h2.6v-4h3v4h2.6v3h-8.2zM1207.1,1073.2h2.6v-4h3v4h2.6v3h-8.2zM1208.8,1081.1h2.6v-4h3v4h2.6v3h-8.2zM1210.5,1067.7h2.6v-4h3v4h2.6v3h-8.2zM1212.2,1072.5h2.6v-4h3v4h2.6v3h-8.2zM1213.8,1082.5h2.6v-4h3v4h2.6v3h-8.2zM1215.5,1097.7h2.6v-4h3v4h2.6v3h-8.2zM1217.2,1123.8h2.6v-4h3v4h2.6v3h-8.2zM1219.9,1102.0h5.8v5.8h-5.8zM1220.6,1095.5h5.6v3h2.6v3h-8.2zM1222.2,1086.2h2.6v-4h3v4h2.6v3h-8.2zM1224.9,1099.1h5.8v5.8h-5.8zM1225.6,1116.7h2.6v-4h3v4h2.6v3h-8.2zM1227.3,1128.5h5.6v3h2.6v3h-8.2zM1229.0,1086.2h2.6v-4h3v4h2.6v3h-8.2zM1230.6,1080.8h2.6v-4h3v4h2.6v3h-8.2zM1233.3,1104.0h5.8v5.8h-5.8zM1235.0,1088.7h5.8v5.8h-5.8zM1235.7,1073.9h2.6v-4h3v4h2.6v3h-8.2zM1238.3,1123.4h5.8v5.8h-5.8zM1239.0,1100.8h2.6v-4h3v4h2.6v3h-8.2zM1241.7,1130.4h5.8v5.8h-5.8zM1242.4,1080.4h2.6v-4h3v4h2.6v3h-8.2zM1244.1,1127.4h5.6v3h2.6v3h-8.2zM1246.7,1107.4h5.8v5.8h-5.8zM1247.4,1152.9h2.6v-4h3v4h2.6v3h-8.2zM1249.1,1103.5h5.6v3h2.6v3h-8.2zM1250.8,1088.4h2.6v-4h3v4h2.6v3h-8.2zM1253.5,1108.8h5.8v5.8h-5.8zM1254.1,1118.5h2.6v-4h3v4h2.6v3h-8.2zM1256.8,1086.5h5.8v5.8h-5.8zM1257.5,1140.7h2.6v-4h3v4h2.6v3h-8.2zM1259.2,1109.6h2.6v-4h3v4h2.6v3h-8.2zM1260.8,1093.1h2.6v-4h3v4h2.6v3h-8.2zM1262.5,1132.7h2.6v-4h3v4h2.6v3h-8.2zM1264.2,1133.2h2.6v-4h3v4h2.6v3h-8.2zM1266.9,1096.6h5.8v5.8h-5.8zM1268.6,1114.8h5.8v5.8h-5.8zM1269.2,1108.6h5.6v3h2.6v3h-8.2zM1270.9,1102.8h5.6v3h2.6v3h-8.2zM1273.6,1104.1h5.8v5.8h-5.8zM1275.3,1128.7h5.8v5.8h-5.8zM1275.9,1123.8h2.6v-4h3v4h2.6v3h-8.2zM1277.6,1101.9h2.6v-4h3v4h2.6v3h-8.2zM1279.3,1083.8h5.6v3h2.6v3h-8.2zM1281.0,1076.6h5.6v3h2.6v3h-8.2zM1282.7,1129.1h2.6v-4h3v4h2.6v3h-8.2zM1285.3,1088.1h5.8v5.8h-5.8zM1286.0,1113.5h2.6v-4h3v4h2.6v3h-8.2zM1287.7,1115.7h2.6v-4h3v4h2.6v3h-8.2zM1289.4,1102.6h2.6v-4h3v4h2.6v3h-8.2zM1291.1,1091.3h2.6v-4h3v4h2.6v3h-8.2zM1292.7,1070.6h5.6v3h2.6v3h-8.2zM1294.4,1138.9h2.6v-4h3v4h2.6v3h-8.2zM1297.1,1090.8h5.8v5.8h-5.8zM1297.8,1117.2h2.6v-4h3v4h2.6v3h-8.2zM1300.4,1115.9h5.8v5.8h-5.8zM1301.1,1089.2h2.6v-4h3v4h2.6v3h-8.2zM1302.8,1088.8h2.6v-4h3v4h2.6v3h-8.2zM1304.5,1150.1h2.6v-4h3v4h2.6v3h-8.2zM1306.2,1119.3h2.6v-4h3v4h2.6v3h-8.2zM1307.8,1103.7h5.6v3h2.6v3h-8.2zM1309.5,1153.0h2.6v-4h3v4h2.6v3h-8.2zM1312.2,1083.8h5.8v5.8h-5.8zM1313.9,1108.1h5.8v5.8h-5.8zM1314.6,1107.6h2.6v-4h3v4h2.6v3h-8.2zM1316.2,1109.7h2.6v-4h3v4h2.6v3h-8.2zM1318.9,1071.9h5.8v5.8h-5.8zM1319.6,1115.3h2.6v-4h3v4h2.6v3h-8.2zM1321.3,1123.7h2.6v-4h3v4h2.6v3h-8.2zM1322.9,1077.9h2.6v-4h3v4h2.6v3h-8.2zM1324.6,1127.1h5.6v3h2.6v3h-8.2zM1326.3,1126.3h2.6v-4h3v4h2.6v3h-8.2zM1328.0,1146.9h2.6v-4h3v4h2.6v3h-8.2zM1329.7,1088.5h2.6v-4h3v4h2.6v3h-8.2zM1331.3,1108.6h2.6v-4h3v4h2.6v3h-8.2zM1333.0,1111.7h2.6v-4h3v4h2.6v3h-8.2zM1334.7,1108.3h2.6v-4h3v4h2.6v3h-8.2zM1336.4,1115.7h2.6v-4h3v4h2.6v3h-8.2zM1338.0,1138.3h2.6v-4h3v4h2.6v3h-8.2zM1339.7,1139.6h2.6v-4h3v4h2.6v3h-8.2zM1341.4,1104.4h2.6v-4h3v4h2.6v3h-8.2zM1344.1,1113.5h5.8v5.8h-5.8zM1345.8,1076.3h5.8v5.8h-5.8zM1346.4,1142.4h2.6v-4h3v4h2.6v3h-8.2zM1348.1,1147.9h2.6v-4h3v4h2.6v3h-8.2zM1349.8,1145.7h2.6v-4h3v4h2.6v3h-8.2zM1352.5,1088.3h5.8v5.8h-5.8zM1353.2,1152.9h2.6v-4h3v4h2.6v3h-8.2zM1354.8,1098.5h2.6v-4h3v4h2.6v3h-8.2zM1357.5,1087.0h5.8v5.8h-5.8zM1359.2,1115.1h5.8v5.8h-5.8zM1359.9,1103.5h2.6v-4h3v4h2.6v3h-8.2zM1361.5,1183.8h2.6v-4h3v4h2.6v3h-8.2zM1363.2,1128.2h2.6v-4h3v4h2.6v3h-8.2zM1365.9,1168.2h5.8v5.8h-5.8zM1366.6,1116.9h2.6v-4h3v4h2.6v3h-8.2zM1368.3,1125.7h2.6v-4h3v4h2.6v3h-8.2zM1369.9,1143.6h2.6v-4h3v4h2.6v3h-8.2zM1371.6,1100.4h2.6v-4h3v4h2.6v3h-8.2zM1373.3,1105.7h2.6v-4h3v4h2.6v3h-8.2zM1375.0,1129.9h2.6v-4h3v4h2.6v3h-8.2zM1376.7,1136.7h5.6v3h2.6v3h-8.2zM1378.3,1160.2h2.6v-4h3v4h2.6v3h-8.2zM1381.0,1121.1h5.8v5.8h-5.8zM1381.7,1076.7h2.6v-4h3v4h2.6v3h-8.2zM1383.4,1150.1h5.6v3h2.6v3h-8.2zM1385.0,1130.3h5.6v3h2.6v3h-8.2zM1386.7,1138.4h2.6v-4h3v4h2.6v3h-8.2zM1388.4,1103.3h2.6v-4h3v4h2.6v3h-8.2zM1390.1,1110.3h2.6v-4h3v4h2.6v3h-8.2zM1392.8,1156.3h5.8v5.8h-5.8zM1393.4,1177.1h2.6v-4h3v4h2.6v3h-8.2zM1395.1,1136.3h2.6v-4h3v4h2.6v3h-8.2zM1396.8,1096.6h2.6v-4h3v4h2.6v3h-8.2zM1399.5,1128.6h5.8v5.8h-5.8zM1400.2,1103.3h5.6v3h2.6v3h-8.2zM1401.8,1132.1h2.6v-4h3v4h2.6v3h-8.2zM1403.5,1177.8h5.6v3h2.6v3h-8.2zM1405.2,1115.3h2.6v-4h3v4h2.6v3h-8.2zM1406.9,1112.5h2.6v-4h3v4h2.6v3h-8.2zM1408.5,1138.3h2.6v-4h3v4h2.6v3h-8.2zM1410.2,1127.9h5.6v3h2.6v3h-8.2zM1411.9,1112.1h2.6v-4h3v4h2.6v3h-8.2zM1414.6,1140.2h5.8v5.8h-5.8zM1415.3,1115.5h2.6v-4h3v4h2.6v3h-8.2zM1416.9,1131.5h2.6v-4h3v4h2.6v3h-8.2zM1419.6,1209.5h5.8v5.8h-5.8zM1421.3,1117.0h5.8v5.8h-5.8zM1422.0,1136.9h2.6v-4h3v4h2.6v3h-8.2zM1423.6,1329.2h5.6v3h2.6v3h-8.2zM1425.3,1112.9h2.6v-4h3v4h2.6v3h-8.2zM1428.0,1136.8h5.8v5.8h-5.8zM1428.7,1107.6h2.6v-4h3v4h2.6v3h-8.2zM1430.4,1171.5h2.6v-4h3v4h2.6v3h-8.2zM1432.0,1118.9h5.6v3h2.6v3h-8.2zM1433.7,1173.0h2.6v-4h3v4h2.6v3h-8.2zM1435.4,1144.4h2.6v-4h3v4h2.6v3h-8.2zM1437.1,1100.3h5.6v3h2.6v3h-8.2zM1438.8,1133.4h2.6v-4h3v4h2.6v3h-8.2zM1440.4,1146.5h5.6v3h2.6v3h-8.2zM1443.1,1122.8h5.8v5.8h-5.8zM1443.8,1117.1h2.6v-4h3v4h2.6v3h-8.2zM1445.5,1119.4h2.6v-4h3v4h2.6v3h-8.2zM1447.1,1110.5h2.6v-4h3v4h2.6v3h-8.2zM1448.8,1152.4h2.6v-4h3v4h2.6v3h-8.2zM1450.5,1128.1h5.6v3h2.6v3h-8.2zM1452.2,1138.5h2.6v-4h3v4h2.6v3h-8.2zM1454.9,1125.1h5.8v5.8h-5.8zM1456.5,1201.5h5.8v5.8h-5.8zM1457.2,1131.3h2.6v-4h3v4h2.6v3h-8.2zM1458.9,1171.2h2.6v-4h3v4h2.6v3h-8.2zM1460.6,1091.5h5.6v3h2.6v3h-8.2zM1463.3,1086.7h5.8v5.8h-5.8zM1464.9,1089.8h5.8v5.8h-5.8zM1465.6,1106.2h2.6v-4h3v4h2.6v3h-8.2zM1467.3,1141.5h5.6v3h2.6v3h-8.2zM1469.0,1105.2h2.6v-4h3v4h2.6v3h-8.2zM1470.6,1133.9h2.6v-4h3v4h2.6v3h-8.2zM1472.3,1107.1h5.6v3h2.6v3h-8.2zM1474.0,1151.8h2.6v-4h3v4h2.6v3h-8.2zM1475.7,1135.1h5.6v3h2.6v3h-8.2zM1477.4,1154.0h2.6v-4h3v4h2.6v3h-8.2zM1479.0,1089.2h2.6v-4h3v4h2.6v3h-8.2zM1480.7,1131.3h2.6v-4h3v4h2.6v3h-8.2zM1482.4,1186.9h5.6v3h2.6v3h-8.2zM1485.1,1062.9h5.8v5.8h-5.8zM1485.7,1167.8h2.6v-4h3v4h2.6v3h-8.2zM1487.4,1132.2h2.6v-4h3v4h2.6v3h-8.2zM1490.1,1153.4h5.8v5.8h-5.8zM1490.8,1132.4h2.6v-4h3v4h2.6v3h-8.2zM1492.5,1144.9h2.6v-4h3v4h2.6v3h-8.2zM1494.1,1134.4h2.6v-4h3v4h2.6v3h-8.2zM1496.8,1110.5h5.8v5.8h-5.8zM1498.5,1104.9h5.8v5.8h-5.8zM1499.2,1119.7h2.6v-4h3v4h2.6v3h-8.2zM1500.9,1129.4h2.6v-4h3v4h2.6v3h-8.2zM1502.5,1135.4h2.6v-4h3v4h2.6v3h-8.2zM1504.2,1124.1h5.6v3h2.6v3h-8.2zM1506.9,1320.2h5.8v5.8h-5.8zM1507.6,1134.4h2.6v-4h3v4h2.6v3h-8.2zM1509.2,1117.1h2.6v-4h3v4h2.6v3h-8.2zM1510.9,1179.2h2.6v-4h3v4h2.6v3h-8.2zM1512.6,1108.5h2.6v-4h3v4h2.6v3h-8.2zM1515.3,1088.9h5.8v5.8h-5.8zM1516.0,1121.4h5.6v3h2.6v3h-8.2zM1517.6,1177.6h2.6v-4h3v4h2.6v3h-8.2zM1519.3,1102.2h2.6v-4h3v4h2.6v3h-8.2zM1521.0,1138.5h2.6v-4h3v4h2.6v3h-8.2zM1522.7,1273.6h5.6v3h2.6v3h-8.2zM1524.4,1260.3h2.6v-4h3v4h2.6v3h-8.2zM1527.0,1112.5h5.8v5.8h-5.8zM1528.7,1139.8h5.8v5.8h-5.8zM1529.4,1104.1h5.6v3h2.6v3h-8.2zM1531.1,1108.0h5.6v3h2.6v3h-8.2zM1533.7,1120.5h5.8v5.8h-5.8zM1534.4,1212.1h2.6v-4h3v4h2.6v3h-8.2zM1536.1,1160.4h2.6v-4h3v4h2.6v3h-8.2zM1537.8,1170.9h5.6v3h2.6v3h-8.2zM1539.5,1116.0h2.6v-4h3v4h2.6v3h-8.2zM1541.1,1162.8h5.6v3h2.6v3h-8.2zM1542.8,1152.6h2.6v-4h3v4h2.6v3h-8.2zM1544.5,1116.1h2.6v-4h3v4h2.6v3h-8.2zM1546.2,1201.2h2.6v-4h3v4h2.6v3h-8.2zM1548.8,1212.7h5.8v5.8h-5.8zM1549.5,1132.4h2.6v-4h3v4h2.6v3h-8.2zM1552.2,1120.3h5.8v5.8h-5.8zM1552.9,1152.6h2.6v-4h3v4h2.6v3h-8.2zM1554.6,1225.5h2.6v-4h3v4h2.6v3h-8.2zM1556.2,1136.8h2.6v-4h3v4h2.6v3h-8.2zM1557.9,1178.0h2.6v-4h3v4h2.6v3h-8.2zM1559.6,1112.8h5.6v3h2.6v3h-8.2zM1561.3,1136.4h2.6v-4h3v4h2.6v3h-8.2zM1563.0,1126.4h5.6v3h2.6v3h-8.2zM1564.6,1120.3h2.6v-4h3v4h2.6v3h-8.2zM1566.3,1144.1h5.6v3h2.6v3h-8.2zM1568.0,1113.7h2.6v-4h3v4h2.6v3h-8.2zM1569.7,1094.5h5.6v3h2.6v3h-8.2zM1571.3,1206.4h2.6v-4h3v4h2.6v3h-8.2zM1574.0,1096.4h5.8v5.8h-5.8zM1574.7,1154.3h2.6v-4h3v4h2.6v3h-8.2zM1576.4,1111.1h5.6v3h2.6v3h-8.2zM1578.1,1123.5h2.6v-4h3v4h2.6v3h-8.2zM1579.7,1166.8h2.6v-4h3v4h2.6v3h-8.2zM1581.4,1141.5h2.6v-4h3v4h2.6v3h-8.2zM1584.8,1148.7h2.6v-4h3v4h2.6v3h-8.2zM1586.5,1138.2h2.6v-4h3v4h2.6v3h-8.2zM1588.1,1104.9h2.6v-4h3v4h2.6v3h-8.2zM1589.8,1143.2h2.6v-4h3v4h2.6v3h-8.2zM1591.5,1134.0h2.6v-4h3v4h2.6v3h-8.2zM1594.2,1176.9h5.8v5.8h-5.8zM1595.8,1124.1h5.8v5.8h-5.8zM1596.5,1102.6h5.6v3h2.6v3h-8.2zM1598.2,1115.0h2.6v-4h3v4h2.6v3h-8.2zM1599.9,1115.0h5.6v3h2.6v3h-8.2zM1602.6,1143.7h5.8v5.8h-5.8zM1603.2,1173.2h2.6v-4h3v4h2.6v3h-8.2zM1604.9,1140.8h2.6v-4h3v4h2.6v3h-8.2zM1607.6,1180.8h5.8v5.8h-5.8zM1608.3,1181.2h2.6v-4h3v4h2.6v3h-8.2zM1610.0,1114.4h5.6v3h2.6v3h-8.2zM1612.6,1159.7h5.8v5.8h-5.8zM1613.3,1093.7h2.6v-4h3v4h2.6v3h-8.2zM1615.0,1184.0h5.6v3h2.6v3h-8.2zM1616.7,1118.3h5.6v3h2.6v3h-8.2zM1619.3,1176.6h5.8v5.8h-5.8zM1620.0,1133.3h2.6v-4h3v4h2.6v3h-8.2zM1621.7,1171.2h2.6v-4h3v4h2.6v3h-8.2zM1623.4,1138.6h2.6v-4h3v4h2.6v3h-8.2zM1626.1,1139.8h5.8v5.8h-5.8zM1626.7,1149.1h2.6v-4h3v4h2.6v3h-8.2zM1628.4,1124.4h2.6v-4h3v4h2.6v3h-8.2zM1630.1,1097.0h2.6v-4h3v4h2.6v3h-8.2zM1631.8,1160.3h2.6v-4h3v4h2.6v3h-8.2zM1633.4,1111.5h5.6v3h2.6v3h-8.2zM1635.1,1141.6h2.6v-4h3v4h2.6v3h-8.2zM1637.8,1136.7h5.8v5.8h-5.8zM1638.5,1085.6h5.6v3h2.6v3h-8.2zM1640.2,1216.6h2.6v-4h3v4h2.6v3h-8.2zM1642.8,1154.1h5.8v5.8h-5.8zM1643.5,1201.1h5.6v3h2.6v3h-8.2zM1646.2,1219.1h5.8v5.8h-5.8zM1646.9,1140.8h2.6v-4h3v4h2.6v3h-8.2zM1649.6,1053.8h5.8v5.8h-5.8zM1650.2,1132.1h2.6v-4h3v4h2.6v3h-8.2zM1651.9,1099.2h2.6v-4h3v4h2.6v3h-8.2zM1653.6,1103.3h5.6v3h2.6v3h-8.2zM1655.3,1154.9h2.6v-4h3v4h2.6v3h-8.2zM1656.9,1128.7h2.6v-4h3v4h2.6v3h-8.2zM1658.6,1099.0h2.6v-4h3v4h2.6v3h-8.2zM1661.3,1137.6h5.8v5.8h-5.8zM1663.0,1125.5h5.8v5.8h-5.8zM1663.7,1130.0h2.6v-4h3v4h2.6v3h-8.2zM1665.3,1198.5h2.6v-4h3v4h2.6v3h-8.2zM1667.0,1164.4h2.6v-4h3v4h2.6v3h-8.2zM1668.7,1136.6h2.6v-4h3v4h2.6v3h-8.2zM1670.4,1122.4h2.6v-4h3v4h2.6v3h-8.2zM1672.1,1166.9h2.6v-4h3v4h2.6v3h-8.2zM1673.7,1152.0h2.6v-4h3v4h2.6v3h-8.2zM1675.4,1145.7h5.6v3h2.6v3h-8.2zM1677.1,1147.3h2.6v-4h3v4h2.6v3h-8.2zM1679.8,1124.4h5.8v5.8h-5.8zM1680.4,1133.1h2.6v-4h3v4h2.6v3h-8.2zM1683.1,1132.6h5.8v5.8h-5.8zM1683.8,1196.2h2.6v-4h3v4h2.6v3h-8.2zM1685.5,1178.8h5.6v3h2.6v3h-8.2zM1688.2,1126.7h5.8v5.8h-5.8zM1689.8,1188.7h5.8v5.8h-5.8zM1690.5,1138.3h2.6v-4h3v4h2.6v3h-8.2zM1694.9,1173.5h5.8v5.8h-5.8zM1695.5,1118.7h5.6v3h2.6v3h-8.2zM1698.2,1159.8h5.8v5.8h-5.8zM1699.9,1157.2h5.8v5.8h-5.8zM1700.6,1192.6h2.6v-4h3v4h2.6v3h-8.2zM1702.3,1142.2h2.6v-4h3v4h2.6v3h-8.2zM1704.9,1076.5h5.8v5.8h-5.8zM1705.6,1223.9h2.6v-4h3v4h2.6v3h-8.2zM1708.3,1145.9h5.8v5.8h-5.8zM1709.0,1147.2h2.6v-4h3v4h2.6v3h-8.2zM1710.7,1116.1h2.6v-4h3v4h2.6v3h-8.2zM1712.3,1153.6h5.6v3h2.6v3h-8.2zM1714.0,1261.7h2.6v-4h3v4h2.6v3h-8.2zM1715.7,1105.2h2.6v-4h3v4h2.6v3h-8.2zM1718.4,1168.7h5.8v5.8h-5.8zM1720.0,1143.3h5.8v5.8h-5.8zM1720.7,1187.4h5.6v3h2.6v3h-8.2zM1722.4,1170.3h5.6v3h2.6v3h-8.2zM1724.1,1162.2h2.6v-4h3v4h2.6v3h-8.2zM1725.8,1120.7h2.6v-4h3v4h2.6v3h-8.2zM1728.4,1120.7h5.8v5.8h-5.8zM1729.1,1164.1h2.6v-4h3v4h2.6v3h-8.2zM1730.8,1129.7h2.6v-4h3v4h2.6v3h-8.2zM1732.5,1154.6h5.6v3h2.6v3h-8.2zM1734.2,1143.5h2.6v-4h3v4h2.6v3h-8.2zM1735.8,1167.4h5.6v3h2.6v3h-8.2zM1737.5,1131.1h2.6v-4h3v4h2.6v3h-8.2zM1739.2,1169.0h2.6v-4h3v4h2.6v3h-8.2zM1740.9,1146.2h2.6v-4h3v4h2.6v3h-8.2zM1742.5,1139.9h2.6v-4h3v4h2.6v3h-8.2zM1744.2,1145.1h2.6v-4h3v4h2.6v3h-8.2zM1745.9,1168.9h2.6v-4h3v4h2.6v3h-8.2zM1747.6,1099.0h2.6v-4h3v4h2.6v3h-8.2zM1749.3,1163.2h2.6v-4h3v4h2.6v3h-8.2zM1750.9,1125.7h2.6v-4h3v4h2.6v3h-8.2zM1752.6,1136.7h2.6v-4h3v4h2.6v3h-8.2zM1754.3,1111.2h2.6v-4h3v4h2.6v3h-8.2zM1756.0,1246.5h2.6v-4h3v4h2.6v3h-8.2zM1757.6,1090.3h5.6v3h2.6v3h-8.2zM1759.3,1188.6h2.6v-4h3v4h2.6v3h-8.2zM1761.0,1184.8h2.6v-4h3v4h2.6v3h-8.2zM1762.7,1145.0h2.6v-4h3v4h2.6v3h-8.2zM1764.4,1084.8h5.6v3h2.6v3h-8.2zM1766.0,1126.7h5.6v3h2.6v3h-8.2zM1768.7,1202.6h5.8v5.8h-5.8zM1769.4,1153.9h5.6v3h2.6v3h-8.2zM1772.1,1104.2h5.8v5.8h-5.8zM1772.8,1206.9h2.6v-4h3v4h2.6v3h-8.2zM1774.4,1141.5h5.6v3h2.6v3h-8.2zM1777.8,1091.5h5.6v3h2.6v3h-8.2zM1779.5,1154.3h5.6v3h2.6v3h-8.2zM1782.1,1105.5h5.8v5.8h-5.8zM1782.8,1167.2h2.6v-4h3v4h2.6v3h-8.2zM1784.5,1175.1h2.6v-4h3v4h2.6v3h-8.2zM1787.2,1111.3h5.8v5.8h-5.8zM1787.9,1127.6h2.6v-4h3v4h2.6v3h-8.2zM1789.5,1208.1h2.6v-4h3v4h2.6v3h-8.2zM1791.2,1119.7h2.6v-4h3v4h2.6v3h-8.2zM1792.9,1128.0h2.6v-4h3v4h2.6v3h-8.2zM1794.6,1180.1h2.6v-4h3v4h2.6v3h-8.2zM1796.3,1139.4h5.6v3h2.6v3h-8.2zM1797.9,1143.2h2.6v-4h3v4h2.6v3h-8.2zM1799.6,1163.4h2.6v-4h3v4h2.6v3h-8.2zM1801.3,1164.0h5.6v3h2.6v3h-8.2zM1803.0,1176.3h2.6v-4h3v4h2.6v3h-8.2zM1804.6,1161.3h2.6v-4h3v4h2.6v3h-8.2zM1806.3,1199.5h2.6v-4h3v4h2.6v3h-8.2zM1808.0,1150.0h2.6v-4h3v4h2.6v3h-8.2zM1810.7,1220.9h5.8v5.8h-5.8zM1811.4,1142.1h2.6v-4h3v4h2.6v3h-8.2zM1813.0,1150.6h2.6v-4h3v4h2.6v3h-8.2zM1814.7,1185.6h2.6v-4h3v4h2.6v3h-8.2zM1816.4,1122.8h2.6v-4h3v4h2.6v3h-8.2zM1818.1,1100.9h2.6v-4h3v4h2.6v3h-8.2zM1820.8,1108.7h5.8v5.8h-5.8zM1821.4,1194.7h2.6v-4h3v4h2.6v3h-8.2zM1823.1,1110.3h2.6v-4h3v4h2.6v3h-8.2zM1824.8,1140.0h2.6v-4h3v4h2.6v3h-8.2zM1826.5,1148.2h5.6v3h2.6v3h-8.2zM1828.1,1172.5h2.6v-4h3v4h2.6v3h-8.2zM1830.8,1140.3h5.8v5.8h-5.8zM1831.5,1112.7h2.6v-4h3v4h2.6v3h-8.2zM1833.2,1131.0h5.6v3h2.6v3h-8.2zM1834.9,1172.1h2.6v-4h3v4h2.6v3h-8.2zM1836.5,1175.9h2.6v-4h3v4h2.6v3h-8.2zM1838.2,1171.2h2.6v-4h3v4h2.6v3h-8.2zM1839.9,1265.1h2.6v-4h3v4h2.6v3h-8.2zM1841.6,1096.8h5.6v3h2.6v3h-8.2zM1843.2,1191.5h2.6v-4h3v4h2.6v3h-8.2zM1844.9,1147.2h5.6v3h2.6v3h-8.2zM1846.6,1148.3h5.6v3h2.6v3h-8.2zM1849.3,1166.4h5.8v5.8h-5.8zM1850.0,1142.0h2.6v-4h3v4h2.6v3h-8.2zM1851.6,1133.3h2.6v-4h3v4h2.6v3h-8.2zM1853.3,1211.8h2.6v-4h3v4h2.6v3h-8.2zM1855.0,1282.4h2.6v-4h3v4h2.6v3h-8.2zM1857.7,1112.1h5.8v5.8h-5.8zM1859.4,1127.9h5.8v5.8h-5.8zM1861.0,1125.2h5.8v5.8h-5.8zM1862.7,1162.8h5.8v5.8h-5.8zM1864.4,1160.4h5.8v5.8h-5.8zM1865.1,1135.2h2.6v-4h3v4h2.6v3h-8.2zM1866.7,1162.1h2.6v-4h3v4h2.6v3h-8.2zM1868.4,1198.9h2.6v-4h3v4h2.6v3h-8.2zM1871.1,1153.7h5.8v5.8h-5.8zM1871.8,1118.0h2.6v-4h3v4h2.6v3h-8.2zM1873.5,1186.2h2.6v-4h3v4h2.6v3h-8.2zM1875.1,1112.2h5.6v3h2.6v3h-8.2zM1877.8,1125.1h5.8v5.8h-5.8zM1878.5,1173.9h2.6v-4h3v4h2.6v3h-8.2zM1880.2,1149.3h5.6v3h2.6v3h-8.2zM1882.9,1146.1h5.8v5.8h-5.8zM1884.5,1122.8h5.8v5.8h-5.8zM1886.2,1123.7h5.8v5.8h-5.8zM1887.9,1199.5h5.8v5.8h-5.8zM1888.6,1197.5h2.6v-4h3v4h2.6v3h-8.2zM1890.2,1123.2h2.6v-4h3v4h2.6v3h-8.2zM1892.9,1148.9h5.8v5.8h-5.8zM1893.6,1136.0h2.6v-4h3v4h2.6v3h-8.2zM1896.3,1131.9h5.8v5.8h-5.8zM1898.0,1103.2h5.8v5.8h-5.8zM1899.6,1200.1h5.8v5.8h-5.8zM1900.3,1117.2h2.6v-4h3v4h2.6v3h-8.2zM1903.0,1173.2h5.8v5.8h-5.8zM1903.7,1130.9h2.6v-4h3v4h2.6v3h-8.2zM1906.3,1117.8h5.8v5.8h-5.8zM1907.0,1199.1h2.6v-4h3v4h2.6v3h-8.2zM1908.7,1132.6h5.6v3h2.6v3h-8.2zM1910.4,1186.2h2.6v-4h3v4h2.6v3h-8.2zM1912.1,1188.7h2.6v-4h3v4h2.6v3h-8.2zM1913.7,1155.7h2.6v-4h3v4h2.6v3h-8.2zM1915.4,1182.0h5.6v3h2.6v3h-8.2zM1917.1,1182.5h2.6v-4h3v4h2.6v3h-8.2zM1918.8,1130.1h2.6v-4h3v4h2.6v3h-8.2zM1920.5,1127.5h2.6v-4h3v4h2.6v3h-8.2zM1922.1,1166.2h5.6v3h2.6v3h-8.2zM1924.8,1209.2h5.8v5.8h-5.8zM1925.5,1090.4h5.6v3h2.6v3h-8.2zM1928.2,1175.3h5.8v5.8h-5.8zM1929.8,1136.1h5.8v5.8h-5.8zM1931.5,1188.6h5.8v5.8h-5.8zM1933.2,1170.5h5.8v5.8h-5.8zM1933.9,1138.5h5.6v3h2.6v3h-8.2zM1935.6,1191.3h2.6v-4h3v4h2.6v3h-8.2zM1937.2,1100.3h5.6v3h2.6v3h-8.2zM1939.9,1148.4h5.8v5.8h-5.8zM1940.6,1138.3h2.6v-4h3v4h2.6v3h-8.2zM1942.3,1184.7h2.6v-4h3v4h2.6v3h-8.2zM1945.0,1175.3h5.8v5.8h-5.8zM1945.6,1188.6h5.6v3h2.6v3h-8.2zM1947.3,1139.9h2.6v-4h3v4h2.6v3h-8.2zM1949.0,1156.0h2.6v-4h3v4h2.6v3h-8.2zM1950.7,1156.0h2.6v-4h3v4h2.6v3h-8.2zM1953.3,1147.4h5.8v5.8h-5.8zM1954.0,1147.8h2.6v-4h3v4h2.6v3h-8.2zM1955.7,1111.9h2.6v-4h3v4h2.6v3h-8.2zM1957.4,1160.8h2.6v-4h3v4h2.6v3h-8.2zM1959.1,1183.3h2.6v-4h3v4h2.6v3h-8.2zM1960.7,1155.6h2.6v-4h3v4h2.6v3h-8.2zM1962.4,1108.8h2.6v-4h3v4h2.6v3h-8.2zM1964.1,1194.9h5.6v3h2.6v3h-8.2zM1965.8,1256.1h5.6v3h2.6v3h-8.2zM1967.4,1169.2h2.6v-4h3v4h2.6v3h-8.2zM1969.1,1139.0h5.6v3h2.6v3h-8.2zM1970.8,1141.4h5.6v3h2.6v3h-8.2zM1973.5,1173.9h5.8v5.8h-5.8zM1974.2,1161.3h2.6v-4h3v4h2.6v3h-8.2zM1975.8,1122.7h2.6v-4h3v4h2.6v3h-8.2zM1977.5,1123.7h5.6v3h2.6v3h-8.2zM1980.2,1132.9h5.8v5.8h-5.8zM1980.9,1125.9h5.6v3h2.6v3h-8.2zM1982.6,1162.5h2.6v-4h3v4h2.6v3h-8.2zM1984.2,1164.2h5.6v3h2.6v3h-8.2zM1986.9,1126.0h5.8v5.8h-5.8zM1987.6,1195.9h2.6v-4h3v4h2.6v3h-8.2zM1989.3,1147.8h2.6v-4h3v4h2.6v3h-8.2zM1990.9,1235.0h2.6v-4h3v4h2.6v3h-8.2zM1992.6,1166.6h5.6v3h2.6v3h-8.2zM1994.3,1182.8h2.6v-4h3v4h2.6v3h-8.2zM1996.0,1189.5h2.6v-4h3v4h2.6v3h-8.2zM1997.7,1136.2h2.6v-4h3v4h2.6v3h-8.2zM1999.3,1174.1h5.6v3h2.6v3h-8.2zM2001.0,1161.0h2.6v-4h3v4h2.6v3h-8.2zM2002.7,1157.9h2.6v-4h3v4h2.6v3h-8.2zM2005.4,1181.2h5.8v5.8h-5.8zM2006.1,1111.5h2.6v-4h3v4h2.6v3h-8.2zM2008.7,1163.7h5.8v5.8h-5.8zM2009.4,1142.8h5.6v3h2.6v3h-8.2zM2011.1,1199.4h2.6v-4h3v4h2.6v3h-8.2zM2012.8,1172.8h2.6v-4h3v4h2.6v3h-8.2zM2014.4,1165.2h2.6v-4h3v4h2.6v3h-8.2zM2017.1,1163.1h5.8v5.8h-5.8zM2017.8,1171.1h2.6v-4h3v4h2.6v3h-8.2zM2019.5,1151.9h2.6v-4h3v4h2.6v3h-8.2zM2021.2,1110.1h2.6v-4h3v4h2.6v3h-8.2zM2022.8,1160.0h5.6v3h2.6v3h-8.2zM2024.5,1159.2h2.6v-4h3v4h2.6v3h-8.2zM2026.2,1169.1h2.6v-4h3v4h2.6v3h-8.2zM2027.9,1090.4h2.6v-4h3v4h2.6v3h-8.2zM2029.6,1109.7h2.6v-4h3v4h2.6v3h-8.2zM2031.2,1134.9h5.6v3h2.6v3h-8.2zM2032.9,1130.8h5.6v3h2.6v3h-8.2zM2034.6,1190.1h2.6v-4h3v4h2.6v3h-8.2zM2036.3,1154.9h2.6v-4h3v4h2.6v3h-8.2zM2037.9,1150.0h2.6v-4h3v4h2.6v3h-8.2zM2039.6,1151.4h2.6v-4h3v4h2.6v3h-8.2zM2041.3,1190.0h2.6v-4h3v4h2.6v3h-8.2zM2043.0,1177.9h2.6v-4h3v4h2.6v3h-8.2zM2044.7,1141.8h2.6v-4h3v4h2.6v3h-8.2zM2046.3,1142.8h2.6v-4h3v4h2.6v3h-8.2zM2049.7,1145.3h2.6v-4h3v4h2.6v3h-8.2zM2051.4,1112.0h5.6v3h2.6v3h-8.2zM2054.0,1171.2h5.8v5.8h-5.8zM2054.7,1151.5h2.6v-4h3v4h2.6v3h-8.2zM2056.4,1222.8h2.6v-4h3v4h2.6v3h-8.2zM2058.1,1126.1h2.6v-4h3v4h2.6v3h-8.2zM2059.8,1192.9h2.6v-4h3v4h2.6v3h-8.2zM2062.4,1195.7h5.8v5.8h-5.8zM2063.1,1162.2h5.6v3h2.6v3h-8.2zM2064.8,1173.7h5.6v3h2.6v3h-8.2zM2067.5,1168.0h5.8v5.8h-5.8zM2068.2,1197.3h2.6v-4h3v4h2.6v3h-8.2zM2069.8,1144.3h2.6v-4h3v4h2.6v3h-8.2zM2071.5,1141.2h5.6v3h2.6v3h-8.2zM2073.2,1108.9h2.6v-4h3v4h2.6v3h-8.2zM2075.9,1196.3h5.8v5.8h-5.8zM2077.5,1216.2h5.8v5.8h-5.8zM2078.2,1161.1h2.6v-4h3v4h2.6v3h-8.2zM2080.9,1136.0h5.8v5.8h-5.8zM2081.6,1137.7h5.6v3h2.6v3h-8.2zM2083.3,1128.0h2.6v-4h3v4h2.6v3h-8.2zM2084.9,1208.3h5.6v3h2.6v3h-8.2zM2086.6,1185.1h2.6v-4h3v4h2.6v3h-8.2zM2089.3,1160.7h5.8v5.8h-5.8zM2091.0,1124.4h5.8v5.8h-5.8zM2092.7,1141.8h5.8v5.8h-5.8zM2093.3,1166.0h2.6v-4h3v4h2.6v3h-8.2zM2095.0,1182.3h5.6v3h2.6v3h-8.2zM2096.7,1130.8h2.6v-4h3v4h2.6v3h-8.2zM2099.4,1121.0h5.8v5.8h-5.8zM2100.0,1086.4h2.6v-4h3v4h2.6v3h-8.2zM2101.7,1158.7h2.6v-4h3v4h2.6v3h-8.2zM2103.4,1114.5h2.6v-4h3v4h2.6v3h-8.2z"/>
</g>
<g id="fits" fill="none" stroke-linejoin="round">
<path d="M435.3,189.4 L436.1,198.3 L437.0,206.9 L437.8,215.3 L438.7,223.3 L439.5,231.0 L440.3,238.5 L441.2,245.7 L442.0,252.6 L442.8,259.3 L443.7,265.7 L444.5,271.8 L445.4,277.8 L446.2,283.5 L447.0,289.0 L447.9,294.4 L448.7,299.5 L449.6,304.5 L450.4,309.3 L451.2,313.9 L452.1,318.4 L452.9,322.7 L453.8,326.9 L454.6,331.0 L455.4,335.0 L456.3,338.9 L457.1,342.6 L458.0,346.3 L458.8,349.9 L459.6,353.4 L460.5,356.9 L461.3,360.2 L462.1,363.5 L463.0,366.7 L463.8,369.9 L464.7,373.0 L465.5,376.1 L466.3,379.1 L467.2,382.1 L468.0,385.0 L468.9,387.9 L469.7,390.7 L470.5,393.5 L471.4,396.3 L472.2,399.0 L473.1,401.7 L473.9,404.4 L474.7,407.0 L475.6,409.6 L476.4,412.2 L477.3,414.8 L478.1,417.3 L478.9,419.8 L479.8,422.3 L480.6,424.8 L481.4,427.2 L482.3,429.7 L483.1,432.1 L484.0,434.5 L484.8,436.8 L485.6,439.2 L486.5,441.5 L487.3,443.8 L488.2,446.1 L489.0,448.4 L489.8,450.6 L490.7,452.9 L491.5,455.1 L492.4,457.3 L493.2,459.5 L494.0,461.6 L494.9,463.8 L495.7,465.9 L496.6,468.1 L497.4,470.2 L498.2,472.3 L499.1,474.3 L499.9,476.4 L500.8,478.5 L501.6,480.5 L502.4,482.5 L503.3,484.5 L504.1,486.5 L504.9,488.5 L505.8,490.5 L506.6,492.4 L507.5,494.4 L508.3,496.3 L509.1,498.2 L510.0,500.1 L510.8,502.0 L511.7,503.9 L512.5,505.8 L512.9,506.7 L517.1,515.8 L521.3,524.7 L525.5,533.3 L529.7,541.7 L533.9,549.8 L538.1,557.8 L542.3,565.5 L546.5,573.1 L550.7,580.5 L554.9,587.8 L559.1,594.9 L563.3,601.9 L567.5,608.8 L571.7,615.6 L575.9,622.3 L580.1,628.9 L584.3,635.5 L588.4,641.9 L592.6,648.3 L596.8,654.6 L601.0,660.9 L605.2,667.1 L609.4,673.3 L613.6,679.4 L617.8,685.5 L622.0,691.5 L626.2,697.5 L630.4,703.5 L634.6,709.4 L638.8,715.3 L643.0,721.2 L647.2,727.0 L651.4,732.8 L655.6,738.6 L659.8,744.4 L664.0,750.1 L668.2,755.8 L672.4,761.4 L676.6,767.1 L680.8,772.7 L685.0,778.2 L689.2,783.8 L693.3,789.3 L697.5,794.8 L701.7,800.2 L705.9,805.7 L710.1,811.1 L714.3,816.4 L718.5,821.7 L722.7,827.0 L726.9,832.3 L731.1,837.5 L735.3,842.7 L739.5,847.8" stroke="#00b400" stroke-width="9" stroke-dasharray="3 3"/>
<path d="M435.3,189.4 L436.1,198.3 L437.0,206.9 L437.8,215.3 L438.7,223.3 L439.5,231.0 L440.3,238.5 L441.2,245.7 L442.0,252.6 L442.8,259.3 L443.7,265.7 L444.5,271.8 L445.4,277.8 L446.2,283.5 L447.0,289.0 L447.9,294.4 L448.7,299.5 L449.6,304.5 L450.4,309.3 L451.2,313.9 L452.1,318.4 L452.9,322.7 L453.8,326.9 L454.6,331.0 L455.4,335.0 L456.3,338.9 L457.1,342.6 L458.0,346.3 L458.8,349.9 L459.6,353.4 L460.5,356.9 L461.3,360.2 L462.1,363.5 L463.0,366.7 L463.8,369.9 L464.7,373.0 L465.5,376.1 L466.3,379.1 L467.2,382.1 L468.0,385.0 L468.9,387.9 L469.7,390.7 L470.5,393.5 L471.4,396.3 L472.2,399.0 L473.1,401.7 L473.9,404.4 L474.7,407.0 L475.6,409.6 L476.4,412.2 L477.3,414.8 L478.1,417.3 L478.9,419.8 L479.8,422.3 L480.6,424.8 L481.4,427.2 L482.3,429.7 L483.1,432.1 L484.0,434.5 L484.8,436.8 L485.6,439.2 L486.5,441.5 L487.3,443.8 L488.2,446.1 L489.0,448.4 L489.8,450.6 L490.7,452.9 L491.5,455.1 L492.4,457.3 L493.2,459.5 L494.0,461.6 L494.9,463.8 L495.7,465.9 L496.6,468.1 L497.4,470.2 L498.2,472.3 L499.1,474.3 L499.9,476.4 L500.8,478.5 L501.6,480.5 L502.4,482.5 L503.3,484.5 L504.1,486.5 L504.9,488.5 L505.8,490.5 L506.6,492.4 L507.5,494.4 L508.3,496.3 L509.1,498.2 L510.0,500.1 L510.8,502.0 L511.7,503.9 L512.5,505.8 L512.9,506.7 L517.1,515.8 L521.3,524.7 L525.5,533.3 L529.7,541.7 L533.9,549.8 L538.1,557.8 L542.3,565.5 L546.5,573.1 L550.7,580.5 L554.9,587.8 L559.1,594.9 L563.3,601.9 L567.5,608.8 L571.7,615.6 L575.9,622.3 L580.1,628.9 L584.3,635.5 L588.4,641.9 L592.6,648.3 L596.8,654.6 L601.0,660.9 L605.2,667.1 L609.4,673.3 L613.6,679.4 L617.8,685.5 L622.0,691.5 L626.2,697.5 L630.4,703.5 L634.6,709.4 L638.8,715.3 L643.0,721.2 L647.2,727.0 L651.4,732.8 L655.6,738.6 L659.8,744.4 L664.0,750.1 L668.2,755.8 L672.4,761.4 L676.6,767.1 L680.8,772.7 L685.0,778.2 L689.2,783.8 L693.3,789.3 L697.5,794.8 L701.7,800.2 L705.9,805.7 L710.1,811.1 L714.3,816.4 L718.5,821.7 L722.7,827.0 L726.9,832.3 L731.1,837.5 L735.3,842.7 L739.5,847.8" stroke="#ffb9ff" stroke-width="4.6"/>
<path d="M739.5,847.8 L743.7,852.9 L747.9,858.0 L752.1,863.0 L756.3,867.9 L760.5,872.9 L764.7,877.7 L768.9,882.6 L773.1,887.4 L777.3,892.1 L781.5,896.8 L785.7,901.4 L789.9,906.0 L794.1,910.5 L798.2,915.0 L802.4,919.4 L806.6,923.7 L810.8,928.0 L815.0,932.2 L819.2,936.4 L823.4,940.5 L827.6,944.6 L831.8,948.5 L836.0,952.4 L840.2,956.3 L844.4,960.1 L848.6,963.8 L852.8,967.4 L857.0,971.0 L861.2,974.5 L865.4,977.9 L869.6,981.3 L873.8,984.6 L878.0,987.8 L882.2,991.0 L886.4,994.0 L890.6,997.0 L894.8,1000.0 L899.0,1002.8 L903.1,1005.6 L907.3,1008.4 L911.5,1011.0 L915.7,1013.6 L919.9,1016.1 L924.1,1018.5 L928.3,1020.9 L932.5,1023.2 L936.7,1025.5 L940.9,1027.6 L945.1,1029.7 L949.3,1031.8 L953.5,1033.8 L957.7,1035.7 L961.9,1037.5 L966.1,1039.3 L970.3,1041.1 L974.5,1042.8 L978.7,1044.4 L982.9,1046.0 L987.1,1047.5 L991.3,1048.9 L995.5,1050.3 L999.7,1051.7 L1003.9,1053.0 L1008.0,1054.3 L1012.2,1055.5 L1016.4,1056.7 L1020.6,1057.8 L1024.8,1058.9 L1029.0,1059.9 L1033.2,1060.9 L1037.4,1061.9 L1041.6,1062.8 L1045.8,1063.7 L1050.0,1064.6 L1054.2,1065.4 L1058.4,1066.2 L1062.6,1067.0 L1066.8,1067.7 L1071.0,1068.4 L1075.2,1069.1 L1079.4,1069.7 L1083.6,1070.3 L1087.8,1070.9 L1092.0,1071.5 L1096.2,1072.0 L1100.4,1072.6 L1104.6,1073.1 L1108.8,1073.5 L1112.9,1074.0 L1117.1,1074.4 L1121.3,1074.8 L1125.5,1075.2 L1129.7,1075.6 L1133.9,1076.0 L1138.1,1076.3 L1142.3,1076.7 L1146.5,1077.0 L1150.7,1077.3 L1154.9,1077.6 L1159.1,1077.9 L1163.3,1078.2 L1167.5,1078.4 L1171.7,1078.7 L1175.9,1078.9 L1180.1,1079.1 L1184.3,1079.3 L1188.5,1079.5 L1192.7,1079.7 L1196.9,1079.9 L1201.1,1080.1 L1205.3,1080.3 L1209.5,1080.4 L1213.7,1080.6 L1217.8,1080.8 L1222.0,1080.9 L1226.2,1081.0 L1230.4,1081.2 L1234.6,1081.3 L1238.8,1081.4 L1243.0,1081.5 L1247.2,1081.6 L1251.4,1081.7 L1255.6,1081.8 L1259.8,1081.9 L1264.0,1082.0 L1268.2,1082.1 L1272.4,1082.2 L1276.6,1082.3 L1280.8,1082.3 L1285.0,1082.4 L1289.2,1082.5 L1293.4,1082.5 L1297.6,1082.6 L1301.8,1082.7 L1306.0,1082.7 L1310.2,1082.8 L1314.4,1082.8 L1318.6,1082.9 L1322.7,1082.9 L1326.9,1083.0 L1331.1,1083.0 L1335.3,1083.1 L1339.5,1083.1 L1343.7,1083.1 L1347.9,1083.2 L1352.1,1083.2 L1356.3,1083.2 L1360.5,1083.3 L1364.7,1083.3 L1368.9,1083.3 L1373.1,1083.3 L1377.3,1083.4 L1381.5,1083.4 L1385.7,1083.4 L1389.9,1083.4 L1394.1,1083.5 L1398.3,1083.5 L1402.5,1083.5 L1406.7,1083.5 L1410.9,1083.5 L1415.1,1083.6 L1419.3,1083.6 L1423.5,1083.6 L1427.6,1083.6 L1431.8,1083.6 L1436.0,1083.6 L1440.2,1083.6 L1444.4,1083.7 L1448.6,1083.7 L1452.8,1083.7 L1457.0,1083.7 L1461.2,1083.7 L1465.4,1083.7 L1469.6,1083.7 L1473.8,1083.7 L1478.0,1083.7 L1482.2,1083.7 L1486.4,1083.8 L1490.6,1083.8 L1494.8,1083.8 L1499.0,1083.8 L1503.2,1083.8 L1507.4,1083.8 L1511.6,1083.8 L1515.8,1083.8 L1520.0,1083.8 L1524.2,1083.8 L1528.4,1083.8 L1532.5,1083.8 L1536.7,1083.8 L1540.9,1083.8 L1545.1,1083.8 L1549.3,1083.8 L1553.5,1083.8 L1557.7,1083.8 L1561.9,1083.8 L1566.1,1083.8 L1570.3,1083.9 L1574.5,1083.9 L1578.7,1083.9 L1582.9,1083.9 L1587.1,1083.9 L1589.0,1083.9" stroke="#00c800" stroke-width="8.3"/>
<path d="M739.5,847.8 L743.7,852.9 L747.9,858.0 L752.1,863.0 L756.3,867.9 L760.5,872.9 L764.7,877.7 L768.9,882.6 L773.1,887.4 L777.3,892.1 L781.5,896.8 L785.7,901.4 L789.9,906.0 L794.1,910.5 L798.2,915.0 L802.4,919.4 L806.6,923.7 L810.8,928.0 L815.0,932.2 L819.2,936.4 L823.4,940.5 L827.6,944.6 L831.8,948.5 L836.0,952.4 L840.2,956.3 L844.4,960.1 L848.6,963.8 L852.8,967.4 L857.0,971.0 L861.2,974.5 L865.4,977.9 L869.6,981.3 L873.8,984.6 L878.0,987.8 L882.2,991.0 L886.4,994.0 L890.6,997.0 L894.8,1000.0 L899.0,1002.8 L903.1,1005.6 L907.3,1008.4 L911.5,1011.0 L915.7,1013.6 L919.9,1016.1 L924.1,1018.5 L928.3,1020.9 L932.5,1023.2 L936.7,1025.5 L940.9,1027.6 L945.1,1029.7 L949.3,1031.8 L953.5,1033.8 L957.7,1035.7 L961.9,1037.5 L966.1,1039.3 L970.3,1041.1 L974.5,1042.8 L978.7,1044.4 L982.9,1046.0 L987.1,1047.5 L991.3,1048.9 L995.5,1050.3 L999.7,1051.7 L1003.9,1053.0 L1008.0,1054.3 L1012.2,1055.5 L1016.4,1056.7 L1020.6,1057.8 L1024.8,1058.9 L1029.0,1059.9 L1033.2,1060.9 L1037.4,1061.9 L1041.6,1062.8 L1045.8,1063.7 L1050.0,1064.6 L1054.2,1065.4 L1058.4,1066.2 L1062.6,1067.0 L1066.8,1067.7 L1071.0,1068.4 L1075.2,1069.1 L1079.4,1069.7 L1083.6,1070.3 L1087.8,1070.9 L1092.0,1071.5 L1096.2,1072.0 L1100.4,1072.6 L1104.6,1073.1 L1108.8,1073.5 L1112.9,1074.0 L1117.1,1074.4 L1121.3,1074.8 L1125.5,1075.2 L1129.7,1075.6 L1133.9,1076.0 L1138.1,1076.3 L1142.3,1076.7 L1146.5,1077.0 L1150.7,1077.3 L1154.9,1077.6 L1159.1,1077.9 L1163.3,1078.2 L1167.5,1078.4 L1171.7,1078.7 L1175.9,1078.9 L1180.1,1079.1 L1184.3,1079.3 L1188.5,1079.5 L1192.7,1079.7 L1196.9,1079.9 L1201.1,1080.1 L1205.3,1080.3 L1209.5,1080.4 L1213.7,1080.6 L1217.8,1080.8 L1222.0,1080.9 L1226.2,1081.0 L1230.4,1081.2 L1234.6,1081.3 L1238.8,1081.4 L1243.0,1081.5 L1247.2,1081.6 L1251.4,1081.7 L1255.6,1081.8 L1259.8,1081.9 L1264.0,1082.0 L1268.2,1082.1 L1272.4,1082.2 L1276.6,1082.3 L1280.8,1082.3 L1285.0,1082.4 L1289.2,1082.5 L1293.4,1082.5 L1297.6,1082.6 L1301.8,1082.7 L1306.0,1082.7 L1310.2,1082.8 L1314.4,1082.8 L1318.6,1082.9 L1322.7,1082.9 L1326.9,1083.0 L1331.1,1083.0 L1335.3,1083.1 L1339.5,1083.1 L1343.7,1083.1 L1347.9,1083.2 L1352.1,1083.2 L1356.3,1083.2 L1360.5,1083.3 L1364.7,1083.3 L1368.9,1083.3 L1373.1,1083.3 L1377.3,1083.4 L1381.5,1083.4 L1385.7,1083.4 L1389.9,1083.4 L1394.1,1083.5 L1398.3,1083.5 L1402.5,1083.5 L1406.7,1083.5 L1410.9,1083.5 L1415.1,1083.6 L1419.3,1083.6 L1423.5,1083.6 L1427.6,1083.6 L1431.8,1083.6 L1436.0,1083.6 L1440.2,1083.6 L1444.4,1083.7 L1448.6,1083.7 L1452.8,1083.7 L1457.0,1083.7 L1461.2,1083.7 L1465.4,1083.7 L1469.6,1083.7 L1473.8,1083.7 L1478.0,1083.7 L1482.2,1083.7 L1486.4,1083.8 L1490.6,1083.8 L1494.8,1083.8 L1499.0,1083.8 L1503.2,1083.8 L1507.4,1083.8 L1511.6,1083.8 L1515.8,1083.8 L1520.0,1083.8 L1524.2,1083.8 L1528.4,1083.8 L1532.5,1083.8 L1536.7,1083.8 L1540.9,1083.8 L1545.1,1083.8 L1549.3,1083.8 L1553.5,1083.8 L1557.7,1083.8 L1561.9,1083.8 L1566.1,1083.8 L1570.3,1083.9 L1574.5,1083.9 L1578.7,1083.9 L1582.9,1083.9 L1587.1,1083.9 L1589.0,1083.9" stroke="#ffb9ff" stroke-width="4" stroke-dasharray="6 38 3 70 8 55 4 90 5 12 9 8 4 20 8 10 6 14 10 9 4 30 6 16 5 90 4 18 3 40 6 200 4 500"/>
<path d="M432.0,188.6 L432.9,202.6 L433.7,215.9 L434.5,228.5 L435.4,240.4 L436.2,251.6 L437.1,262.2 L437.9,272.0 L438.7,281.3 L439.6,290.0 L440.4,298.1 L441.3,305.7 L442.1,312.8 L442.9,319.5 L443.8,325.9 L444.6,331.8 L445.4,337.5 L446.3,342.8 L447.1,347.9 L448.0,352.7 L448.8,357.4 L449.6,361.8 L450.5,366.1 L451.3,370.3 L452.2,374.3 L453.0,378.1 L453.8,381.9 L454.7,385.5 L455.5,389.1 L456.4,392.6 L457.2,396.0 L458.0,399.4 L458.9,402.7 L459.7,405.9 L460.6,409.0 L461.4,412.2 L462.2,415.2 L463.1,418.3 L463.9,421.3 L464.7,424.2 L465.6,427.1 L466.4,430.0 L467.3,432.8 L468.1,435.6 L468.9,438.4 L469.8,441.1 L470.6,443.8 L471.5,446.5 L472.3,449.1 L473.1,451.7 L474.0,454.3 L474.8,456.9 L475.7,459.4 L476.5,461.9 L477.3,464.4 L478.2,466.9 L479.0,469.3 L479.9,471.7 L480.7,474.1 L481.5,476.4 L482.4,478.8 L483.2,481.1 L484.1,483.4 L484.9,485.6 L485.7,487.9 L486.6,490.1 L487.4,492.3 L488.2,494.5 L489.1,496.7 L489.9,498.8 L490.8,500.9 L491.6,503.0 L492.4,505.1 L493.3,507.2 L494.1,509.3 L495.0,511.3 L495.8,513.3 L496.6,515.3 L497.5,517.3 L498.3,519.2 L499.2,521.2 L500.0,523.1 L500.8,525.1 L501.7,527.0 L502.5,528.8 L503.4,530.7 L504.2,532.6 L505.0,534.4 L505.9,536.2 L506.7,538.1 L507.5,539.9 L508.4,541.7 L509.2,543.4 L510.1,545.2 L510.9,547.0 L511.7,548.7 L512.6,550.4 L512.9,551.1 L517.1,559.6 L521.3,567.8 L525.5,575.8 L529.7,583.6 L533.9,591.2 L538.1,598.6 L542.3,605.9 L546.5,613.1 L550.7,620.1 L554.9,627.0 L559.1,633.8 L563.3,640.5 L567.5,647.1 L571.7,653.6 L575.9,660.0 L580.1,666.4 L584.3,672.7 L588.4,678.8 L592.6,685.0 L596.8,691.0 L601.0,697.0 L605.2,702.8 L609.4,708.7 L613.6,714.4 L617.8,720.0 L622.0,725.6 L626.2,731.1 L630.4,736.5 L634.6,741.9 L638.8,747.1 L643.0,752.3 L647.2,757.3 L651.4,762.3 L655.6,767.2 L659.8,772.0 L664.0,776.7 L668.2,781.3 L672.4,785.9 L676.6,790.3 L680.8,794.6 L685.0,798.8 L689.2,803.0 L693.3,807.0 L697.5,810.9 L701.7,814.7 L705.9,818.5 L710.1,822.1 L714.3,825.6 L718.5,829.0 L722.7,832.3 L726.9,835.6 L731.1,838.7 L735.3,841.7 L739.5,844.6 L743.7,847.5 L747.9,850.2 L752.1,852.8 L756.3,855.4 L760.5,857.8 L764.7,860.2 L768.9,862.5 L773.1,864.6 L777.3,866.8 L781.5,868.8 L785.7,870.7 L789.9,872.6 L794.1,874.4 L798.2,876.1 L802.4,877.7 L806.6,879.3 L810.8,880.8 L815.0,882.2 L819.2,883.6 L823.4,884.9 L827.6,886.2 L831.8,887.4 L836.0,888.5 L840.2,889.6 L844.4,890.7 L848.6,891.7 L852.8,892.6 L857.0,893.5 L861.2,894.4 L865.4,895.2 L869.6,895.9 L873.8,896.7 L878.0,897.4 L882.2,898.1 L886.4,898.7 L890.6,899.3 L894.8,899.9 L899.0,900.4 L903.1,900.9 L907.3,901.4 L911.5,901.9 L915.7,902.3 L919.9,902.8 L924.1,903.2 L928.3,903.5 L932.5,903.9 L936.7,904.2 L940.9,904.6 L945.1,904.9 L949.3,905.1 L953.5,905.4 L957.7,905.7 L961.9,905.9 L966.1,906.2 L970.3,906.4 L974.5,906.6 L978.7,906.8 L982.9,907.0 L987.1,907.2 L991.3,907.3 L995.5,907.5 L999.7,907.6 L1003.9,907.8 L1008.0,907.9 L1012.2,908.0 L1016.4,908.2 L1020.6,908.3 L1024.8,908.4 L1029.0,908.5 L1033.2,908.6 L1037.4,908.7 L1041.6,908.8 L1045.8,908.9 L1050.0,908.9 L1054.2,909.0 L1058.4,909.1 L1062.6,909.1 L1066.8,909.2 L1071.0,909.3 L1075.2,909.3 L1079.4,909.4 L1083.6,909.4 L1087.8,909.5 L1092.0,909.5 L1096.2,909.6 L1100.4,909.6 L1104.6,909.6 L1108.8,909.7 L1112.9,909.7 L1117.1,909.7 L1121.3,909.8 L1125.5,909.8 L1129.7,909.8 L1133.9,909.9 L1138.1,909.9 L1142.3,909.9 L1146.5,909.9 L1150.7,910.0 L1154.9,910.0 L1159.1,910.0 L1163.3,910.0 L1167.5,910.0 L1171.7,910.0 L1175.9,910.1 L1180.1,910.1 L1184.3,910.1 L1188.5,910.1 L1192.7,910.1 L1196.9,910.1 L1201.1,910.1 L1205.3,910.1 L1209.5,910.1 L1213.7,910.2 L1217.8,910.2 L1222.0,910.2 L1226.2,910.2 L1230.4,910.2 L1234.6,910.2 L1238.8,910.2 L1243.0,910.2 L1247.2,910.2 L1251.4,910.2 L1255.6,910.2 L1259.8,910.2 L1264.0,910.2 L1268.2,910.2 L1272.4,910.2 L1276.6,910.2 L1280.8,910.3 L1285.0,910.3 L1289.2,910.3 L1293.4,910.3 L1297.6,910.3 L1301.8,910.3 L1306.0,910.3 L1310.2,910.3 L1314.4,910.3 L1318.6,910.3 L1322.7,910.3 L1326.9,910.3 L1331.1,910.3 L1335.3,910.3 L1339.5,910.3 L1343.7,910.3 L1347.9,910.3 L1352.1,910.3 L1356.3,910.3 L1360.5,910.3 L1364.7,910.3 L1368.9,910.3 L1373.1,910.3 L1377.3,910.3 L1381.5,910.3 L1385.7,910.3 L1389.9,910.3 L1394.1,910.3 L1398.3,910.3 L1402.5,910.3 L1406.7,910.3 L1410.9,910.3 L1415.1,910.3 L1419.3,910.3 L1423.5,910.3 L1427.6,910.3 L1431.8,910.3 L1436.0,910.3 L1440.2,910.3 L1444.4,910.3 L1448.6,910.3 L1452.8,910.3 L1457.0,910.3 L1461.2,910.3 L1465.4,910.3 L1469.6,910.3 L1473.8,910.3 L1478.0,910.3 L1482.2,910.3 L1486.4,910.3 L1490.6,910.3 L1494.8,910.3 L1499.0,910.3 L1503.2,910.3 L1507.4,910.3 L1511.6,910.3 L1515.8,910.3 L1520.0,910.3 L1521.0,910.3" stroke="#00bfff" stroke-width="8.5"/>
<path d="M442.5,304.7 L443.3,311.8 L444.1,318.5 L445.0,324.9 L445.8,330.8 L446.6,336.5 L447.5,341.8 L448.3,346.9 L449.2,351.7 L450.0,356.4 L450.8,360.8 L451.7,365.1 L452.5,369.3 L453.4,373.3 L454.2,377.1 L455.0,380.9 L455.9,384.5 L456.7,388.1 L457.6,391.6 L458.4,395.0 L459.2,398.4 L460.1,401.7 L460.9,404.9 L461.8,408.0 L462.6,411.2 L463.4,414.2 L464.3,417.3 L465.1,420.3 L465.9,423.2 L466.8,426.1 L467.6,429.0 L468.5,431.8 L469.3,434.6 L470.1,437.4 L471.0,440.1 L471.8,442.8 L472.7,445.5 L473.5,448.1 L474.3,450.7 L475.2,453.3 L476.0,455.9 L476.9,458.4 L477.7,460.9 L478.5,463.4 L479.4,465.9 L480.2,468.3 L481.1,470.7 L481.9,473.1 L482.7,475.4 L483.6,477.8 L484.4,480.1 L485.3,482.4 L486.1,484.6 L486.9,486.9 L487.8,489.1 L488.6,491.3 L489.4,493.5 L490.3,495.7 L491.1,497.8 L492.0,499.9 L492.8,502.0 L493.6,504.1 L494.5,506.2 L495.3,508.3 L496.2,510.3 L497.0,512.3 L497.8,514.3 L498.7,516.3 L499.5,518.2 L500.4,520.2 L501.2,522.1 L502.0,524.1 L502.9,526.0 L503.7,527.8 L504.6,529.7 L505.4,531.6 L506.2,533.4 L507.1,535.2 L507.9,537.1 L508.7,538.9 L509.6,540.7 L510.4,542.4 L511.3,544.2 L512.1,546.0 L512.9,547.7 L513.8,549.4 L514.1,550.1 L518.3,558.6 L522.5,566.8 L526.7,574.8 L530.9,582.6 L535.1,590.2 L539.3,597.6 L543.5,604.9 L547.7,612.1 L551.9,619.1 L556.1,626.0 L560.3,632.8 L564.5,639.5 L568.7,646.1 L572.9,652.6 L577.1,659.0 L581.3,665.4 L585.5,671.7 L589.6,677.8 L593.8,684.0 L598.0,690.0 L602.2,696.0 L606.4,701.8 L610.6,707.7 L614.8,713.4 L619.0,719.0 L623.2,724.6 L627.4,730.1 L631.6,735.5 L635.8,740.9 L640.0,746.1 L644.2,751.3 L648.4,756.3 L652.6,761.3 L656.8,766.2 L661.0,771.0 L665.2,775.7 L669.4,780.3 L673.6,784.9 L677.8,789.3 L682.0,793.6 L686.2,797.8 L690.4,802.0 L694.5,806.0 L698.7,809.9 L702.9,813.7 L707.1,817.5 L711.3,821.1 L715.5,824.6 L719.7,828.0 L723.9,831.3 L728.1,834.6 L732.3,837.7 L736.5,840.7 L740.7,843.6 L744.9,846.5 L749.1,849.2 L753.3,851.8" stroke="#ff40ff" stroke-width="6.2"/>
<path d="M431.5,183v7" stroke="#ff40ff" stroke-width="6"/>
<path d="M756.3,855.4 L760.5,857.8 L764.7,860.2 L768.9,862.5 L773.1,864.6 L777.3,866.8 L781.5,868.8 L785.7,870.7 L789.9,872.6 L794.1,874.4 L798.2,876.1 L802.4,877.7 L806.6,879.3 L810.8,880.8 L815.0,882.2 L819.2,883.6 L823.4,884.9 L827.6,886.2 L831.8,887.4 L836.0,888.5 L840.2,889.6 L844.4,890.7 L848.6,891.7 L852.8,892.6 L857.0,893.5 L861.2,894.4 L865.4,895.2 L869.6,895.9 L873.8,896.7 L878.0,897.4 L882.2,898.1 L886.4,898.7 L890.6,899.3 L894.8,899.9 L899.0,900.4 L903.1,900.9 L907.3,901.4 L911.5,901.9 L915.7,902.3 L919.9,902.8 L924.1,903.2 L928.3,903.5 L932.5,903.9 L936.7,904.2 L940.9,904.6 L945.1,904.9 L949.3,905.1 L953.5,905.4 L957.7,905.7 L961.9,905.9 L966.1,906.2 L970.3,906.4 L974.5,906.6 L978.7,906.8 L982.9,907.0 L987.1,907.2 L991.3,907.3 L995.5,907.5 L999.7,907.6 L1003.9,907.8 L1008.0,907.9 L1012.2,908.0 L1016.4,908.2 L1020.6,908.3 L1024.8,908.4 L1029.0,908.5 L1033.2,908.6 L1037.4,908.7 L1041.6,908.8 L1045.8,908.9 L1050.0,908.9 L1054.2,909.0 L1058.4,909.1 L1062.6,909.1 L1066.8,909.2 L1071.0,909.3 L1075.2,909.3 L1079.4,909.4 L1083.6,909.4 L1087.8,909.5 L1092.0,909.5 L1096.2,909.6 L1100.4,909.6 L1104.6,909.6 L1108.8,909.7 L1112.9,909.7 L1117.1,909.7 L1121.3,909.8 L1125.5,909.8 L1129.7,909.8 L1133.9,909.9 L1138.1,909.9 L1142.3,909.9 L1146.5,909.9 L1150.7,910.0 L1154.9,910.0 L1159.1,910.0 L1163.3,910.0 L1167.5,910.0 L1171.7,910.0 L1175.9,910.1 L1180.1,910.1 L1184.3,910.1 L1188.5,910.1 L1192.7,910.1 L1196.9,910.1 L1201.1,910.1 L1205.3,910.1 L1209.5,910.1 L1213.7,910.2 L1217.8,910.2 L1222.0,910.2 L1226.2,910.2 L1230.4,910.2 L1234.6,910.2 L1238.8,910.2 L1243.0,910.2 L1247.2,910.2 L1251.4,910.2 L1255.6,910.2 L1259.8,910.2 L1264.0,910.2 L1268.2,910.2 L1272.4,910.2 L1276.6,910.2 L1280.8,910.3 L1285.0,910.3 L1289.2,910.3 L1293.4,910.3 L1297.6,910.3 L1301.8,910.3 L1306.0,910.3 L1310.2,910.3 L1314.4,910.3 L1318.6,910.3 L1322.7,910.3 L1326.9,910.3 L1331.1,910.3 L1335.3,910.3 L1339.5,910.3 L1343.7,910.3 L1347.9,910.3 L1352.1,910.3 L1356.3,910.3 L1360.5,910.3 L1364.7,910.3 L1368.9,910.3 L1373.1,910.3 L1377.3,910.3 L1381.5,910.3 L1385.7,910.3 L1389.9,910.3 L1394.1,910.3 L1398.3,910.3 L1402.5,910.3 L1406.7,910.3 L1410.9,910.3 L1415.1,910.3 L1419.3,910.3 L1423.5,910.3 L1427.6,910.3 L1431.8,910.3 L1436.0,910.3 L1440.2,910.3 L1444.4,910.3 L1448.6,910.3 L1452.8,910.3 L1457.0,910.3 L1461.2,910.3 L1465.4,910.3 L1469.6,910.3 L1473.8,910.3 L1478.0,910.3 L1482.2,910.3 L1486.4,910.3 L1490.6,910.3 L1494.8,910.3 L1499.0,910.3 L1503.2,910.3 L1507.4,910.3 L1511.6,910.3 L1515.8,910.3 L1520.0,910.3 L1521.0,910.3" stroke="#ff40ff" stroke-width="6" stroke-dasharray="9 30 5 24 12 60 7 18 6 48"/>
<path d="M434.8,201.2 L435.2,208.0 L435.6,214.6 L436.0,221.1 L436.5,227.3 L436.9,233.4 L437.3,239.3 L437.7,245.0 L438.1,250.6 L438.6,255.9 L439.0,261.1 L439.4,266.2 L439.8,271.1 L440.2,275.8 L440.7,280.4 L441.1,284.8 L441.5,289.1 L441.9,293.3 L442.3,297.3 L442.7,301.2 L443.2,305.0 L443.6,308.6 L444.0,312.1 L444.4,315.6 L444.8,318.9 L445.3,322.1 L445.7,325.2 L446.1,328.3 L446.5,331.2 L446.9,334.1 L447.4,336.9 L447.8,339.6" stroke="#ff8c00" stroke-width="7" stroke-dasharray="28 12 26 20 10 14"/>
<path d="M435.8,201.2 L436.2,208.0 L436.6,214.6 L437.0,221.1 L437.5,227.3 L437.9,233.4 L438.3,239.3 L438.7,245.0 L439.1,250.6 L439.6,255.9 L440.0,261.1 L440.4,266.2 L440.8,271.1 L441.2,275.8 L441.7,280.4 L442.1,284.8 L442.5,289.1 L442.9,293.3 L443.3,297.3 L443.7,301.2 L444.2,305.0 L444.6,308.6 L445.0,312.1 L445.4,315.6 L445.8,318.9 L446.3,322.1 L446.7,325.2 L447.1,328.3 L447.5,331.2 L447.9,334.1 L448.4,336.9 L448.8,339.6" stroke="#00f0f0" stroke-width="6" stroke-dasharray="0 30 8 30 9 24 8 200"/>
<path d="M435.8,201.2 L436.2,208.0 L436.6,214.6 L437.0,221.1 L437.5,227.3 L437.9,233.4 L438.3,239.3 L438.7,245.0 L439.1,250.6 L439.6,255.9 L440.0,261.1 L440.4,266.2 L440.8,271.1 L441.2,275.8 L441.7,280.4 L442.1,284.8 L442.5,289.1 L442.9,293.3 L443.3,297.3 L443.7,301.2 L444.2,305.0 L444.6,308.6 L445.0,312.1 L445.4,315.6 L445.8,318.9 L446.3,322.1 L446.7,325.2 L447.1,328.3 L447.5,331.2 L447.9,334.1 L448.4,336.9 L448.8,339.6" stroke="#008000" stroke-width="6" stroke-dasharray="0 40 6 34 8 22 8 200"/>
<path d="M732.8,840.9 L734.5,842.1 L736.1,843.3 L737.8,844.5 L739.5,845.6 L741.2,846.8 L742.9,847.9 L744.5,849.0 L746.2,850.1 L747.9,851.2 L749.6,852.3 L751.3,853.3 L752.9,854.3 L754.6,855.4 L756.3,856.4 L758.0,857.4 L759.6,858.3 L761.3,859.3 L763.0,860.3 L764.7,861.2 L766.4,862.1 L768.0,863.0 L769.7,863.9 L771.4,864.8 L773.1,865.6 L774.8,866.5 L776.4,867.3 L778.1,868.2 L779.8,869.0 L781.5,869.8 L783.1,870.6 L784.8,871.3 L786.5,872.1 L788.2,872.8 L789.9,873.6 L791.5,874.3 L793.2,875.0" stroke="#ff8c00" stroke-width="7" stroke-dasharray="0 14 26 200"/>
<path d="M732.8,837.9 L734.5,839.1 L736.1,840.3 L737.8,841.5 L739.5,842.6 L741.2,843.8 L742.9,844.9 L744.5,846.0 L746.2,847.1 L747.9,848.2 L749.6,849.3 L751.3,850.3 L752.9,851.3 L754.6,852.4 L756.3,853.4 L758.0,854.4 L759.6,855.3 L761.3,856.3 L763.0,857.3 L764.7,858.2 L766.4,859.1 L768.0,860.0 L769.7,860.9 L771.4,861.8 L773.1,862.6 L774.8,863.5 L776.4,864.3 L778.1,865.2 L779.8,866.0 L781.5,866.8 L783.1,867.6 L784.8,868.3 L786.5,869.1 L788.2,869.8 L789.9,870.6 L791.5,871.3 L793.2,872.0" stroke="#ffc000" stroke-width="6" stroke-dasharray="0 46 24 200"/>
<path d="M732.8,836.9 L734.5,838.1 L736.1,839.3 L737.8,840.5 L739.5,841.6 L741.2,842.8 L742.9,843.9 L744.5,845.0 L746.2,846.1 L747.9,847.2 L749.6,848.3 L751.3,849.3 L752.9,850.3 L754.6,851.4 L756.3,852.4 L758.0,853.4 L759.6,854.3 L761.3,855.3 L763.0,856.3 L764.7,857.2 L766.4,858.1 L768.0,859.0 L769.7,859.9 L771.4,860.8 L773.1,861.6 L774.8,862.5 L776.4,863.3 L778.1,864.2 L779.8,865.0 L781.5,865.8 L783.1,866.6 L784.8,867.3 L786.5,868.1 L788.2,868.8 L789.9,869.6 L791.5,870.3 L793.2,871.0" stroke="#ff3000" stroke-width="5" stroke-dasharray="0 2 10 200"/>
<path d="M736.8,839.9 L738.5,841.1 L740.1,842.3 L741.8,843.5 L743.5,844.6 L745.2,845.8 L746.9,846.9 L748.5,848.0 L750.2,849.1 L751.9,850.2 L753.6,851.3 L755.3,852.3 L756.9,853.3 L758.6,854.4 L760.3,855.4 L762.0,856.4 L763.6,857.3 L765.3,858.3 L767.0,859.3 L768.7,860.2 L770.4,861.1 L772.0,862.0 L773.7,862.9 L775.4,863.8 L777.1,864.6 L778.8,865.5 L780.4,866.3 L782.1,867.2 L783.8,868.0 L785.5,868.8 L787.1,869.6 L788.8,870.3 L790.5,871.1 L792.2,871.8 L793.9,872.6 L795.5,873.3 L797.2,874.0" stroke="#00f0f0" stroke-width="5" stroke-dasharray="0 30 7 200"/>
<path d="M785,902 l5,5" stroke="#ff3000" stroke-width="6"/>
</g>
<g id="ticklabels" font-size="75.6">
<text x="358.6" y="170.7" text-anchor="end">1</text>
<text x="358.6" y="471.5" text-anchor="end">0.1</text>
<text x="358.6" y="772.4" text-anchor="end">0.01</text>
<text x="358.6" y="1074.4" text-anchor="end">1E-3</text>
<text x="358.6" y="1373.7" text-anchor="end">1E-4</text>
<text x="430.7" y="1439" text-anchor="middle">0</text>
<text x="848.6" y="1439" text-anchor="middle">5</text>
<text x="1269.2" y="1439" text-anchor="middle">10</text>
<text x="1688.3" y="1439" text-anchor="middle">15</text>
<text x="2105.7" y="1439" text-anchor="middle">20</text>
</g>
<text x="1112" y="1581.5" font-size="83.5">Time / s</text>
<text transform="translate(109.3,1048.5) rotate(-90)" font-size="82">Normalized Intensity</text>
<text x="1198" y="201" font-size="75" font-weight="bold">Na<tspan font-size="44" dy="30">0.7</tspan><tspan dy="-30">(Mg</tspan><tspan font-size="44" dy="30">5.5</tspan><tspan dy="-30">Li</tspan><tspan font-size="44" dy="30">0.3</tspan><tspan dy="-30">)[Si</tspan><tspan font-size="44" dy="30">8</tspan><tspan dy="-30">O</tspan><tspan font-size="44" dy="30">20</tspan><tspan dy="-30">]X</tspan><tspan font-size="44" dy="30">4</tspan></text>
<text x="1200" y="323.2" font-size="56.7"><tspan class="ser" font-size="47" textLength="25" lengthAdjust="spacingAndGlyphs">λ</tspan><tspan font-size="46" dy="29.6" dx="2">exc</tspan><tspan dy="-29.6" dx="-0.5">: 255 nm, 293 K</tspan></text>
<text x="1200.8" y="431.9" font-size="63.5">y= y<tspan font-size="37" dy="24.6">0</tspan><tspan dy="-24.6">+A</tspan><tspan font-size="37" dy="24.6">1</tspan><tspan dy="-24.6">e</tspan><tspan class="ser" font-size="43" dy="-34.6" dx="1">(-<tspan font-size="47">x</tspan><tspan dx="-1.5">/τ1)</tspan></tspan><tspan dy="34.6">+A</tspan><tspan font-size="37" dy="24.6">2</tspan><tspan dy="-24.6">e</tspan><tspan class="ser" font-size="43" dy="-34.6" dx="1">(-<tspan font-size="47">x</tspan><tspan dx="-1.5">/τ2)</tspan></tspan><tspan dy="34.6">+A</tspan><tspan font-size="37" dy="24.6">3</tspan><tspan dy="-24.6">e</tspan><tspan class="ser" font-size="43" dy="-34.6" dx="1">(-<tspan font-size="47">x</tspan><tspan dx="-1.5">/τ3)</tspan></tspan></text>
<text x="812.5" y="632.1" font-size="65.5" style="fill:#008000">X: I, <tspan class="ser" font-size="56">λ</tspan><tspan font-size="38" dy="24.4" dx="3">em</tspan><tspan dy="-24.4">: 490 nm</tspan></text>
<text x="893" y="730.4" font-size="65.5" style="fill:#0000ff">Br, <tspan class="ser" font-size="56" dx="4.5">λ</tspan><tspan font-size="38" dy="24.4" dx="4">em</tspan><tspan dy="-24.4">: 470 nm</tspan></text>
</svg></body></html>
